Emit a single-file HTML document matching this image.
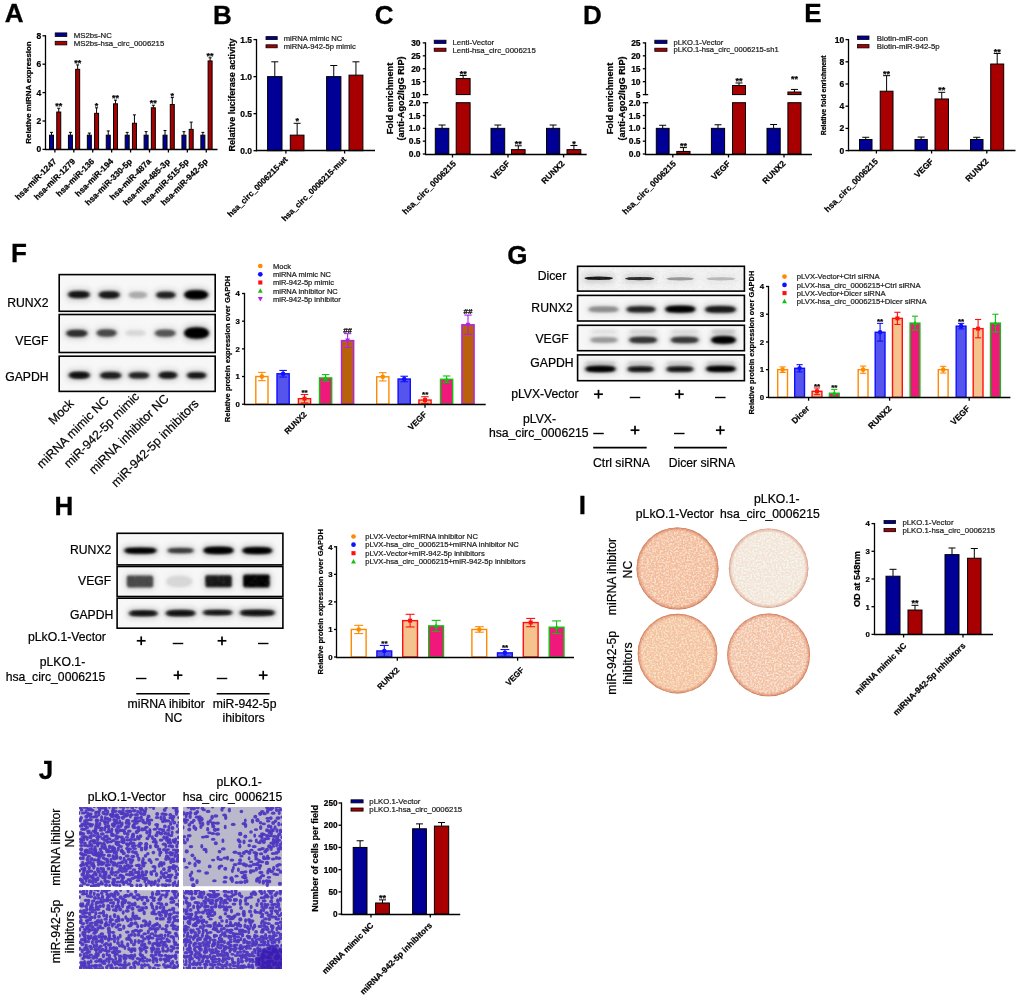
<!DOCTYPE html>
<html><head><meta charset="utf-8"><style>
html,body{margin:0;padding:0;background:#fff;}
svg{display:block;font-family:"Liberation Sans", sans-serif;will-change:transform;}
</style></head><body>
<svg width="1020" height="1000" viewBox="0 0 1020 1000">
<defs><filter id="bl1" x="-50%" y="-100%" width="200%" height="300%"><feGaussianBlur stdDeviation="1.4"/></filter><filter id="bl2" x="-50%" y="-100%" width="200%" height="300%"><feGaussianBlur stdDeviation="1.8"/></filter><filter id="bl3" x="-50%" y="-200%" width="200%" height="500%"><feGaussianBlur stdDeviation="3"/></filter><filter id="noisy" x="-20%" y="-50%" width="140%" height="200%"><feTurbulence type="fractalNoise" baseFrequency="0.6" numOctaves="2" seed="9" result="n"/><feColorMatrix in="n" type="matrix" values="0 0 0 0 0  0 0 0 0 0  0 0 0 0 0  0 0 0 -2.0 2.2" result="m"/><feComposite in="SourceGraphic" in2="m" operator="in" result="t"/><feGaussianBlur in="t" stdDeviation="0.8"/></filter><filter id="bgnoise" x="0" y="0" width="100%" height="100%"><feTurbulence type="fractalNoise" baseFrequency="0.9" numOctaves="2" seed="4" result="n"/><feColorMatrix in="n" type="matrix" values="0 0 0 0 0.45  0 0 0 0 0.45  0 0 0 0 0.45  0 0 0 -0.7 0.42"/></filter><filter id="bl05" x="-50%" y="-100%" width="200%" height="300%"><feGaussianBlur stdDeviation="0.7"/></filter><filter id="speck" x="0" y="0" width="100%" height="100%">
<feTurbulence type="fractalNoise" baseFrequency="0.55" numOctaves="3" seed="5" result="n"/>
<feColorMatrix in="n" type="matrix" values="0 0 0 0 0.90  0 0 0 0 0.50  0 0 0 0 0.33  3.6 0 0 0 -1.15" result="c"/>
<feComposite in="c" in2="SourceGraphic" operator="in"/>
</filter><radialGradient id="wg0"><stop offset="0.9" stop-color="#d07050" stop-opacity="0"/><stop offset="0.97" stop-color="#c86040" stop-opacity="0.405"/><stop offset="1" stop-color="#c05830" stop-opacity="0.81"/></radialGradient><radialGradient id="wg1"><stop offset="0.9" stop-color="#d07050" stop-opacity="0"/><stop offset="0.97" stop-color="#c86040" stop-opacity="0.315"/><stop offset="1" stop-color="#c05830" stop-opacity="0.63"/></radialGradient><radialGradient id="wg2"><stop offset="0.9" stop-color="#d07050" stop-opacity="0"/><stop offset="0.97" stop-color="#c86040" stop-opacity="0.405"/><stop offset="1" stop-color="#c05830" stop-opacity="0.81"/></radialGradient><radialGradient id="wg3"><stop offset="0.9" stop-color="#d07050" stop-opacity="0"/><stop offset="0.97" stop-color="#c86040" stop-opacity="0.405"/><stop offset="1" stop-color="#c05830" stop-opacity="0.81"/></radialGradient></defs>
<rect x="0" y="0" width="1020" height="1000" fill="#fff"/>
<text x="4.75" y="21.70" font-size="26.00" font-weight="bold" text-anchor="start" fill="#000" stroke="#000" stroke-width="0.3">A</text>
<text x="41.25" y="152.46" font-size="8.50" font-weight="bold" text-anchor="end" fill="#000" stroke="#000" stroke-width="0.22">0</text>
<text x="41.25" y="124.06" font-size="8.50" font-weight="bold" text-anchor="end" fill="#000" stroke="#000" stroke-width="0.22">2</text>
<text x="41.25" y="95.66" font-size="8.50" font-weight="bold" text-anchor="end" fill="#000" stroke="#000" stroke-width="0.22">4</text>
<text x="41.25" y="67.26" font-size="8.50" font-weight="bold" text-anchor="end" fill="#000" stroke="#000" stroke-width="0.22">6</text>
<text x="41.25" y="38.86" font-size="8.50" font-weight="bold" text-anchor="end" fill="#000" stroke="#000" stroke-width="0.22">8</text>
<line x1="51.50" y1="135.20" x2="51.50" y2="132.36" stroke="#000" stroke-width="1.0"/>
<line x1="50.00" y1="132.36" x2="53.00" y2="132.36" stroke="#000" stroke-width="1.0"/>
<rect x="49.50" y="135.20" width="4.00" height="14.20" fill="#000096" stroke="#000" stroke-width="1.0"/>
<line x1="58.75" y1="112.05" x2="58.75" y2="108.22" stroke="#000" stroke-width="1.0"/>
<line x1="57.25" y1="108.22" x2="60.25" y2="108.22" stroke="#000" stroke-width="1.0"/>
<rect x="56.75" y="112.05" width="4.00" height="37.35" fill="#a80000" stroke="#000" stroke-width="1.0"/>
<text x="58.75" y="109.32" font-size="9.00" font-weight="bold" text-anchor="middle" fill="#000" stroke="#000" stroke-width="0.22">**</text>
<text x="57.00" y="162.00" font-size="8.40" font-weight="bold" text-anchor="end" fill="#000" stroke="#000" stroke-width="0.22" transform="rotate(-45 57.00 162.00)">hsa-miR-1247</text>
<line x1="70.42" y1="135.20" x2="70.42" y2="132.36" stroke="#000" stroke-width="1.0"/>
<line x1="68.92" y1="132.36" x2="71.92" y2="132.36" stroke="#000" stroke-width="1.0"/>
<rect x="68.42" y="135.20" width="4.00" height="14.20" fill="#000096" stroke="#000" stroke-width="1.0"/>
<line x1="77.67" y1="69.31" x2="77.67" y2="64.91" stroke="#000" stroke-width="1.0"/>
<line x1="76.17" y1="64.91" x2="79.17" y2="64.91" stroke="#000" stroke-width="1.0"/>
<rect x="75.67" y="69.31" width="4.00" height="80.09" fill="#a80000" stroke="#000" stroke-width="1.0"/>
<text x="77.67" y="66.01" font-size="9.00" font-weight="bold" text-anchor="middle" fill="#000" stroke="#000" stroke-width="0.22">**</text>
<text x="75.92" y="162.00" font-size="8.40" font-weight="bold" text-anchor="end" fill="#000" stroke="#000" stroke-width="0.22" transform="rotate(-45 75.92 162.00)">hsa-miR-1279</text>
<line x1="89.34" y1="135.20" x2="89.34" y2="133.07" stroke="#000" stroke-width="1.0"/>
<line x1="87.84" y1="133.07" x2="90.84" y2="133.07" stroke="#000" stroke-width="1.0"/>
<rect x="87.34" y="135.20" width="4.00" height="14.20" fill="#000096" stroke="#000" stroke-width="1.0"/>
<line x1="96.59" y1="113.33" x2="96.59" y2="107.79" stroke="#000" stroke-width="1.0"/>
<line x1="95.09" y1="107.79" x2="98.09" y2="107.79" stroke="#000" stroke-width="1.0"/>
<rect x="94.59" y="113.33" width="4.00" height="36.07" fill="#a80000" stroke="#000" stroke-width="1.0"/>
<text x="96.59" y="108.89" font-size="9.00" font-weight="bold" text-anchor="middle" fill="#000" stroke="#000" stroke-width="0.22">*</text>
<text x="94.84" y="162.00" font-size="8.40" font-weight="bold" text-anchor="end" fill="#000" stroke="#000" stroke-width="0.22" transform="rotate(-45 94.84 162.00)">hsa-miR-136</text>
<line x1="108.26" y1="135.20" x2="108.26" y2="130.94" stroke="#000" stroke-width="1.0"/>
<line x1="106.76" y1="130.94" x2="109.76" y2="130.94" stroke="#000" stroke-width="1.0"/>
<rect x="106.26" y="135.20" width="4.00" height="14.20" fill="#000096" stroke="#000" stroke-width="1.0"/>
<line x1="115.51" y1="103.82" x2="115.51" y2="100.13" stroke="#000" stroke-width="1.0"/>
<line x1="114.01" y1="100.13" x2="117.01" y2="100.13" stroke="#000" stroke-width="1.0"/>
<rect x="113.51" y="103.82" width="4.00" height="45.58" fill="#a80000" stroke="#000" stroke-width="1.0"/>
<text x="115.51" y="101.23" font-size="9.00" font-weight="bold" text-anchor="middle" fill="#000" stroke="#000" stroke-width="0.22">**</text>
<text x="113.76" y="162.00" font-size="8.40" font-weight="bold" text-anchor="end" fill="#000" stroke="#000" stroke-width="0.22" transform="rotate(-45 113.76 162.00)">hsa-miR-194</text>
<line x1="127.18" y1="135.20" x2="127.18" y2="132.36" stroke="#000" stroke-width="1.0"/>
<line x1="125.68" y1="132.36" x2="128.68" y2="132.36" stroke="#000" stroke-width="1.0"/>
<rect x="125.18" y="135.20" width="4.00" height="14.20" fill="#000096" stroke="#000" stroke-width="1.0"/>
<line x1="134.43" y1="123.27" x2="134.43" y2="114.89" stroke="#000" stroke-width="1.0"/>
<line x1="132.93" y1="114.89" x2="135.93" y2="114.89" stroke="#000" stroke-width="1.0"/>
<rect x="132.43" y="123.27" width="4.00" height="26.13" fill="#a80000" stroke="#000" stroke-width="1.0"/>
<text x="132.68" y="162.00" font-size="8.40" font-weight="bold" text-anchor="end" fill="#000" stroke="#000" stroke-width="0.22" transform="rotate(-45 132.68 162.00)">hsa-miR-330-5p</text>
<line x1="146.10" y1="135.20" x2="146.10" y2="131.65" stroke="#000" stroke-width="1.0"/>
<line x1="144.60" y1="131.65" x2="147.60" y2="131.65" stroke="#000" stroke-width="1.0"/>
<rect x="144.10" y="135.20" width="4.00" height="14.20" fill="#000096" stroke="#000" stroke-width="1.0"/>
<line x1="153.35" y1="107.79" x2="153.35" y2="105.24" stroke="#000" stroke-width="1.0"/>
<line x1="151.85" y1="105.24" x2="154.85" y2="105.24" stroke="#000" stroke-width="1.0"/>
<rect x="151.35" y="107.79" width="4.00" height="41.61" fill="#a80000" stroke="#000" stroke-width="1.0"/>
<text x="153.35" y="106.34" font-size="9.00" font-weight="bold" text-anchor="middle" fill="#000" stroke="#000" stroke-width="0.22">**</text>
<text x="151.60" y="162.00" font-size="8.40" font-weight="bold" text-anchor="end" fill="#000" stroke="#000" stroke-width="0.22" transform="rotate(-45 151.60 162.00)">hsa-miR-487a</text>
<line x1="165.02" y1="135.20" x2="165.02" y2="130.51" stroke="#000" stroke-width="1.0"/>
<line x1="163.52" y1="130.51" x2="166.52" y2="130.51" stroke="#000" stroke-width="1.0"/>
<rect x="163.02" y="135.20" width="4.00" height="14.20" fill="#000096" stroke="#000" stroke-width="1.0"/>
<line x1="172.27" y1="104.53" x2="172.27" y2="97.57" stroke="#000" stroke-width="1.0"/>
<line x1="170.77" y1="97.57" x2="173.77" y2="97.57" stroke="#000" stroke-width="1.0"/>
<rect x="170.27" y="104.53" width="4.00" height="44.87" fill="#a80000" stroke="#000" stroke-width="1.0"/>
<text x="172.27" y="98.67" font-size="9.00" font-weight="bold" text-anchor="middle" fill="#000" stroke="#000" stroke-width="0.22">*</text>
<text x="170.52" y="162.00" font-size="8.40" font-weight="bold" text-anchor="end" fill="#000" stroke="#000" stroke-width="0.22" transform="rotate(-45 170.52 162.00)">hsa-miR-485-3p</text>
<line x1="183.94" y1="135.20" x2="183.94" y2="131.65" stroke="#000" stroke-width="1.0"/>
<line x1="182.44" y1="131.65" x2="185.44" y2="131.65" stroke="#000" stroke-width="1.0"/>
<rect x="181.94" y="135.20" width="4.00" height="14.20" fill="#000096" stroke="#000" stroke-width="1.0"/>
<line x1="191.19" y1="129.38" x2="191.19" y2="122.14" stroke="#000" stroke-width="1.0"/>
<line x1="189.69" y1="122.14" x2="192.69" y2="122.14" stroke="#000" stroke-width="1.0"/>
<rect x="189.19" y="129.38" width="4.00" height="20.02" fill="#a80000" stroke="#000" stroke-width="1.0"/>
<text x="189.44" y="162.00" font-size="8.40" font-weight="bold" text-anchor="end" fill="#000" stroke="#000" stroke-width="0.22" transform="rotate(-45 189.44 162.00)">hsa-miR-515-5p</text>
<line x1="202.86" y1="135.20" x2="202.86" y2="132.36" stroke="#000" stroke-width="1.0"/>
<line x1="201.36" y1="132.36" x2="204.36" y2="132.36" stroke="#000" stroke-width="1.0"/>
<rect x="200.86" y="135.20" width="4.00" height="14.20" fill="#000096" stroke="#000" stroke-width="1.0"/>
<line x1="210.11" y1="60.93" x2="210.11" y2="57.81" stroke="#000" stroke-width="1.0"/>
<line x1="208.61" y1="57.81" x2="211.61" y2="57.81" stroke="#000" stroke-width="1.0"/>
<rect x="208.11" y="60.93" width="4.00" height="88.47" fill="#a80000" stroke="#000" stroke-width="1.0"/>
<text x="210.11" y="58.91" font-size="9.00" font-weight="bold" text-anchor="middle" fill="#000" stroke="#000" stroke-width="0.22">**</text>
<text x="208.36" y="162.00" font-size="8.40" font-weight="bold" text-anchor="end" fill="#000" stroke="#000" stroke-width="0.22" transform="rotate(-45 208.36 162.00)">hsa-miR-942-5p</text>
<rect x="55.20" y="32.90" width="11.60" height="3.60" fill="#000096" stroke="#000" stroke-width="0.8"/>
<text x="73.70" y="37.51" font-size="7.80" font-weight="normal" text-anchor="start" fill="#222" stroke="#222" stroke-width="0.22">MS2bs-NC</text>
<rect x="55.20" y="41.30" width="11.60" height="3.60" fill="#a80000" stroke="#000" stroke-width="0.8"/>
<text x="73.70" y="45.91" font-size="7.80" font-weight="normal" text-anchor="start" fill="#222" stroke="#222" stroke-width="0.22">MS2bs-hsa_circ_0006215</text>
<text x="30.84" y="92.50" font-size="7.90" font-weight="bold" text-anchor="middle" fill="#000" stroke="#000" stroke-width="0.22" transform="rotate(-90 30.84 92.50)">Relative miRNA expression</text>
<text x="213.10" y="24.40" font-size="26.00" font-weight="bold" text-anchor="start" fill="#000" stroke="#000" stroke-width="0.3">B</text>
<text x="252.05" y="153.76" font-size="8.50" font-weight="bold" text-anchor="end" fill="#000" stroke="#000" stroke-width="0.22">0.0</text>
<text x="252.05" y="116.73" font-size="8.50" font-weight="bold" text-anchor="end" fill="#000" stroke="#000" stroke-width="0.22">0.5</text>
<text x="252.05" y="79.69" font-size="8.50" font-weight="bold" text-anchor="end" fill="#000" stroke="#000" stroke-width="0.22">1.0</text>
<text x="252.05" y="42.66" font-size="8.50" font-weight="bold" text-anchor="end" fill="#000" stroke="#000" stroke-width="0.22">1.5</text>
<line x1="274.80" y1="76.63" x2="274.80" y2="61.82" stroke="#000" stroke-width="1.0"/>
<line x1="271.30" y1="61.82" x2="278.30" y2="61.82" stroke="#000" stroke-width="1.0"/>
<rect x="267.60" y="76.63" width="14.40" height="74.07" fill="#000096" stroke="#000" stroke-width="1.0"/>
<line x1="297.15" y1="135.15" x2="297.15" y2="123.30" stroke="#000" stroke-width="1.0"/>
<line x1="293.65" y1="123.30" x2="300.65" y2="123.30" stroke="#000" stroke-width="1.0"/>
<rect x="290.30" y="135.15" width="13.70" height="15.55" fill="#a80000" stroke="#000" stroke-width="1.0"/>
<text x="297.15" y="124.40" font-size="9.00" font-weight="bold" text-anchor="middle" fill="#000" stroke="#000" stroke-width="0.22">*</text>
<line x1="333.75" y1="76.63" x2="333.75" y2="65.52" stroke="#000" stroke-width="1.0"/>
<line x1="330.25" y1="65.52" x2="337.25" y2="65.52" stroke="#000" stroke-width="1.0"/>
<rect x="326.60" y="76.63" width="14.30" height="74.07" fill="#000096" stroke="#000" stroke-width="1.0"/>
<line x1="355.95" y1="75.15" x2="355.95" y2="61.82" stroke="#000" stroke-width="1.0"/>
<line x1="352.45" y1="61.82" x2="359.45" y2="61.82" stroke="#000" stroke-width="1.0"/>
<rect x="349.00" y="75.15" width="13.90" height="75.55" fill="#a80000" stroke="#000" stroke-width="1.0"/>
<text x="288.30" y="160.00" font-size="8.20" font-weight="bold" text-anchor="end" fill="#000" stroke="#000" stroke-width="0.22" transform="rotate(-45 288.30 160.00)">hsa_circ_0006215-wt</text>
<text x="346.80" y="160.00" font-size="8.20" font-weight="bold" text-anchor="end" fill="#000" stroke="#000" stroke-width="0.22" transform="rotate(-45 346.80 160.00)">hsa_circ_0006215-mut</text>
<rect x="266.00" y="36.60" width="11.20" height="3.00" fill="#000096" stroke="#000" stroke-width="0.8"/>
<text x="283.70" y="40.84" font-size="7.60" font-weight="normal" text-anchor="start" fill="#222" stroke="#222" stroke-width="0.22">miRNA mimic NC</text>
<rect x="266.00" y="44.80" width="11.20" height="3.00" fill="#a80000" stroke="#000" stroke-width="0.8"/>
<text x="283.70" y="49.04" font-size="7.60" font-weight="normal" text-anchor="start" fill="#222" stroke="#222" stroke-width="0.22">miRNA-942-5p mimic</text>
<text x="235.25" y="95.00" font-size="9.04" font-weight="bold" text-anchor="middle" fill="#000" stroke="#000" stroke-width="0.22" transform="rotate(-90 235.25 95.00)">Relative luciferase activity</text>
<text x="374.80" y="24.30" font-size="26.00" font-weight="bold" text-anchor="start" fill="#000" stroke="#000" stroke-width="0.3">C</text>
<text x="420.60" y="45.96" font-size="8.50" font-weight="bold" text-anchor="end" fill="#000" stroke="#000" stroke-width="0.22">30</text>
<text x="420.60" y="58.89" font-size="8.50" font-weight="bold" text-anchor="end" fill="#000" stroke="#000" stroke-width="0.22">25</text>
<text x="420.60" y="71.81" font-size="8.50" font-weight="bold" text-anchor="end" fill="#000" stroke="#000" stroke-width="0.22">20</text>
<text x="420.60" y="84.73" font-size="8.50" font-weight="bold" text-anchor="end" fill="#000" stroke="#000" stroke-width="0.22">15</text>
<text x="420.60" y="97.66" font-size="8.50" font-weight="bold" text-anchor="end" fill="#000" stroke="#000" stroke-width="0.22">10</text>
<text x="420.60" y="157.06" font-size="8.50" font-weight="bold" text-anchor="end" fill="#000" stroke="#000" stroke-width="0.22">0.0</text>
<text x="420.60" y="144.24" font-size="8.50" font-weight="bold" text-anchor="end" fill="#000" stroke="#000" stroke-width="0.22">0.5</text>
<text x="420.60" y="131.41" font-size="8.50" font-weight="bold" text-anchor="end" fill="#000" stroke="#000" stroke-width="0.22">1.0</text>
<text x="420.60" y="118.59" font-size="8.50" font-weight="bold" text-anchor="end" fill="#000" stroke="#000" stroke-width="0.22">1.5</text>
<text x="420.60" y="105.76" font-size="8.50" font-weight="bold" text-anchor="end" fill="#000" stroke="#000" stroke-width="0.22">2.0</text>
<line x1="442.05" y1="128.35" x2="442.05" y2="125.02" stroke="#000" stroke-width="1.0"/>
<line x1="438.55" y1="125.02" x2="445.55" y2="125.02" stroke="#000" stroke-width="1.0"/>
<rect x="435.30" y="128.35" width="13.50" height="25.65" fill="#000096" stroke="#000" stroke-width="1.0"/>
<line x1="463.15" y1="78.57" x2="463.15" y2="75.47" stroke="#000" stroke-width="1.0"/>
<line x1="459.65" y1="75.47" x2="466.65" y2="75.47" stroke="#000" stroke-width="1.0"/>
<rect x="456.20" y="102.70" width="13.90" height="51.30" fill="#a80000" stroke="#000" stroke-width="1.0"/>
<rect x="456.20" y="78.57" width="13.90" height="16.03" fill="#a80000" stroke="#000" stroke-width="1.0"/>
<text x="463.15" y="76.57" font-size="9.00" font-weight="bold" text-anchor="middle" fill="#000" stroke="#000" stroke-width="0.22">**</text>
<line x1="497.85" y1="128.35" x2="497.85" y2="125.02" stroke="#000" stroke-width="1.0"/>
<line x1="494.35" y1="125.02" x2="501.35" y2="125.02" stroke="#000" stroke-width="1.0"/>
<rect x="491.00" y="128.35" width="13.70" height="25.65" fill="#000096" stroke="#000" stroke-width="1.0"/>
<line x1="518.30" y1="149.64" x2="518.30" y2="145.79" stroke="#000" stroke-width="1.0"/>
<line x1="514.80" y1="145.79" x2="521.80" y2="145.79" stroke="#000" stroke-width="1.0"/>
<rect x="511.50" y="149.64" width="13.60" height="4.36" fill="#a80000" stroke="#000" stroke-width="1.0"/>
<text x="518.30" y="146.89" font-size="9.00" font-weight="bold" text-anchor="middle" fill="#000" stroke="#000" stroke-width="0.22">**</text>
<line x1="553.10" y1="128.35" x2="553.10" y2="125.02" stroke="#000" stroke-width="1.0"/>
<line x1="549.60" y1="125.02" x2="556.60" y2="125.02" stroke="#000" stroke-width="1.0"/>
<rect x="546.50" y="128.35" width="13.20" height="25.65" fill="#000096" stroke="#000" stroke-width="1.0"/>
<line x1="573.90" y1="149.64" x2="573.90" y2="145.54" stroke="#000" stroke-width="1.0"/>
<line x1="570.40" y1="145.54" x2="577.40" y2="145.54" stroke="#000" stroke-width="1.0"/>
<rect x="567.00" y="149.64" width="13.80" height="4.36" fill="#a80000" stroke="#000" stroke-width="1.0"/>
<text x="573.90" y="146.64" font-size="9.00" font-weight="bold" text-anchor="middle" fill="#000" stroke="#000" stroke-width="0.22">*</text>
<text x="456.50" y="164.20" font-size="8.45" font-weight="bold" text-anchor="end" fill="#000" stroke="#000" stroke-width="0.22" transform="rotate(-45 456.50 164.20)">hsa_circ_0006215</text>
<text x="510.50" y="164.20" font-size="8.45" font-weight="bold" text-anchor="end" fill="#000" stroke="#000" stroke-width="0.22" transform="rotate(-45 510.50 164.20)">VEGF</text>
<text x="565.00" y="164.20" font-size="8.45" font-weight="bold" text-anchor="end" fill="#000" stroke="#000" stroke-width="0.22" transform="rotate(-45 565.00 164.20)">RUNX2</text>
<rect x="434.20" y="40.20" width="11.80" height="3.20" fill="#000096" stroke="#000" stroke-width="0.8"/>
<text x="452.50" y="44.61" font-size="7.80" font-weight="normal" text-anchor="start" fill="#222" stroke="#222" stroke-width="0.22">Lenti-Vector</text>
<rect x="434.20" y="48.20" width="11.80" height="3.10" fill="#a80000" stroke="#000" stroke-width="0.8"/>
<text x="452.50" y="52.56" font-size="7.80" font-weight="normal" text-anchor="start" fill="#222" stroke="#222" stroke-width="0.22">Lenti-hsa_circ_0006215</text>
<text x="392.81" y="98.50" font-size="9.20" font-weight="bold" text-anchor="middle" fill="#000" stroke="#000" stroke-width="0.22" transform="rotate(-90 392.81 98.50)">Fold enrichment</text>
<text x="403.81" y="98.50" font-size="9.20" font-weight="bold" text-anchor="middle" fill="#000" stroke="#000" stroke-width="0.22" transform="rotate(-90 403.81 98.50)">(anti-Ago2/IgG RIP)</text>
<text x="582.90" y="24.30" font-size="26.00" font-weight="bold" text-anchor="start" fill="#000" stroke="#000" stroke-width="0.3">D</text>
<text x="640.60" y="45.96" font-size="8.50" font-weight="bold" text-anchor="end" fill="#000" stroke="#000" stroke-width="0.22">25</text>
<text x="640.60" y="58.89" font-size="8.50" font-weight="bold" text-anchor="end" fill="#000" stroke="#000" stroke-width="0.22">20</text>
<text x="640.60" y="71.81" font-size="8.50" font-weight="bold" text-anchor="end" fill="#000" stroke="#000" stroke-width="0.22">15</text>
<text x="640.60" y="84.73" font-size="8.50" font-weight="bold" text-anchor="end" fill="#000" stroke="#000" stroke-width="0.22">10</text>
<text x="640.60" y="97.66" font-size="8.50" font-weight="bold" text-anchor="end" fill="#000" stroke="#000" stroke-width="0.22">5</text>
<text x="640.60" y="157.06" font-size="8.50" font-weight="bold" text-anchor="end" fill="#000" stroke="#000" stroke-width="0.22">0.0</text>
<text x="640.60" y="144.24" font-size="8.50" font-weight="bold" text-anchor="end" fill="#000" stroke="#000" stroke-width="0.22">0.5</text>
<text x="640.60" y="131.41" font-size="8.50" font-weight="bold" text-anchor="end" fill="#000" stroke="#000" stroke-width="0.22">1.0</text>
<text x="640.60" y="118.59" font-size="8.50" font-weight="bold" text-anchor="end" fill="#000" stroke="#000" stroke-width="0.22">1.5</text>
<text x="640.60" y="105.76" font-size="8.50" font-weight="bold" text-anchor="end" fill="#000" stroke="#000" stroke-width="0.22">2.0</text>
<line x1="662.70" y1="128.35" x2="662.70" y2="125.27" stroke="#000" stroke-width="1.0"/>
<line x1="659.20" y1="125.27" x2="666.20" y2="125.27" stroke="#000" stroke-width="1.0"/>
<rect x="656.30" y="128.35" width="12.80" height="25.65" fill="#000096" stroke="#000" stroke-width="1.0"/>
<line x1="683.40" y1="151.44" x2="683.40" y2="147.59" stroke="#000" stroke-width="1.0"/>
<line x1="679.90" y1="147.59" x2="686.90" y2="147.59" stroke="#000" stroke-width="1.0"/>
<rect x="676.80" y="151.44" width="13.20" height="2.56" fill="#a80000" stroke="#000" stroke-width="1.0"/>
<text x="683.40" y="148.69" font-size="9.00" font-weight="bold" text-anchor="middle" fill="#000" stroke="#000" stroke-width="0.22">**</text>
<line x1="718.00" y1="128.35" x2="718.00" y2="124.76" stroke="#000" stroke-width="1.0"/>
<line x1="714.50" y1="124.76" x2="721.50" y2="124.76" stroke="#000" stroke-width="1.0"/>
<rect x="711.40" y="128.35" width="13.20" height="25.65" fill="#000096" stroke="#000" stroke-width="1.0"/>
<line x1="739.00" y1="85.55" x2="739.00" y2="82.97" stroke="#000" stroke-width="1.0"/>
<line x1="735.50" y1="82.97" x2="742.50" y2="82.97" stroke="#000" stroke-width="1.0"/>
<rect x="732.50" y="102.70" width="13.00" height="51.30" fill="#a80000" stroke="#000" stroke-width="1.0"/>
<rect x="732.50" y="85.55" width="13.00" height="9.05" fill="#a80000" stroke="#000" stroke-width="1.0"/>
<text x="739.00" y="84.07" font-size="9.00" font-weight="bold" text-anchor="middle" fill="#000" stroke="#000" stroke-width="0.22">**</text>
<line x1="773.60" y1="128.35" x2="773.60" y2="124.50" stroke="#000" stroke-width="1.0"/>
<line x1="770.10" y1="124.50" x2="777.10" y2="124.50" stroke="#000" stroke-width="1.0"/>
<rect x="767.00" y="128.35" width="13.20" height="25.65" fill="#000096" stroke="#000" stroke-width="1.0"/>
<line x1="794.45" y1="92.02" x2="794.45" y2="89.43" stroke="#000" stroke-width="1.0"/>
<line x1="790.95" y1="89.43" x2="797.95" y2="89.43" stroke="#000" stroke-width="1.0"/>
<rect x="787.90" y="102.70" width="13.10" height="51.30" fill="#a80000" stroke="#000" stroke-width="1.0"/>
<rect x="787.90" y="92.02" width="13.10" height="2.58" fill="#a80000" stroke="#000" stroke-width="1.0"/>
<text x="794.45" y="81.60" font-size="9.00" font-weight="bold" text-anchor="middle" fill="#000" stroke="#000" stroke-width="0.22">**</text>
<text x="676.50" y="164.20" font-size="8.45" font-weight="bold" text-anchor="end" fill="#000" stroke="#000" stroke-width="0.22" transform="rotate(-45 676.50 164.20)">hsa_circ_0006215</text>
<text x="731.00" y="164.20" font-size="8.45" font-weight="bold" text-anchor="end" fill="#000" stroke="#000" stroke-width="0.22" transform="rotate(-45 731.00 164.20)">VEGF</text>
<text x="786.00" y="164.20" font-size="8.45" font-weight="bold" text-anchor="end" fill="#000" stroke="#000" stroke-width="0.22" transform="rotate(-45 786.00 164.20)">RUNX2</text>
<rect x="654.80" y="40.20" width="12.20" height="3.20" fill="#000096" stroke="#000" stroke-width="0.8"/>
<text x="673.50" y="44.54" font-size="7.60" font-weight="normal" text-anchor="start" fill="#222" stroke="#222" stroke-width="0.22">pLKO.1-Vector</text>
<rect x="654.80" y="48.20" width="12.20" height="3.10" fill="#a80000" stroke="#000" stroke-width="0.8"/>
<text x="673.50" y="52.49" font-size="7.60" font-weight="normal" text-anchor="start" fill="#222" stroke="#222" stroke-width="0.22">pLKO.1-hsa_circ_0006215-sh1</text>
<text x="612.81" y="98.50" font-size="9.20" font-weight="bold" text-anchor="middle" fill="#000" stroke="#000" stroke-width="0.22" transform="rotate(-90 612.81 98.50)">Fold enrichment</text>
<text x="624.81" y="98.50" font-size="9.20" font-weight="bold" text-anchor="middle" fill="#000" stroke="#000" stroke-width="0.22" transform="rotate(-90 624.81 98.50)">(anti-Ago2/IgG RIP)</text>
<text x="804.30" y="22.30" font-size="26.00" font-weight="bold" text-anchor="start" fill="#000" stroke="#000" stroke-width="0.3">E</text>
<text x="844.15" y="153.66" font-size="8.50" font-weight="bold" text-anchor="end" fill="#000" stroke="#000" stroke-width="0.22">0</text>
<text x="844.15" y="131.46" font-size="8.50" font-weight="bold" text-anchor="end" fill="#000" stroke="#000" stroke-width="0.22">2</text>
<text x="844.15" y="109.26" font-size="8.50" font-weight="bold" text-anchor="end" fill="#000" stroke="#000" stroke-width="0.22">4</text>
<text x="844.15" y="87.06" font-size="8.50" font-weight="bold" text-anchor="end" fill="#000" stroke="#000" stroke-width="0.22">6</text>
<text x="844.15" y="64.86" font-size="8.50" font-weight="bold" text-anchor="end" fill="#000" stroke="#000" stroke-width="0.22">8</text>
<text x="844.15" y="42.66" font-size="8.50" font-weight="bold" text-anchor="end" fill="#000" stroke="#000" stroke-width="0.22">10</text>
<line x1="865.75" y1="139.50" x2="865.75" y2="137.28" stroke="#000" stroke-width="1.0"/>
<line x1="862.25" y1="137.28" x2="869.25" y2="137.28" stroke="#000" stroke-width="1.0"/>
<rect x="859.50" y="139.50" width="12.50" height="11.10" fill="#000096" stroke="#000" stroke-width="1.0"/>
<line x1="886.60" y1="91.22" x2="886.60" y2="75.67" stroke="#000" stroke-width="1.0"/>
<line x1="883.10" y1="75.67" x2="890.10" y2="75.67" stroke="#000" stroke-width="1.0"/>
<rect x="880.20" y="91.22" width="12.80" height="59.38" fill="#a80000" stroke="#000" stroke-width="1.0"/>
<text x="886.60" y="76.77" font-size="9.00" font-weight="bold" text-anchor="middle" fill="#000" stroke="#000" stroke-width="0.22">**</text>
<line x1="921.15" y1="139.50" x2="921.15" y2="137.06" stroke="#000" stroke-width="1.0"/>
<line x1="917.65" y1="137.06" x2="924.65" y2="137.06" stroke="#000" stroke-width="1.0"/>
<rect x="915.00" y="139.50" width="12.30" height="11.10" fill="#000096" stroke="#000" stroke-width="1.0"/>
<line x1="941.75" y1="98.98" x2="941.75" y2="92.32" stroke="#000" stroke-width="1.0"/>
<line x1="938.25" y1="92.32" x2="945.25" y2="92.32" stroke="#000" stroke-width="1.0"/>
<rect x="935.00" y="98.98" width="13.50" height="51.62" fill="#a80000" stroke="#000" stroke-width="1.0"/>
<text x="941.75" y="93.42" font-size="9.00" font-weight="bold" text-anchor="middle" fill="#000" stroke="#000" stroke-width="0.22">**</text>
<line x1="976.75" y1="139.50" x2="976.75" y2="137.28" stroke="#000" stroke-width="1.0"/>
<line x1="973.25" y1="137.28" x2="980.25" y2="137.28" stroke="#000" stroke-width="1.0"/>
<rect x="970.50" y="139.50" width="12.50" height="11.10" fill="#000096" stroke="#000" stroke-width="1.0"/>
<line x1="997.20" y1="64.02" x2="997.20" y2="53.47" stroke="#000" stroke-width="1.0"/>
<line x1="993.70" y1="53.47" x2="1000.70" y2="53.47" stroke="#000" stroke-width="1.0"/>
<rect x="990.70" y="64.02" width="13.00" height="86.58" fill="#a80000" stroke="#000" stroke-width="1.0"/>
<text x="997.20" y="54.57" font-size="9.00" font-weight="bold" text-anchor="middle" fill="#000" stroke="#000" stroke-width="0.22">**</text>
<text x="878.50" y="162.00" font-size="8.45" font-weight="bold" text-anchor="end" fill="#000" stroke="#000" stroke-width="0.22" transform="rotate(-45 878.50 162.00)">hsa_circ_0006215</text>
<text x="934.00" y="162.00" font-size="8.45" font-weight="bold" text-anchor="end" fill="#000" stroke="#000" stroke-width="0.22" transform="rotate(-45 934.00 162.00)">VEGF</text>
<text x="989.00" y="162.00" font-size="8.45" font-weight="bold" text-anchor="end" fill="#000" stroke="#000" stroke-width="0.22" transform="rotate(-45 989.00 162.00)">RUNX2</text>
<rect x="857.60" y="36.00" width="11.40" height="3.50" fill="#000096" stroke="#000" stroke-width="0.8"/>
<text x="876.80" y="40.56" font-size="7.80" font-weight="normal" text-anchor="start" fill="#222" stroke="#222" stroke-width="0.22">Biotin-miR-con</text>
<rect x="857.60" y="44.60" width="11.40" height="3.30" fill="#a80000" stroke="#000" stroke-width="0.8"/>
<text x="876.80" y="49.06" font-size="7.80" font-weight="normal" text-anchor="start" fill="#222" stroke="#222" stroke-width="0.22">Biotin-miR-942-5p</text>
<text x="826.48" y="95.30" font-size="6.89" font-weight="bold" text-anchor="middle" fill="#000" stroke="#000" stroke-width="0.22" transform="rotate(-90 826.48 95.30)">Relative fold enrichment</text>
<text x="11.10" y="262.30" font-size="26.00" font-weight="bold" text-anchor="start" fill="#000" stroke="#000" stroke-width="0.3">F</text>
<rect x="59.20" y="274.60" width="156.00" height="36.70" fill="#f7f7f7" stroke="none" stroke-width="1"/>
<svg x="59.2" y="274.6" width="156.0" height="36.7" viewBox="59.2 274.6 156.0 36.7">
<rect x="67.0" y="289.4" width="23.8" height="10.5" rx="4.2" fill="rgb(20,20,20)" opacity="0.22" filter="url(#bl3)"/>
<ellipse cx="78.9" cy="294.6" rx="11.4" ry="3.4" fill="rgb(20,20,20)" filter="url(#bl1)"/>
<rect x="70.0" y="292.3" width="17.8" height="4.5" rx="2.3" fill="rgb(20,20,20)" filter="url(#bl1)"/>
<rect x="97.7" y="289.6" width="23.0" height="10.5" rx="4.2" fill="rgb(25,25,25)" opacity="0.22" filter="url(#bl3)"/>
<ellipse cx="109.2" cy="294.8" rx="11.0" ry="3.4" fill="rgb(25,25,25)" filter="url(#bl1)"/>
<rect x="100.7" y="292.5" width="17.0" height="4.5" rx="2.3" fill="rgb(25,25,25)" filter="url(#bl1)"/>
<rect x="127.6" y="290.3" width="20.6" height="9.3" rx="3.7" fill="rgb(170,170,170)" opacity="0.22" filter="url(#bl3)"/>
<ellipse cx="137.9" cy="295.0" rx="9.8" ry="2.9" fill="rgb(170,170,170)" filter="url(#bl1)"/>
<rect x="130.6" y="293.1" width="14.6" height="3.8" rx="1.9" fill="rgb(170,170,170)" filter="url(#bl1)"/>
<rect x="155.1" y="290.1" width="21.4" height="9.9" rx="3.9" fill="rgb(35,35,35)" opacity="0.22" filter="url(#bl3)"/>
<ellipse cx="165.8" cy="295.0" rx="10.2" ry="3.2" fill="rgb(35,35,35)" filter="url(#bl1)"/>
<rect x="158.1" y="292.9" width="15.4" height="4.2" rx="2.1" fill="rgb(35,35,35)" filter="url(#bl1)"/>
<rect x="183.4" y="288.4" width="25.5" height="12.8" rx="5.4" fill="rgb(5,5,5)" opacity="0.22" filter="url(#bl3)"/>
<ellipse cx="196.2" cy="294.8" rx="12.2" ry="4.5" fill="rgb(5,5,5)" filter="url(#bl1)"/>
<rect x="186.4" y="291.8" width="19.5" height="5.9" rx="3.0" fill="rgb(5,5,5)" filter="url(#bl1)"/>
</svg>
<rect x="59.20" y="274.60" width="156.00" height="36.70" fill="none" stroke="#000" stroke-width="1.6"/>
<rect x="59.20" y="314.50" width="156.00" height="38.00" fill="#f7f7f7" stroke="none" stroke-width="1"/>
<svg x="59.2" y="314.5" width="156.0" height="38.0" viewBox="59.2 314.5 156.0 38.0">
<rect x="65.3" y="328.1" width="23.1" height="10.5" rx="4.2" fill="rgb(45,45,45)" opacity="0.22" filter="url(#bl3)"/>
<ellipse cx="76.8" cy="333.3" rx="11.1" ry="3.4" fill="rgb(45,45,45)" filter="url(#bl1)"/>
<rect x="68.3" y="331.0" width="17.1" height="4.5" rx="2.3" fill="rgb(45,45,45)" filter="url(#bl1)"/>
<rect x="95.7" y="327.8" width="21.8" height="10.5" rx="4.2" fill="rgb(70,70,70)" opacity="0.22" filter="url(#bl3)"/>
<ellipse cx="106.6" cy="333.0" rx="10.4" ry="3.4" fill="rgb(70,70,70)" filter="url(#bl1)"/>
<rect x="98.7" y="330.7" width="15.8" height="4.5" rx="2.3" fill="rgb(70,70,70)" filter="url(#bl1)"/>
<rect x="124.4" y="328.6" width="22.2" height="8.8" rx="3.4" fill="rgb(215,215,215)" opacity="0.22" filter="url(#bl3)"/>
<ellipse cx="135.5" cy="333.0" rx="10.6" ry="2.6" fill="rgb(215,215,215)" filter="url(#bl1)"/>
<rect x="127.4" y="331.2" width="16.2" height="3.5" rx="1.8" fill="rgb(215,215,215)" filter="url(#bl1)"/>
<rect x="154.0" y="328.0" width="22.5" height="10.5" rx="4.2" fill="rgb(85,85,85)" opacity="0.22" filter="url(#bl3)"/>
<ellipse cx="165.2" cy="333.2" rx="10.8" ry="3.4" fill="rgb(85,85,85)" filter="url(#bl1)"/>
<rect x="157.0" y="330.9" width="16.5" height="4.5" rx="2.3" fill="rgb(85,85,85)" filter="url(#bl1)"/>
<rect x="183.4" y="325.2" width="26.3" height="15.6" rx="6.8" fill="rgb(5,5,5)" opacity="0.22" filter="url(#bl3)"/>
<ellipse cx="196.6" cy="333.0" rx="12.6" ry="5.8" fill="rgb(5,5,5)" filter="url(#bl2)"/>
<rect x="186.4" y="329.1" width="20.3" height="7.7" rx="3.8" fill="rgb(5,5,5)" filter="url(#bl2)"/>
</svg>
<rect x="59.20" y="314.50" width="156.00" height="38.00" fill="none" stroke="#000" stroke-width="1.6"/>
<rect x="59.20" y="356.20" width="156.00" height="35.20" fill="#f7f7f7" stroke="none" stroke-width="1"/>
<svg x="59.2" y="356.2" width="156.0" height="35.2" viewBox="59.2 356.2 156.0 35.2">
<rect x="67.8" y="370.2" width="23.0" height="9.9" rx="3.9" fill="rgb(15,15,15)" opacity="0.22" filter="url(#bl3)"/>
<ellipse cx="79.3" cy="375.2" rx="11.0" ry="3.2" fill="rgb(15,15,15)" filter="url(#bl1)"/>
<rect x="70.8" y="373.1" width="17.0" height="4.2" rx="2.1" fill="rgb(15,15,15)" filter="url(#bl1)"/>
<rect x="99.0" y="370.4" width="23.3" height="9.9" rx="3.9" fill="rgb(30,30,30)" opacity="0.22" filter="url(#bl3)"/>
<ellipse cx="110.7" cy="375.4" rx="11.1" ry="3.2" fill="rgb(30,30,30)" filter="url(#bl1)"/>
<rect x="102.0" y="373.3" width="17.3" height="4.2" rx="2.1" fill="rgb(30,30,30)" filter="url(#bl1)"/>
<rect x="127.6" y="370.7" width="22.6" height="9.3" rx="3.7" fill="rgb(35,35,35)" opacity="0.22" filter="url(#bl3)"/>
<ellipse cx="138.9" cy="375.4" rx="10.8" ry="2.9" fill="rgb(35,35,35)" filter="url(#bl1)"/>
<rect x="130.6" y="373.5" width="16.6" height="3.8" rx="1.9" fill="rgb(35,35,35)" filter="url(#bl1)"/>
<rect x="157.6" y="370.2" width="20.6" height="9.9" rx="3.9" fill="rgb(20,20,20)" opacity="0.22" filter="url(#bl3)"/>
<ellipse cx="167.9" cy="375.2" rx="9.8" ry="3.2" fill="rgb(20,20,20)" filter="url(#bl1)"/>
<rect x="160.6" y="373.1" width="14.6" height="4.2" rx="2.1" fill="rgb(20,20,20)" filter="url(#bl1)"/>
<rect x="185.9" y="370.7" width="21.4" height="9.3" rx="3.7" fill="rgb(25,25,25)" opacity="0.22" filter="url(#bl3)"/>
<ellipse cx="196.6" cy="375.4" rx="10.2" ry="2.9" fill="rgb(25,25,25)" filter="url(#bl1)"/>
<rect x="188.9" y="373.5" width="15.4" height="3.8" rx="1.9" fill="rgb(25,25,25)" filter="url(#bl1)"/>
</svg>
<rect x="59.20" y="356.20" width="156.00" height="35.20" fill="none" stroke="#000" stroke-width="1.6"/>
<text x="48.50" y="306.50" font-size="12.20" font-weight="normal" text-anchor="end" fill="#000" stroke="#000" stroke-width="0.22">RUNX2</text>
<text x="48.50" y="345.00" font-size="12.20" font-weight="normal" text-anchor="end" fill="#000" stroke="#000" stroke-width="0.22">VEGF</text>
<text x="48.50" y="381.00" font-size="12.20" font-weight="normal" text-anchor="end" fill="#000" stroke="#000" stroke-width="0.22">GAPDH</text>
<text x="74.50" y="404.40" font-size="12.40" font-weight="normal" text-anchor="end" fill="#000" stroke="#000" stroke-width="0.22" transform="rotate(-45 74.50 404.40)">Mock</text>
<text x="109.50" y="401.40" font-size="12.40" font-weight="normal" text-anchor="end" fill="#000" stroke="#000" stroke-width="0.22" transform="rotate(-45 109.50 401.40)">miRNA mimic NC</text>
<text x="140.00" y="397.40" font-size="12.40" font-weight="normal" text-anchor="end" fill="#000" stroke="#000" stroke-width="0.22" transform="rotate(-45 140.00 397.40)">miR-942-5p mimic</text>
<text x="169.50" y="399.40" font-size="12.40" font-weight="normal" text-anchor="end" fill="#000" stroke="#000" stroke-width="0.22" transform="rotate(-45 169.50 399.40)">miRNA inhibitor NC</text>
<text x="199.50" y="404.40" font-size="12.40" font-weight="normal" text-anchor="end" fill="#000" stroke="#000" stroke-width="0.22" transform="rotate(-45 199.50 404.40)">miR-942-5p inhibitors</text>
<text x="239.90" y="407.01" font-size="7.80" font-weight="bold" text-anchor="end" fill="#000" stroke="#000" stroke-width="0.22">0</text>
<text x="239.90" y="379.33" font-size="7.80" font-weight="bold" text-anchor="end" fill="#000" stroke="#000" stroke-width="0.22">1</text>
<text x="239.90" y="351.66" font-size="7.80" font-weight="bold" text-anchor="end" fill="#000" stroke="#000" stroke-width="0.22">2</text>
<text x="239.90" y="323.98" font-size="7.80" font-weight="bold" text-anchor="end" fill="#000" stroke="#000" stroke-width="0.22">3</text>
<text x="239.90" y="296.31" font-size="7.80" font-weight="bold" text-anchor="end" fill="#000" stroke="#000" stroke-width="0.22">4</text>
<rect x="255.80" y="376.52" width="12.20" height="27.68" fill="#ffffff" stroke="#ff8a00" stroke-width="1.4"/>
<line x1="261.90" y1="372.37" x2="261.90" y2="380.68" stroke="#ff8a00" stroke-width="1.1"/>
<line x1="258.16" y1="372.37" x2="265.64" y2="372.37" stroke="#ff8a00" stroke-width="1.1"/>
<line x1="258.16" y1="380.68" x2="265.64" y2="380.68" stroke="#ff8a00" stroke-width="1.1"/>
<circle cx="261.90" cy="376.52" r="2.30" fill="#ff8a00"/>
<rect x="277.00" y="373.76" width="12.20" height="30.44" fill="#5555ee" stroke="#1010ff" stroke-width="1.4"/>
<line x1="283.10" y1="370.44" x2="283.10" y2="377.08" stroke="#1010ff" stroke-width="1.1"/>
<line x1="279.36" y1="370.44" x2="286.84" y2="370.44" stroke="#1010ff" stroke-width="1.1"/>
<line x1="279.36" y1="377.08" x2="286.84" y2="377.08" stroke="#1010ff" stroke-width="1.1"/>
<circle cx="283.10" cy="373.76" r="2.30" fill="#1010ff"/>
<rect x="298.40" y="398.66" width="12.20" height="5.54" fill="#f5c38e" stroke="#ff1010" stroke-width="1.4"/>
<line x1="304.50" y1="394.51" x2="304.50" y2="402.82" stroke="#ff1010" stroke-width="1.1"/>
<line x1="300.76" y1="394.51" x2="308.24" y2="394.51" stroke="#ff1010" stroke-width="1.1"/>
<line x1="300.76" y1="402.82" x2="308.24" y2="402.82" stroke="#ff1010" stroke-width="1.1"/>
<rect x="302.50" y="396.66" width="4.00" height="4.00" fill="#ff1010"/>
<rect x="319.50" y="377.91" width="12.20" height="26.29" fill="#f0187a" stroke="#10c010" stroke-width="1.4"/>
<line x1="325.60" y1="374.59" x2="325.60" y2="381.23" stroke="#10c010" stroke-width="1.1"/>
<line x1="321.86" y1="374.59" x2="329.34" y2="374.59" stroke="#10c010" stroke-width="1.1"/>
<line x1="321.86" y1="381.23" x2="329.34" y2="381.23" stroke="#10c010" stroke-width="1.1"/>
<path d="M325.60,375.51 L328.00,379.91 L323.20,379.91Z" fill="#10c010"/>
<rect x="341.50" y="340.55" width="12.20" height="63.65" fill="#b8600a" stroke="#b020f0" stroke-width="1.4"/>
<line x1="347.60" y1="333.63" x2="347.60" y2="347.47" stroke="#b020f0" stroke-width="1.1"/>
<line x1="343.86" y1="333.63" x2="351.34" y2="333.63" stroke="#b020f0" stroke-width="1.1"/>
<line x1="343.86" y1="347.47" x2="351.34" y2="347.47" stroke="#b020f0" stroke-width="1.1"/>
<path d="M347.60,342.95 L350.00,338.55 L345.20,338.55Z" fill="#b020f0"/>
<rect x="376.70" y="376.80" width="12.20" height="27.40" fill="#ffffff" stroke="#ff8a00" stroke-width="1.4"/>
<line x1="382.80" y1="372.65" x2="382.80" y2="380.95" stroke="#ff8a00" stroke-width="1.1"/>
<line x1="379.06" y1="372.65" x2="386.54" y2="372.65" stroke="#ff8a00" stroke-width="1.1"/>
<line x1="379.06" y1="380.95" x2="386.54" y2="380.95" stroke="#ff8a00" stroke-width="1.1"/>
<circle cx="382.80" cy="376.80" r="2.30" fill="#ff8a00"/>
<rect x="398.10" y="379.02" width="12.20" height="25.18" fill="#5555ee" stroke="#1010ff" stroke-width="1.4"/>
<line x1="404.20" y1="376.25" x2="404.20" y2="381.78" stroke="#1010ff" stroke-width="1.1"/>
<line x1="400.46" y1="376.25" x2="407.94" y2="376.25" stroke="#1010ff" stroke-width="1.1"/>
<line x1="400.46" y1="381.78" x2="407.94" y2="381.78" stroke="#1010ff" stroke-width="1.1"/>
<circle cx="404.20" cy="379.02" r="2.30" fill="#1010ff"/>
<rect x="418.90" y="400.05" width="12.20" height="4.15" fill="#f5c38e" stroke="#ff1010" stroke-width="1.4"/>
<line x1="425.00" y1="396.73" x2="425.00" y2="403.37" stroke="#ff1010" stroke-width="1.1"/>
<line x1="421.26" y1="396.73" x2="428.74" y2="396.73" stroke="#ff1010" stroke-width="1.1"/>
<line x1="421.26" y1="403.37" x2="428.74" y2="403.37" stroke="#ff1010" stroke-width="1.1"/>
<rect x="423.00" y="398.05" width="4.00" height="4.00" fill="#ff1010"/>
<rect x="440.50" y="379.29" width="12.20" height="24.91" fill="#f0187a" stroke="#10c010" stroke-width="1.4"/>
<line x1="446.60" y1="375.97" x2="446.60" y2="382.61" stroke="#10c010" stroke-width="1.1"/>
<line x1="442.86" y1="375.97" x2="450.34" y2="375.97" stroke="#10c010" stroke-width="1.1"/>
<line x1="442.86" y1="382.61" x2="450.34" y2="382.61" stroke="#10c010" stroke-width="1.1"/>
<path d="M446.60,376.89 L449.00,381.29 L444.20,381.29Z" fill="#10c010"/>
<rect x="461.90" y="324.77" width="12.20" height="79.43" fill="#b8600a" stroke="#b020f0" stroke-width="1.4"/>
<line x1="468.00" y1="315.09" x2="468.00" y2="334.46" stroke="#b020f0" stroke-width="1.1"/>
<line x1="464.26" y1="315.09" x2="471.74" y2="315.09" stroke="#b020f0" stroke-width="1.1"/>
<line x1="464.26" y1="334.46" x2="471.74" y2="334.46" stroke="#b020f0" stroke-width="1.1"/>
<path d="M468.00,327.17 L470.40,322.77 L465.60,322.77Z" fill="#b020f0"/>
<text x="304.50" y="395.11" font-size="8.00" font-weight="bold" text-anchor="middle" fill="#000" stroke="#000" stroke-width="0.22">**</text>
<text x="425.20" y="397.33" font-size="8.00" font-weight="bold" text-anchor="middle" fill="#000" stroke="#000" stroke-width="0.22">**</text>
<text x="347.60" y="332.83" font-size="8.00" font-weight="bold" text-anchor="middle" fill="#000" stroke="#000" stroke-width="0.22">##</text>
<text x="468.00" y="314.29" font-size="8.00" font-weight="bold" text-anchor="middle" fill="#000" stroke="#000" stroke-width="0.22">##</text>
<circle cx="260.30" cy="266.00" r="2.35" fill="#ff8a00"/>
<text x="273.00" y="268.71" font-size="7.53" font-weight="normal" text-anchor="start" fill="#222" stroke="#222" stroke-width="0.22">Mock</text>
<circle cx="260.30" cy="274.30" r="2.35" fill="#1010ff"/>
<text x="273.00" y="277.01" font-size="7.53" font-weight="normal" text-anchor="start" fill="#222" stroke="#222" stroke-width="0.22">miRNA mimic NC</text>
<rect x="258.25" y="280.45" width="4.10" height="4.10" fill="#ff1010"/>
<text x="273.00" y="285.21" font-size="7.53" font-weight="normal" text-anchor="start" fill="#222" stroke="#222" stroke-width="0.22">miR-942-5p mimic</text>
<path d="M260.30,288.35 L262.75,292.85 L257.85,292.85Z" fill="#10c010"/>
<text x="273.00" y="293.51" font-size="7.53" font-weight="normal" text-anchor="start" fill="#222" stroke="#222" stroke-width="0.22">miRNA inhibitor NC</text>
<path d="M260.30,301.45 L262.75,296.95 L257.85,296.95Z" fill="#b020f0"/>
<text x="273.00" y="301.71" font-size="7.53" font-weight="normal" text-anchor="start" fill="#222" stroke="#222" stroke-width="0.22">miR-942-5p inhibitor</text>
<text x="230.43" y="349.00" font-size="7.59" font-weight="bold" text-anchor="middle" fill="#000" stroke="#000" stroke-width="0.22" transform="rotate(-90 230.43 349.00)">Relative protein expression over GAPDH</text>
<text x="307.30" y="415.00" font-size="8.20" font-weight="bold" text-anchor="end" fill="#000" stroke="#000" stroke-width="0.22" transform="rotate(-45 307.30 415.00)">RUNX2</text>
<text x="427.30" y="415.00" font-size="8.20" font-weight="bold" text-anchor="end" fill="#000" stroke="#000" stroke-width="0.22" transform="rotate(-45 427.30 415.00)">VEGF</text>
<text x="507.30" y="264.00" font-size="26.00" font-weight="bold" text-anchor="start" fill="#000" stroke="#000" stroke-width="0.3">G</text>
<rect x="577.60" y="266.30" width="166.80" height="24.80" fill="#f7f7f7" stroke="none" stroke-width="1"/>
<svg x="577.6" y="266.3" width="166.8" height="24.8" viewBox="577.6 266.3 166.8 24.8">
<rect x="584.0" y="275.0" width="29.4" height="6.7" rx="2.3" fill="rgb(15,15,15)" opacity="0.22" filter="url(#bl3)"/>
<ellipse cx="598.7" cy="278.3" rx="14.2" ry="1.7" fill="rgb(15,15,15)" filter="url(#bl05)"/>
<rect x="587.0" y="277.2" width="23.4" height="2.2" rx="1.1" fill="rgb(15,15,15)" filter="url(#bl05)"/>
<rect x="624.6" y="275.3" width="30.2" height="6.7" rx="2.3" fill="rgb(35,35,35)" opacity="0.22" filter="url(#bl3)"/>
<ellipse cx="639.7" cy="278.6" rx="14.6" ry="1.7" fill="rgb(35,35,35)" filter="url(#bl05)"/>
<rect x="627.6" y="277.5" width="24.2" height="2.2" rx="1.1" fill="rgb(35,35,35)" filter="url(#bl05)"/>
<rect x="666.0" y="275.6" width="28.5" height="6.4" rx="2.2" fill="rgb(150,150,150)" opacity="0.22" filter="url(#bl3)"/>
<ellipse cx="680.2" cy="278.8" rx="13.8" ry="1.6" fill="rgb(150,150,150)" filter="url(#bl05)"/>
<rect x="669.0" y="277.8" width="22.5" height="2.1" rx="1.0" fill="rgb(150,150,150)" filter="url(#bl05)"/>
<rect x="705.8" y="275.6" width="30.2" height="6.4" rx="2.2" fill="rgb(185,185,185)" opacity="0.22" filter="url(#bl3)"/>
<ellipse cx="720.9" cy="278.8" rx="14.6" ry="1.6" fill="rgb(185,185,185)" filter="url(#bl05)"/>
<rect x="708.8" y="277.8" width="24.2" height="2.1" rx="1.0" fill="rgb(185,185,185)" filter="url(#bl05)"/>
</svg>
<rect x="577.60" y="266.30" width="166.80" height="24.80" fill="none" stroke="#000" stroke-width="1.6"/>
<svg x="578.5" y="267.2" width="165" height="23"><rect width="165" height="23" fill="#000" filter="url(#bgnoise)"/></svg>
<rect x="577.60" y="295.40" width="166.80" height="25.60" fill="#f7f7f7" stroke="none" stroke-width="1"/>
<svg x="577.6" y="295.4" width="166.8" height="25.6" viewBox="577.6 295.4 166.8 25.6">
<rect x="587.5" y="305.0" width="32.0" height="8.8" rx="3.4" fill="rgb(140,140,140)" opacity="0.22" filter="url(#bl3)"/>
<ellipse cx="603.5" cy="309.4" rx="15.5" ry="2.6" fill="rgb(140,140,140)" filter="url(#bl1)"/>
<rect x="590.5" y="307.6" width="26.0" height="3.5" rx="1.8" fill="rgb(140,140,140)" filter="url(#bl1)"/>
<rect x="625.5" y="304.7" width="31.1" height="9.3" rx="3.7" fill="rgb(35,35,35)" opacity="0.22" filter="url(#bl3)"/>
<ellipse cx="641.0" cy="309.4" rx="15.1" ry="2.9" fill="rgb(35,35,35)" filter="url(#bl1)"/>
<rect x="628.5" y="307.5" width="25.1" height="3.8" rx="1.9" fill="rgb(35,35,35)" filter="url(#bl1)"/>
<rect x="664.3" y="304.0" width="32.0" height="10.5" rx="4.2" fill="rgb(5,5,5)" opacity="0.22" filter="url(#bl3)"/>
<ellipse cx="680.3" cy="309.2" rx="15.5" ry="3.4" fill="rgb(5,5,5)" filter="url(#bl1)"/>
<rect x="667.3" y="306.9" width="26.0" height="4.5" rx="2.3" fill="rgb(5,5,5)" filter="url(#bl1)"/>
<rect x="704.0" y="304.4" width="32.9" height="9.9" rx="3.9" fill="rgb(25,25,25)" opacity="0.22" filter="url(#bl3)"/>
<ellipse cx="720.5" cy="309.4" rx="15.9" ry="3.2" fill="rgb(25,25,25)" filter="url(#bl1)"/>
<rect x="707.0" y="307.3" width="26.9" height="4.2" rx="2.1" fill="rgb(25,25,25)" filter="url(#bl1)"/>
</svg>
<rect x="577.60" y="295.40" width="166.80" height="25.60" fill="none" stroke="#000" stroke-width="1.6"/>
<rect x="577.60" y="325.30" width="166.80" height="25.40" fill="#f7f7f7" stroke="none" stroke-width="1"/>
<svg x="577.6" y="325.3" width="166.8" height="25.4" viewBox="577.6 325.3 166.8 25.4">
<rect x="589.3" y="328.3" width="29.3" height="6.4" rx="2.2" fill="rgb(225,225,225)" opacity="0.22" filter="url(#bl3)"/>
<ellipse cx="604.0" cy="331.5" rx="14.2" ry="1.6" fill="rgb(225,225,225)" filter="url(#bl2)"/>
<rect x="592.3" y="330.4" width="23.3" height="2.1" rx="1.0" fill="rgb(225,225,225)" filter="url(#bl2)"/>
<rect x="628.0" y="328.3" width="30.3" height="6.4" rx="2.2" fill="rgb(215,215,215)" opacity="0.22" filter="url(#bl3)"/>
<ellipse cx="643.1" cy="331.5" rx="14.6" ry="1.6" fill="rgb(215,215,215)" filter="url(#bl2)"/>
<rect x="631.0" y="330.4" width="24.3" height="2.1" rx="1.0" fill="rgb(215,215,215)" filter="url(#bl2)"/>
<rect x="669.6" y="328.3" width="30.2" height="6.4" rx="2.2" fill="rgb(220,220,220)" opacity="0.22" filter="url(#bl3)"/>
<ellipse cx="684.7" cy="331.5" rx="14.6" ry="1.6" fill="rgb(220,220,220)" filter="url(#bl2)"/>
<rect x="672.6" y="330.4" width="24.2" height="2.1" rx="1.0" fill="rgb(220,220,220)" filter="url(#bl2)"/>
<rect x="710.2" y="328.3" width="26.7" height="6.4" rx="2.2" fill="rgb(200,200,200)" opacity="0.22" filter="url(#bl3)"/>
<ellipse cx="723.5" cy="331.5" rx="12.8" ry="1.6" fill="rgb(200,200,200)" filter="url(#bl2)"/>
<rect x="713.2" y="330.4" width="20.7" height="2.1" rx="1.0" fill="rgb(200,200,200)" filter="url(#bl2)"/>
<rect x="589.3" y="335.9" width="29.3" height="8.2" rx="3.1" fill="rgb(150,150,150)" opacity="0.22" filter="url(#bl3)"/>
<ellipse cx="604.0" cy="340.0" rx="14.2" ry="2.4" fill="rgb(150,150,150)" filter="url(#bl1)"/>
<rect x="592.3" y="338.4" width="23.3" height="3.1" rx="1.6" fill="rgb(150,150,150)" filter="url(#bl1)"/>
<rect x="628.0" y="335.3" width="30.3" height="9.3" rx="3.7" fill="rgb(50,50,50)" opacity="0.22" filter="url(#bl3)"/>
<ellipse cx="643.1" cy="340.0" rx="14.6" ry="2.9" fill="rgb(50,50,50)" filter="url(#bl1)"/>
<rect x="631.0" y="338.1" width="24.3" height="3.8" rx="1.9" fill="rgb(50,50,50)" filter="url(#bl1)"/>
<rect x="669.6" y="335.3" width="30.2" height="9.3" rx="3.7" fill="rgb(55,55,55)" opacity="0.22" filter="url(#bl3)"/>
<ellipse cx="684.7" cy="340.0" rx="14.6" ry="2.9" fill="rgb(55,55,55)" filter="url(#bl1)"/>
<rect x="672.6" y="338.1" width="24.2" height="3.8" rx="1.9" fill="rgb(55,55,55)" filter="url(#bl1)"/>
<rect x="710.2" y="334.5" width="26.7" height="11.0" rx="4.5" fill="rgb(5,5,5)" opacity="0.22" filter="url(#bl3)"/>
<ellipse cx="723.5" cy="340.0" rx="12.8" ry="3.7" fill="rgb(5,5,5)" filter="url(#bl1)"/>
<rect x="713.2" y="337.6" width="20.7" height="4.9" rx="2.4" fill="rgb(5,5,5)" filter="url(#bl1)"/>
</svg>
<rect x="577.60" y="325.30" width="166.80" height="25.40" fill="none" stroke="#000" stroke-width="1.6"/>
<rect x="577.60" y="354.90" width="166.80" height="25.80" fill="#f7f7f7" stroke="none" stroke-width="1"/>
<svg x="577.6" y="354.9" width="166.8" height="25.8" viewBox="577.6 354.9 166.8 25.8">
<rect x="584.0" y="360.0" width="32.9" height="6.4" rx="2.2" fill="rgb(210,210,210)" opacity="0.22" filter="url(#bl3)"/>
<ellipse cx="600.5" cy="363.2" rx="15.9" ry="1.6" fill="rgb(210,210,210)" filter="url(#bl2)"/>
<rect x="587.0" y="362.1" width="26.9" height="2.1" rx="1.0" fill="rgb(210,210,210)" filter="url(#bl2)"/>
<rect x="626.4" y="360.0" width="28.4" height="6.4" rx="2.2" fill="rgb(215,215,215)" opacity="0.22" filter="url(#bl3)"/>
<ellipse cx="640.6" cy="363.2" rx="13.7" ry="1.6" fill="rgb(215,215,215)" filter="url(#bl2)"/>
<rect x="629.4" y="362.1" width="22.4" height="2.1" rx="1.0" fill="rgb(215,215,215)" filter="url(#bl2)"/>
<rect x="665.2" y="360.0" width="29.3" height="6.4" rx="2.2" fill="rgb(215,215,215)" opacity="0.22" filter="url(#bl3)"/>
<ellipse cx="679.9" cy="363.2" rx="14.1" ry="1.6" fill="rgb(215,215,215)" filter="url(#bl2)"/>
<rect x="668.2" y="362.1" width="23.3" height="2.1" rx="1.0" fill="rgb(215,215,215)" filter="url(#bl2)"/>
<rect x="704.9" y="360.0" width="32.0" height="6.4" rx="2.2" fill="rgb(215,215,215)" opacity="0.22" filter="url(#bl3)"/>
<ellipse cx="720.9" cy="363.2" rx="15.5" ry="1.6" fill="rgb(215,215,215)" filter="url(#bl2)"/>
<rect x="707.9" y="362.1" width="26.0" height="2.1" rx="1.0" fill="rgb(215,215,215)" filter="url(#bl2)"/>
<rect x="584.0" y="364.3" width="32.9" height="9.3" rx="3.7" fill="rgb(5,5,5)" opacity="0.22" filter="url(#bl3)"/>
<ellipse cx="600.5" cy="369.0" rx="15.9" ry="2.9" fill="rgb(5,5,5)" filter="url(#bl1)"/>
<rect x="587.0" y="367.1" width="26.9" height="3.8" rx="1.9" fill="rgb(5,5,5)" filter="url(#bl1)"/>
<rect x="626.4" y="365.1" width="28.4" height="8.2" rx="3.1" fill="rgb(15,15,15)" opacity="0.22" filter="url(#bl3)"/>
<ellipse cx="640.6" cy="369.2" rx="13.7" ry="2.4" fill="rgb(15,15,15)" filter="url(#bl1)"/>
<rect x="629.4" y="367.6" width="22.4" height="3.1" rx="1.6" fill="rgb(15,15,15)" filter="url(#bl1)"/>
<rect x="665.2" y="365.1" width="29.3" height="8.2" rx="3.1" fill="rgb(15,15,15)" opacity="0.22" filter="url(#bl3)"/>
<ellipse cx="679.9" cy="369.2" rx="14.1" ry="2.4" fill="rgb(15,15,15)" filter="url(#bl1)"/>
<rect x="668.2" y="367.6" width="23.3" height="3.1" rx="1.6" fill="rgb(15,15,15)" filter="url(#bl1)"/>
<rect x="704.9" y="364.2" width="32.0" height="9.3" rx="3.7" fill="rgb(5,5,5)" opacity="0.22" filter="url(#bl3)"/>
<ellipse cx="720.9" cy="368.9" rx="15.5" ry="2.9" fill="rgb(5,5,5)" filter="url(#bl1)"/>
<rect x="707.9" y="367.0" width="26.0" height="3.8" rx="1.9" fill="rgb(5,5,5)" filter="url(#bl1)"/>
</svg>
<rect x="577.60" y="354.90" width="166.80" height="25.80" fill="none" stroke="#000" stroke-width="1.6"/>
<text x="552.00" y="280.30" font-size="12.20" font-weight="normal" text-anchor="middle" fill="#000" stroke="#000" stroke-width="0.22">Dicer</text>
<text x="552.00" y="311.80" font-size="12.20" font-weight="normal" text-anchor="middle" fill="#000" stroke="#000" stroke-width="0.22">RUNX2</text>
<text x="552.00" y="343.00" font-size="12.20" font-weight="normal" text-anchor="middle" fill="#000" stroke="#000" stroke-width="0.22">VEGF</text>
<text x="552.00" y="367.30" font-size="12.20" font-weight="normal" text-anchor="middle" fill="#000" stroke="#000" stroke-width="0.22">GAPDH</text>
<text x="578.70" y="398.00" font-size="12.20" font-weight="normal" text-anchor="end" fill="#000" stroke="#000" stroke-width="0.22">pLVX-Vector</text>
<text x="539.50" y="422.70" font-size="12.20" font-weight="normal" text-anchor="middle" fill="#000" stroke="#000" stroke-width="0.22">pLVX-</text>
<text x="588.50" y="436.50" font-size="12.20" font-weight="normal" text-anchor="end" fill="#000" stroke="#000" stroke-width="0.22">hsa_circ_0006215</text>
<line x1="594.10" y1="394.20" x2="602.90" y2="394.20" stroke="#000" stroke-width="1.7"/>
<line x1="598.50" y1="389.80" x2="598.50" y2="398.60" stroke="#000" stroke-width="1.7"/>
<line x1="629.75" y1="397.50" x2="640.25" y2="397.50" stroke="#000" stroke-width="1.4"/>
<line x1="674.90" y1="394.20" x2="683.70" y2="394.20" stroke="#000" stroke-width="1.7"/>
<line x1="679.30" y1="389.80" x2="679.30" y2="398.60" stroke="#000" stroke-width="1.7"/>
<line x1="715.05" y1="397.50" x2="725.55" y2="397.50" stroke="#000" stroke-width="1.4"/>
<line x1="593.25" y1="433.50" x2="603.75" y2="433.50" stroke="#000" stroke-width="1.4"/>
<line x1="630.60" y1="430.20" x2="639.40" y2="430.20" stroke="#000" stroke-width="1.7"/>
<line x1="635.00" y1="425.80" x2="635.00" y2="434.60" stroke="#000" stroke-width="1.7"/>
<line x1="674.05" y1="433.50" x2="684.55" y2="433.50" stroke="#000" stroke-width="1.4"/>
<line x1="715.90" y1="430.20" x2="724.70" y2="430.20" stroke="#000" stroke-width="1.7"/>
<line x1="720.30" y1="425.80" x2="720.30" y2="434.60" stroke="#000" stroke-width="1.7"/>
<line x1="593.20" y1="447.60" x2="646.70" y2="447.60" stroke="#000" stroke-width="1.6"/>
<line x1="674.00" y1="447.60" x2="726.90" y2="447.60" stroke="#000" stroke-width="1.6"/>
<text x="593.00" y="467.40" font-size="12.20" font-weight="normal" text-anchor="start" fill="#000" stroke="#000" stroke-width="0.22">Ctrl siRNA</text>
<text x="668.70" y="467.40" font-size="12.20" font-weight="normal" text-anchor="start" fill="#000" stroke="#000" stroke-width="0.22">Dicer siRNA</text>
<text x="764.00" y="400.21" font-size="7.80" font-weight="bold" text-anchor="end" fill="#000" stroke="#000" stroke-width="0.22">0</text>
<text x="764.00" y="372.48" font-size="7.80" font-weight="bold" text-anchor="end" fill="#000" stroke="#000" stroke-width="0.22">1</text>
<text x="764.00" y="344.76" font-size="7.80" font-weight="bold" text-anchor="end" fill="#000" stroke="#000" stroke-width="0.22">2</text>
<text x="764.00" y="317.03" font-size="7.80" font-weight="bold" text-anchor="end" fill="#000" stroke="#000" stroke-width="0.22">3</text>
<text x="764.00" y="289.31" font-size="7.80" font-weight="bold" text-anchor="end" fill="#000" stroke="#000" stroke-width="0.22">4</text>
<rect x="777.70" y="369.67" width="9.80" height="27.73" fill="#ffffff" stroke="#ff8a00" stroke-width="1.4"/>
<line x1="782.60" y1="366.90" x2="782.60" y2="372.45" stroke="#ff8a00" stroke-width="1.1"/>
<line x1="779.52" y1="366.90" x2="785.68" y2="366.90" stroke="#ff8a00" stroke-width="1.1"/>
<line x1="779.52" y1="372.45" x2="785.68" y2="372.45" stroke="#ff8a00" stroke-width="1.1"/>
<circle cx="782.60" cy="369.67" r="2.30" fill="#ff8a00"/>
<rect x="794.70" y="368.29" width="9.80" height="29.11" fill="#5555ee" stroke="#1010ff" stroke-width="1.4"/>
<line x1="799.60" y1="364.68" x2="799.60" y2="371.89" stroke="#1010ff" stroke-width="1.1"/>
<line x1="796.52" y1="364.68" x2="802.68" y2="364.68" stroke="#1010ff" stroke-width="1.1"/>
<line x1="796.52" y1="371.89" x2="802.68" y2="371.89" stroke="#1010ff" stroke-width="1.1"/>
<circle cx="799.60" cy="368.29" r="2.30" fill="#1010ff"/>
<rect x="812.10" y="391.30" width="9.80" height="6.10" fill="#f5c38e" stroke="#ff1010" stroke-width="1.4"/>
<line x1="817.00" y1="387.97" x2="817.00" y2="394.63" stroke="#ff1010" stroke-width="1.1"/>
<line x1="813.92" y1="387.97" x2="820.08" y2="387.97" stroke="#ff1010" stroke-width="1.1"/>
<line x1="813.92" y1="394.63" x2="820.08" y2="394.63" stroke="#ff1010" stroke-width="1.1"/>
<rect x="815.00" y="389.30" width="4.00" height="4.00" fill="#ff1010"/>
<rect x="829.40" y="393.24" width="9.80" height="4.16" fill="#f0187a" stroke="#10c010" stroke-width="1.4"/>
<line x1="834.30" y1="389.36" x2="834.30" y2="397.12" stroke="#10c010" stroke-width="1.1"/>
<line x1="831.22" y1="389.36" x2="837.38" y2="389.36" stroke="#10c010" stroke-width="1.1"/>
<line x1="831.22" y1="397.12" x2="837.38" y2="397.12" stroke="#10c010" stroke-width="1.1"/>
<path d="M834.30,390.84 L836.70,395.24 L831.90,395.24Z" fill="#10c010"/>
<rect x="858.20" y="369.67" width="9.80" height="27.73" fill="#ffffff" stroke="#ff8a00" stroke-width="1.4"/>
<line x1="863.10" y1="366.07" x2="863.10" y2="373.28" stroke="#ff8a00" stroke-width="1.1"/>
<line x1="860.02" y1="366.07" x2="866.18" y2="366.07" stroke="#ff8a00" stroke-width="1.1"/>
<line x1="860.02" y1="373.28" x2="866.18" y2="373.28" stroke="#ff8a00" stroke-width="1.1"/>
<circle cx="863.10" cy="369.67" r="2.30" fill="#ff8a00"/>
<rect x="875.20" y="332.25" width="9.80" height="65.15" fill="#5555ee" stroke="#1010ff" stroke-width="1.4"/>
<line x1="880.10" y1="323.37" x2="880.10" y2="341.12" stroke="#1010ff" stroke-width="1.1"/>
<line x1="877.02" y1="323.37" x2="883.18" y2="323.37" stroke="#1010ff" stroke-width="1.1"/>
<line x1="877.02" y1="341.12" x2="883.18" y2="341.12" stroke="#1010ff" stroke-width="1.1"/>
<circle cx="880.10" cy="332.25" r="2.30" fill="#1010ff"/>
<rect x="892.50" y="318.38" width="9.80" height="79.02" fill="#f5c38e" stroke="#ff1010" stroke-width="1.4"/>
<line x1="897.40" y1="312.28" x2="897.40" y2="324.48" stroke="#ff1010" stroke-width="1.1"/>
<line x1="894.32" y1="312.28" x2="900.48" y2="312.28" stroke="#ff1010" stroke-width="1.1"/>
<line x1="894.32" y1="324.48" x2="900.48" y2="324.48" stroke="#ff1010" stroke-width="1.1"/>
<rect x="895.40" y="316.38" width="4.00" height="4.00" fill="#ff1010"/>
<rect x="910.10" y="323.10" width="9.80" height="74.30" fill="#f0187a" stroke="#10c010" stroke-width="1.4"/>
<line x1="915.00" y1="316.17" x2="915.00" y2="330.03" stroke="#10c010" stroke-width="1.1"/>
<line x1="911.92" y1="316.17" x2="918.08" y2="316.17" stroke="#10c010" stroke-width="1.1"/>
<line x1="911.92" y1="330.03" x2="918.08" y2="330.03" stroke="#10c010" stroke-width="1.1"/>
<path d="M915.00,320.70 L917.40,325.10 L912.60,325.10Z" fill="#10c010"/>
<rect x="938.30" y="369.67" width="9.80" height="27.73" fill="#ffffff" stroke="#ff8a00" stroke-width="1.4"/>
<line x1="943.20" y1="366.35" x2="943.20" y2="373.00" stroke="#ff8a00" stroke-width="1.1"/>
<line x1="940.12" y1="366.35" x2="946.28" y2="366.35" stroke="#ff8a00" stroke-width="1.1"/>
<line x1="940.12" y1="373.00" x2="946.28" y2="373.00" stroke="#ff8a00" stroke-width="1.1"/>
<circle cx="943.20" cy="369.67" r="2.30" fill="#ff8a00"/>
<rect x="956.20" y="326.15" width="9.80" height="71.25" fill="#5555ee" stroke="#1010ff" stroke-width="1.4"/>
<line x1="961.10" y1="323.37" x2="961.10" y2="328.92" stroke="#1010ff" stroke-width="1.1"/>
<line x1="958.02" y1="323.37" x2="964.18" y2="323.37" stroke="#1010ff" stroke-width="1.1"/>
<line x1="958.02" y1="328.92" x2="964.18" y2="328.92" stroke="#1010ff" stroke-width="1.1"/>
<circle cx="961.10" cy="326.15" r="2.30" fill="#1010ff"/>
<rect x="973.20" y="328.64" width="9.80" height="68.76" fill="#f5c38e" stroke="#ff1010" stroke-width="1.4"/>
<line x1="978.10" y1="319.49" x2="978.10" y2="337.79" stroke="#ff1010" stroke-width="1.1"/>
<line x1="975.02" y1="319.49" x2="981.18" y2="319.49" stroke="#ff1010" stroke-width="1.1"/>
<line x1="975.02" y1="337.79" x2="981.18" y2="337.79" stroke="#ff1010" stroke-width="1.1"/>
<rect x="976.10" y="326.64" width="4.00" height="4.00" fill="#ff1010"/>
<rect x="990.50" y="323.10" width="9.80" height="74.30" fill="#f0187a" stroke="#10c010" stroke-width="1.4"/>
<line x1="995.40" y1="314.23" x2="995.40" y2="331.97" stroke="#10c010" stroke-width="1.1"/>
<line x1="992.32" y1="314.23" x2="998.48" y2="314.23" stroke="#10c010" stroke-width="1.1"/>
<line x1="992.32" y1="331.97" x2="998.48" y2="331.97" stroke="#10c010" stroke-width="1.1"/>
<path d="M995.40,320.70 L997.80,325.10 L993.00,325.10Z" fill="#10c010"/>
<text x="817.00" y="388.57" font-size="8.00" font-weight="bold" text-anchor="middle" fill="#000" stroke="#000" stroke-width="0.22">**</text>
<text x="834.30" y="389.96" font-size="8.00" font-weight="bold" text-anchor="middle" fill="#000" stroke="#000" stroke-width="0.22">**</text>
<text x="880.10" y="323.97" font-size="8.00" font-weight="bold" text-anchor="middle" fill="#000" stroke="#000" stroke-width="0.22">**</text>
<text x="961.10" y="323.97" font-size="8.00" font-weight="bold" text-anchor="middle" fill="#000" stroke="#000" stroke-width="0.22">**</text>
<circle cx="784.50" cy="276.60" r="2.35" fill="#ff8a00"/>
<text x="796.80" y="279.36" font-size="7.68" font-weight="normal" text-anchor="start" fill="#222" stroke="#222" stroke-width="0.22">pLVX-Vector+Ctrl siRNA</text>
<circle cx="784.50" cy="284.90" r="2.35" fill="#1010ff"/>
<text x="796.80" y="287.66" font-size="7.68" font-weight="normal" text-anchor="start" fill="#222" stroke="#222" stroke-width="0.22">pLVX-hsa_circ_0006215+Ctrl siRNA</text>
<rect x="782.45" y="291.05" width="4.10" height="4.10" fill="#ff1010"/>
<text x="796.80" y="295.86" font-size="7.68" font-weight="normal" text-anchor="start" fill="#222" stroke="#222" stroke-width="0.22">pLVX-Vector+Dicer siRNA</text>
<path d="M784.50,298.85 L786.95,303.35 L782.05,303.35Z" fill="#10c010"/>
<text x="796.80" y="304.06" font-size="7.68" font-weight="normal" text-anchor="start" fill="#222" stroke="#222" stroke-width="0.22">pLVX-hsa_circ_0006215+Dicer siRNA</text>
<text x="753.68" y="342.60" font-size="7.45" font-weight="bold" text-anchor="middle" fill="#000" stroke="#000" stroke-width="0.22" transform="rotate(-90 753.68 342.60)">Relative protein expression over GAPDH</text>
<text x="810.00" y="409.10" font-size="8.50" font-weight="bold" text-anchor="end" fill="#000" stroke="#000" stroke-width="0.22" transform="rotate(-45 810.00 409.10)">Dicer</text>
<text x="892.00" y="409.10" font-size="8.50" font-weight="bold" text-anchor="end" fill="#000" stroke="#000" stroke-width="0.22" transform="rotate(-45 892.00 409.10)">RUNX2</text>
<text x="970.50" y="409.10" font-size="8.50" font-weight="bold" text-anchor="end" fill="#000" stroke="#000" stroke-width="0.22" transform="rotate(-45 970.50 409.10)">VEGF</text>
<text x="54.40" y="515.00" font-size="26.00" font-weight="bold" text-anchor="start" fill="#000" stroke="#000" stroke-width="0.3">H</text>
<rect x="117.10" y="533.30" width="165.80" height="31.60" fill="#f7f7f7" stroke="none" stroke-width="1"/>
<svg x="117.1" y="533.3" width="165.8" height="31.6" viewBox="117.1 533.3 165.8 31.6">
<rect x="123.1" y="545.9" width="34.7" height="9.3" rx="3.7" fill="rgb(5,5,5)" opacity="0.22" filter="url(#bl3)"/>
<ellipse cx="140.4" cy="550.6" rx="16.9" ry="2.9" fill="rgb(5,5,5)" filter="url(#bl1)"/>
<rect x="126.1" y="548.7" width="28.7" height="3.8" rx="1.9" fill="rgb(5,5,5)" filter="url(#bl1)"/>
<rect x="166.3" y="546.5" width="28.5" height="8.2" rx="3.1" fill="rgb(55,55,55)" opacity="0.22" filter="url(#bl3)"/>
<ellipse cx="180.6" cy="550.6" rx="13.8" ry="2.4" fill="rgb(55,55,55)" filter="url(#bl1)"/>
<rect x="169.3" y="549.0" width="22.5" height="3.1" rx="1.6" fill="rgb(55,55,55)" filter="url(#bl1)"/>
<rect x="202.5" y="544.9" width="32.0" height="11.0" rx="4.5" fill="rgb(5,5,5)" opacity="0.22" filter="url(#bl3)"/>
<ellipse cx="218.5" cy="550.4" rx="15.5" ry="3.7" fill="rgb(5,5,5)" filter="url(#bl1)"/>
<rect x="205.5" y="547.9" width="26.0" height="4.9" rx="2.4" fill="rgb(5,5,5)" filter="url(#bl1)"/>
<rect x="241.3" y="545.4" width="32.0" height="10.5" rx="4.2" fill="rgb(5,5,5)" opacity="0.22" filter="url(#bl3)"/>
<ellipse cx="257.3" cy="550.6" rx="15.5" ry="3.4" fill="rgb(5,5,5)" filter="url(#bl1)"/>
<rect x="244.3" y="548.3" width="26.0" height="4.5" rx="2.3" fill="rgb(5,5,5)" filter="url(#bl1)"/>
</svg>
<rect x="117.10" y="533.30" width="165.80" height="31.60" fill="none" stroke="#000" stroke-width="1.6"/>
<rect x="117.10" y="566.50" width="165.80" height="30.00" fill="#f7f7f7" stroke="none" stroke-width="1"/>
<svg x="117.1" y="566.5" width="165.8" height="30.0" viewBox="117.1 566.5 165.8 30.0">
<rect x="125.8" y="574.5" width="28.4" height="14.0" fill="rgb(70,70,70)" opacity="0.25" filter="url(#bl3)"/>
<rect x="126.8" y="575.5" width="26.4" height="12.0" rx="2" fill="rgb(70,70,70)" filter="url(#noisy)"/>
<rect x="165.5" y="573.7" width="27.5" height="15.6" rx="6.8" fill="rgb(215,215,215)" opacity="0.22" filter="url(#bl3)"/>
<ellipse cx="179.2" cy="581.5" rx="13.2" ry="5.8" fill="rgb(215,215,215)" filter="url(#bl2)"/>
<rect x="168.5" y="577.6" width="21.5" height="7.7" rx="3.8" fill="rgb(215,215,215)" filter="url(#bl2)"/>
<rect x="204.3" y="574.2" width="28.5" height="14.0" fill="rgb(25,25,25)" opacity="0.25" filter="url(#bl3)"/>
<rect x="205.3" y="575.2" width="26.5" height="12.0" rx="2" fill="rgb(25,25,25)" filter="url(#noisy)"/>
<rect x="242.2" y="573.5" width="28.5" height="15.0" fill="rgb(5,5,5)" opacity="0.25" filter="url(#bl3)"/>
<rect x="243.2" y="574.5" width="26.5" height="13.0" rx="2" fill="rgb(5,5,5)" filter="url(#noisy)"/>
</svg>
<rect x="117.10" y="566.50" width="165.80" height="30.00" fill="none" stroke="#000" stroke-width="1.6"/>
<rect x="117.10" y="598.20" width="165.80" height="30.00" fill="#f7f7f7" stroke="none" stroke-width="1"/>
<svg x="117.1" y="598.2" width="165.8" height="30.0" viewBox="117.1 598.2 165.8 30.0">
<rect x="128.0" y="609.0" width="30.6" height="8.8" rx="3.4" fill="rgb(10,10,10)" opacity="0.22" filter="url(#bl3)"/>
<ellipse cx="143.3" cy="613.4" rx="14.8" ry="2.6" fill="rgb(10,10,10)" filter="url(#bl1)"/>
<rect x="131.0" y="611.6" width="24.6" height="3.5" rx="1.8" fill="rgb(10,10,10)" filter="url(#bl1)"/>
<rect x="164.6" y="608.5" width="32.0" height="9.3" rx="3.7" fill="rgb(10,10,10)" opacity="0.22" filter="url(#bl3)"/>
<ellipse cx="180.6" cy="613.2" rx="15.5" ry="2.9" fill="rgb(10,10,10)" filter="url(#bl1)"/>
<rect x="167.6" y="611.3" width="26.0" height="3.8" rx="1.9" fill="rgb(10,10,10)" filter="url(#bl1)"/>
<rect x="201.6" y="608.5" width="32.0" height="8.2" rx="3.1" fill="rgb(15,15,15)" opacity="0.22" filter="url(#bl3)"/>
<ellipse cx="217.6" cy="612.6" rx="15.5" ry="2.4" fill="rgb(15,15,15)" filter="url(#bl1)"/>
<rect x="204.6" y="611.0" width="26.0" height="3.1" rx="1.6" fill="rgb(15,15,15)" filter="url(#bl1)"/>
<rect x="238.7" y="608.1" width="37.3" height="9.3" rx="3.7" fill="rgb(10,10,10)" opacity="0.22" filter="url(#bl3)"/>
<ellipse cx="257.4" cy="612.8" rx="18.2" ry="2.9" fill="rgb(10,10,10)" filter="url(#bl1)"/>
<rect x="241.7" y="610.9" width="31.3" height="3.8" rx="1.9" fill="rgb(10,10,10)" filter="url(#bl1)"/>
</svg>
<rect x="117.10" y="598.20" width="165.80" height="30.00" fill="none" stroke="#000" stroke-width="1.6"/>
<text x="111.30" y="553.70" font-size="12.20" font-weight="normal" text-anchor="end" fill="#000" stroke="#000" stroke-width="0.22">RUNX2</text>
<text x="111.30" y="585.20" font-size="12.20" font-weight="normal" text-anchor="end" fill="#000" stroke="#000" stroke-width="0.22">VEGF</text>
<text x="113.30" y="619.00" font-size="12.20" font-weight="normal" text-anchor="end" fill="#000" stroke="#000" stroke-width="0.22">GAPDH</text>
<text x="105.90" y="641.20" font-size="12.20" font-weight="normal" text-anchor="end" fill="#000" stroke="#000" stroke-width="0.22">pLkO.1-Vector</text>
<text x="62.50" y="665.90" font-size="12.20" font-weight="normal" text-anchor="middle" fill="#000" stroke="#000" stroke-width="0.22">pLKO.1-</text>
<text x="105.30" y="680.90" font-size="12.20" font-weight="normal" text-anchor="end" fill="#000" stroke="#000" stroke-width="0.22">hsa_circ_0006215</text>
<line x1="136.80" y1="640.80" x2="145.60" y2="640.80" stroke="#000" stroke-width="1.7"/>
<line x1="141.20" y1="636.40" x2="141.20" y2="645.20" stroke="#000" stroke-width="1.7"/>
<line x1="172.75" y1="643.50" x2="183.25" y2="643.50" stroke="#000" stroke-width="1.4"/>
<line x1="217.60" y1="640.80" x2="226.40" y2="640.80" stroke="#000" stroke-width="1.7"/>
<line x1="222.00" y1="636.40" x2="222.00" y2="645.20" stroke="#000" stroke-width="1.7"/>
<line x1="257.95" y1="643.50" x2="268.45" y2="643.50" stroke="#000" stroke-width="1.4"/>
<line x1="135.95" y1="678.50" x2="146.45" y2="678.50" stroke="#000" stroke-width="1.4"/>
<line x1="173.60" y1="675.20" x2="182.40" y2="675.20" stroke="#000" stroke-width="1.7"/>
<line x1="178.00" y1="670.80" x2="178.00" y2="679.60" stroke="#000" stroke-width="1.7"/>
<line x1="216.75" y1="678.50" x2="227.25" y2="678.50" stroke="#000" stroke-width="1.4"/>
<line x1="258.80" y1="675.20" x2="267.60" y2="675.20" stroke="#000" stroke-width="1.7"/>
<line x1="263.20" y1="670.80" x2="263.20" y2="679.60" stroke="#000" stroke-width="1.7"/>
<line x1="136.30" y1="693.70" x2="189.80" y2="693.70" stroke="#000" stroke-width="1.6"/>
<line x1="216.70" y1="693.70" x2="269.60" y2="693.70" stroke="#000" stroke-width="1.6"/>
<text x="166.20" y="707.50" font-size="12.22" font-weight="normal" text-anchor="middle" fill="#000" stroke="#000" stroke-width="0.22">miRNA ihibitor</text>
<text x="173.50" y="722.20" font-size="12.20" font-weight="normal" text-anchor="middle" fill="#000" stroke="#000" stroke-width="0.22">NC</text>
<text x="244.60" y="707.50" font-size="12.20" font-weight="normal" text-anchor="middle" fill="#000" stroke="#000" stroke-width="0.22">miR-942-5p</text>
<text x="243.60" y="722.20" font-size="12.20" font-weight="normal" text-anchor="middle" fill="#000" stroke="#000" stroke-width="0.22">ihibitors</text>
<text x="332.70" y="659.81" font-size="7.80" font-weight="bold" text-anchor="end" fill="#000" stroke="#000" stroke-width="0.22">0</text>
<text x="332.70" y="632.26" font-size="7.80" font-weight="bold" text-anchor="end" fill="#000" stroke="#000" stroke-width="0.22">1</text>
<text x="332.70" y="604.71" font-size="7.80" font-weight="bold" text-anchor="end" fill="#000" stroke="#000" stroke-width="0.22">2</text>
<text x="332.70" y="577.16" font-size="7.80" font-weight="bold" text-anchor="end" fill="#000" stroke="#000" stroke-width="0.22">3</text>
<text x="332.70" y="549.61" font-size="7.80" font-weight="bold" text-anchor="end" fill="#000" stroke="#000" stroke-width="0.22">4</text>
<rect x="351.30" y="629.45" width="14.80" height="27.55" fill="#ffffff" stroke="#ff8a00" stroke-width="1.4"/>
<line x1="358.70" y1="625.32" x2="358.70" y2="633.58" stroke="#ff8a00" stroke-width="1.1"/>
<line x1="354.25" y1="625.32" x2="363.16" y2="625.32" stroke="#ff8a00" stroke-width="1.1"/>
<line x1="354.25" y1="633.58" x2="363.16" y2="633.58" stroke="#ff8a00" stroke-width="1.1"/>
<circle cx="358.70" cy="629.45" r="2.30" fill="#ff8a00"/>
<rect x="376.90" y="650.94" width="14.80" height="6.06" fill="#5555ee" stroke="#1010ff" stroke-width="1.4"/>
<line x1="384.30" y1="645.43" x2="384.30" y2="656.45" stroke="#1010ff" stroke-width="1.1"/>
<line x1="379.84" y1="645.43" x2="388.75" y2="645.43" stroke="#1010ff" stroke-width="1.1"/>
<line x1="379.84" y1="656.45" x2="388.75" y2="656.45" stroke="#1010ff" stroke-width="1.1"/>
<circle cx="384.30" cy="650.94" r="2.30" fill="#1010ff"/>
<rect x="402.70" y="620.63" width="14.80" height="36.37" fill="#f5c38e" stroke="#ff1010" stroke-width="1.4"/>
<line x1="410.10" y1="614.30" x2="410.10" y2="626.97" stroke="#ff1010" stroke-width="1.1"/>
<line x1="405.65" y1="614.30" x2="414.56" y2="614.30" stroke="#ff1010" stroke-width="1.1"/>
<line x1="405.65" y1="626.97" x2="414.56" y2="626.97" stroke="#ff1010" stroke-width="1.1"/>
<rect x="408.10" y="618.63" width="4.00" height="4.00" fill="#ff1010"/>
<rect x="428.70" y="625.87" width="14.80" height="31.13" fill="#f0187a" stroke="#10c010" stroke-width="1.4"/>
<line x1="436.10" y1="620.36" x2="436.10" y2="631.38" stroke="#10c010" stroke-width="1.1"/>
<line x1="431.65" y1="620.36" x2="440.56" y2="620.36" stroke="#10c010" stroke-width="1.1"/>
<line x1="431.65" y1="631.38" x2="440.56" y2="631.38" stroke="#10c010" stroke-width="1.1"/>
<path d="M436.10,623.47 L438.50,627.87 L433.70,627.87Z" fill="#10c010"/>
<rect x="471.90" y="629.45" width="14.80" height="27.55" fill="#ffffff" stroke="#ff8a00" stroke-width="1.4"/>
<line x1="479.30" y1="626.69" x2="479.30" y2="632.21" stroke="#ff8a00" stroke-width="1.1"/>
<line x1="474.84" y1="626.69" x2="483.75" y2="626.69" stroke="#ff8a00" stroke-width="1.1"/>
<line x1="474.84" y1="632.21" x2="483.75" y2="632.21" stroke="#ff8a00" stroke-width="1.1"/>
<circle cx="479.30" cy="629.45" r="2.30" fill="#ff8a00"/>
<rect x="497.50" y="652.87" width="14.80" height="4.13" fill="#5555ee" stroke="#1010ff" stroke-width="1.4"/>
<line x1="504.90" y1="649.56" x2="504.90" y2="656.17" stroke="#1010ff" stroke-width="1.1"/>
<line x1="500.44" y1="649.56" x2="509.35" y2="649.56" stroke="#1010ff" stroke-width="1.1"/>
<line x1="500.44" y1="656.17" x2="509.35" y2="656.17" stroke="#1010ff" stroke-width="1.1"/>
<circle cx="504.90" cy="652.87" r="2.30" fill="#1010ff"/>
<rect x="523.30" y="622.56" width="14.80" height="34.44" fill="#f5c38e" stroke="#ff1010" stroke-width="1.4"/>
<line x1="530.70" y1="618.43" x2="530.70" y2="626.69" stroke="#ff1010" stroke-width="1.1"/>
<line x1="526.25" y1="618.43" x2="535.16" y2="618.43" stroke="#ff1010" stroke-width="1.1"/>
<line x1="526.25" y1="626.69" x2="535.16" y2="626.69" stroke="#ff1010" stroke-width="1.1"/>
<rect x="528.70" y="620.56" width="4.00" height="4.00" fill="#ff1010"/>
<rect x="549.20" y="627.25" width="14.80" height="29.75" fill="#f0187a" stroke="#10c010" stroke-width="1.4"/>
<line x1="556.60" y1="620.91" x2="556.60" y2="633.58" stroke="#10c010" stroke-width="1.1"/>
<line x1="552.14" y1="620.91" x2="561.06" y2="620.91" stroke="#10c010" stroke-width="1.1"/>
<line x1="552.14" y1="633.58" x2="561.06" y2="633.58" stroke="#10c010" stroke-width="1.1"/>
<path d="M556.60,624.85 L559.00,629.25 L554.20,629.25Z" fill="#10c010"/>
<text x="384.40" y="646.03" font-size="8.00" font-weight="bold" text-anchor="middle" fill="#000" stroke="#000" stroke-width="0.22">**</text>
<text x="505.00" y="650.16" font-size="8.00" font-weight="bold" text-anchor="middle" fill="#000" stroke="#000" stroke-width="0.22">**</text>
<circle cx="353.50" cy="536.50" r="2.35" fill="#ff8a00"/>
<text x="365.30" y="539.25" font-size="7.65" font-weight="normal" text-anchor="start" fill="#222" stroke="#222" stroke-width="0.22">pLVX-Vector+miRNA inhibitor NC</text>
<circle cx="353.50" cy="544.70" r="2.35" fill="#1010ff"/>
<text x="365.30" y="547.45" font-size="7.65" font-weight="normal" text-anchor="start" fill="#222" stroke="#222" stroke-width="0.22">pLVX-hsa_circ_0006215+miRNA inhibitor NC</text>
<rect x="351.45" y="551.15" width="4.10" height="4.10" fill="#ff1010"/>
<text x="365.30" y="555.95" font-size="7.65" font-weight="normal" text-anchor="start" fill="#222" stroke="#222" stroke-width="0.22">pLVX-Vector+miR-942-5p inhibitors</text>
<path d="M353.50,559.05 L355.95,563.55 L351.05,563.55Z" fill="#10c010"/>
<text x="365.30" y="564.25" font-size="7.65" font-weight="normal" text-anchor="start" fill="#222" stroke="#222" stroke-width="0.22">pLVX-hsa_circ_0006215+miR-942-5p inhibitors</text>
<text x="322.51" y="601.80" font-size="7.53" font-weight="bold" text-anchor="middle" fill="#000" stroke="#000" stroke-width="0.22" transform="rotate(-90 322.51 601.80)">Relative protein expression over GAPDH</text>
<text x="400.00" y="670.60" font-size="8.10" font-weight="bold" text-anchor="end" fill="#000" stroke="#000" stroke-width="0.22" transform="rotate(-45 400.00 670.60)">RUNX2</text>
<text x="524.50" y="670.60" font-size="8.10" font-weight="bold" text-anchor="end" fill="#000" stroke="#000" stroke-width="0.22" transform="rotate(-45 524.50 670.60)">VEGF</text>
<text x="578.70" y="514.00" font-size="26.00" font-weight="bold" text-anchor="start" fill="#000" stroke="#000" stroke-width="0.3">I</text>
<text x="674.80" y="517.80" font-size="12.20" font-weight="normal" text-anchor="middle" fill="#000" stroke="#000" stroke-width="0.22">pLkO.1-Vector</text>
<text x="776.80" y="503.00" font-size="12.20" font-weight="normal" text-anchor="middle" fill="#000" stroke="#000" stroke-width="0.22">pLKO.1-</text>
<text x="769.90" y="517.80" font-size="12.20" font-weight="normal" text-anchor="middle" fill="#000" stroke="#000" stroke-width="0.22">hsa_circ_0006215</text>
<text x="615.59" y="576.60" font-size="12.20" font-weight="normal" text-anchor="middle" fill="#000" stroke="#000" stroke-width="0.22" transform="rotate(-90 615.59 576.60)">miRNA ihibitor</text>
<text x="631.79" y="569.60" font-size="12.20" font-weight="normal" text-anchor="middle" fill="#000" stroke="#000" stroke-width="0.22" transform="rotate(-90 631.79 569.60)">NC</text>
<text x="615.59" y="662.80" font-size="12.20" font-weight="normal" text-anchor="middle" fill="#000" stroke="#000" stroke-width="0.22" transform="rotate(-90 615.59 662.80)">miR-942-5p</text>
<text x="631.79" y="663.50" font-size="12.20" font-weight="normal" text-anchor="middle" fill="#000" stroke="#000" stroke-width="0.22" transform="rotate(-90 631.79 663.50)">ihibitors</text>
<circle cx="677.5" cy="568.5" r="41" fill="#f7e0cc"/>
<circle cx="677.5" cy="568.5" r="41" fill="#000" filter="url(#speck)" opacity="1.0"/>
<circle cx="677.5" cy="568.5" r="41" fill="url(#wg0)"/>
<circle cx="768.6" cy="568.2" r="39.8" fill="#f4f6f0"/>
<circle cx="768.6" cy="568.2" r="39.8" fill="#000" filter="url(#speck)" opacity="0.32"/>
<circle cx="768.6" cy="568.2" r="39.8" fill="url(#wg1)"/>
<circle cx="677.5" cy="653.6" r="39.8" fill="#f8e2c4"/>
<circle cx="677.5" cy="653.6" r="39.8" fill="#000" filter="url(#speck)" opacity="0.85"/>
<circle cx="677.5" cy="653.6" r="39.8" fill="url(#wg2)"/>
<circle cx="768.6" cy="654.9" r="41.4" fill="#f8e4d6"/>
<circle cx="768.6" cy="654.9" r="41.4" fill="#000" filter="url(#speck)" opacity="0.85"/>
<circle cx="768.6" cy="654.9" r="41.4" fill="url(#wg3)"/>
<text x="869.80" y="637.21" font-size="7.80" font-weight="bold" text-anchor="end" fill="#000" stroke="#000" stroke-width="0.22">0</text>
<text x="869.80" y="609.51" font-size="7.80" font-weight="bold" text-anchor="end" fill="#000" stroke="#000" stroke-width="0.22">1</text>
<text x="869.80" y="581.81" font-size="7.80" font-weight="bold" text-anchor="end" fill="#000" stroke="#000" stroke-width="0.22">2</text>
<text x="869.80" y="554.11" font-size="7.80" font-weight="bold" text-anchor="end" fill="#000" stroke="#000" stroke-width="0.22">3</text>
<text x="869.80" y="526.41" font-size="7.80" font-weight="bold" text-anchor="end" fill="#000" stroke="#000" stroke-width="0.22">4</text>
<line x1="893.00" y1="576.23" x2="893.00" y2="569.31" stroke="#000" stroke-width="1.0"/>
<line x1="889.50" y1="569.31" x2="896.50" y2="569.31" stroke="#000" stroke-width="1.0"/>
<rect x="886.00" y="576.23" width="14.00" height="58.17" fill="#000096" stroke="#000" stroke-width="1.0"/>
<line x1="915.00" y1="610.02" x2="915.00" y2="605.31" stroke="#000" stroke-width="1.0"/>
<line x1="911.50" y1="605.31" x2="918.50" y2="605.31" stroke="#000" stroke-width="1.0"/>
<rect x="908.00" y="610.02" width="14.00" height="24.38" fill="#a80000" stroke="#000" stroke-width="1.0"/>
<text x="915.00" y="606.41" font-size="9.00" font-weight="bold" text-anchor="middle" fill="#000" stroke="#000" stroke-width="0.22">**</text>
<line x1="952.00" y1="554.62" x2="952.00" y2="547.98" stroke="#000" stroke-width="1.0"/>
<line x1="948.50" y1="547.98" x2="955.50" y2="547.98" stroke="#000" stroke-width="1.0"/>
<rect x="945.00" y="554.62" width="14.00" height="79.78" fill="#000096" stroke="#000" stroke-width="1.0"/>
<line x1="974.30" y1="558.23" x2="974.30" y2="548.53" stroke="#000" stroke-width="1.0"/>
<line x1="970.80" y1="548.53" x2="977.80" y2="548.53" stroke="#000" stroke-width="1.0"/>
<rect x="967.60" y="558.23" width="13.40" height="76.17" fill="#a80000" stroke="#000" stroke-width="1.0"/>
<rect x="884.00" y="520.50" width="11.60" height="3.10" fill="#000096" stroke="#000" stroke-width="0.8"/>
<rect x="884.00" y="528.60" width="11.60" height="3.10" fill="#a80000" stroke="#000" stroke-width="0.8"/>
<text x="902.40" y="524.80" font-size="7.80" font-weight="normal" text-anchor="start" fill="#222" stroke="#222" stroke-width="0.22">pLKO.1-Vector</text>
<text x="902.40" y="533.20" font-size="7.80" font-weight="normal" text-anchor="start" fill="#222" stroke="#222" stroke-width="0.22">pLKO.1-hsa_circ_0006215</text>
<text x="860.30" y="579.00" font-size="9.16" font-weight="bold" text-anchor="middle" fill="#000" stroke="#000" stroke-width="0.22" transform="rotate(-90 860.30 579.00)">OD at 548nm</text>
<text x="907.00" y="646.30" font-size="8.45" font-weight="bold" text-anchor="end" fill="#000" stroke="#000" stroke-width="0.22" transform="rotate(-45 907.00 646.30)">miRNA mimic NC</text>
<text x="966.00" y="646.30" font-size="8.45" font-weight="bold" text-anchor="end" fill="#000" stroke="#000" stroke-width="0.22" transform="rotate(-45 966.00 646.30)">miRNA-942-5p inhibitors</text>
<text x="38.80" y="778.50" font-size="26.00" font-weight="bold" text-anchor="start" fill="#000" stroke="#000" stroke-width="0.3">J</text>
<text x="126.60" y="800.80" font-size="12.20" font-weight="normal" text-anchor="middle" fill="#000" stroke="#000" stroke-width="0.22">pLkO.1-Vector</text>
<text x="239.20" y="785.60" font-size="12.20" font-weight="normal" text-anchor="middle" fill="#000" stroke="#000" stroke-width="0.22">pLKO.1-</text>
<text x="232.50" y="800.80" font-size="12.20" font-weight="normal" text-anchor="middle" fill="#000" stroke="#000" stroke-width="0.22">hsa_circ_0006215</text>
<text x="60.19" y="847.20" font-size="12.20" font-weight="normal" text-anchor="middle" fill="#000" stroke="#000" stroke-width="0.22" transform="rotate(-90 60.19 847.20)">miRNA ihibitor</text>
<text x="74.29" y="838.80" font-size="12.20" font-weight="normal" text-anchor="middle" fill="#000" stroke="#000" stroke-width="0.22" transform="rotate(-90 74.29 838.80)">NC</text>
<text x="60.19" y="931.50" font-size="12.20" font-weight="normal" text-anchor="middle" fill="#000" stroke="#000" stroke-width="0.22" transform="rotate(-90 60.19 931.50)">miR-942-5p</text>
<text x="74.29" y="932.20" font-size="12.20" font-weight="normal" text-anchor="middle" fill="#000" stroke="#000" stroke-width="0.22" transform="rotate(-90 74.29 932.20)">ihibitors</text>
<rect x="79.80" y="807.00" width="99.00" height="79.20" fill="#b9b9cb" stroke="none" stroke-width="1"/>
<svg x="79.8" y="807" width="99.0" height="79.2" viewBox="79.8 807 99.0 79.2"><g fill="#4e36c2" fill-opacity="0.95"><ellipse cx="80.2" cy="807.7" rx="2.4" ry="1.6"/><ellipse cx="84.2" cy="806.7" rx="1.6" ry="2.4"/><ellipse cx="86.6" cy="807.0" rx="1.7" ry="2.5"/><ellipse cx="90.2" cy="808.8" rx="2.5" ry="1.6"/><circle cx="94.2" cy="806.2" r="1.8"/><ellipse cx="98.1" cy="806.3" rx="1.6" ry="2.3"/><ellipse cx="102.5" cy="807.9" rx="2.5" ry="1.6"/><ellipse cx="105.6" cy="808.8" rx="1.7" ry="2.6"/><ellipse cx="109.4" cy="806.8" rx="1.4" ry="2.1"/><ellipse cx="113.3" cy="808.4" rx="1.7" ry="2.6"/><ellipse cx="116.0" cy="806.7" rx="1.6" ry="2.4"/><circle cx="120.7" cy="806.4" r="2.1"/><circle cx="123.6" cy="807.1" r="2.1"/><circle cx="127.7" cy="806.5" r="2.1"/><circle cx="132.3" cy="807.4" r="2.1"/><circle cx="136.2" cy="806.5" r="1.8"/><circle cx="140.7" cy="808.3" r="2.1"/><ellipse cx="145.9" cy="808.8" rx="1.5" ry="2.2"/><ellipse cx="150.2" cy="807.0" rx="2.1" ry="1.4"/><ellipse cx="153.6" cy="807.8" rx="1.6" ry="2.3"/><ellipse cx="166.2" cy="806.8" rx="1.7" ry="2.5"/><ellipse cx="173.1" cy="807.3" rx="1.4" ry="2.1"/><ellipse cx="175.8" cy="808.0" rx="2.5" ry="1.7"/><circle cx="81.6" cy="809.9" r="1.8"/><ellipse cx="86.0" cy="811.6" rx="1.5" ry="2.3"/><circle cx="88.8" cy="809.5" r="2.0"/><ellipse cx="92.4" cy="810.4" rx="2.2" ry="1.4"/><ellipse cx="98.0" cy="812.0" rx="2.5" ry="1.6"/><ellipse cx="99.7" cy="809.5" rx="1.7" ry="2.6"/><ellipse cx="105.6" cy="809.5" rx="1.6" ry="2.4"/><ellipse cx="107.6" cy="812.0" rx="1.6" ry="2.4"/><ellipse cx="112.8" cy="811.3" rx="1.7" ry="2.5"/><ellipse cx="115.1" cy="811.2" rx="2.6" ry="1.7"/><ellipse cx="119.9" cy="811.7" rx="2.4" ry="1.6"/><ellipse cx="123.1" cy="811.0" rx="1.6" ry="2.4"/><ellipse cx="127.5" cy="811.3" rx="2.5" ry="1.7"/><circle cx="130.1" cy="811.6" r="2.1"/><ellipse cx="134.2" cy="810.7" rx="2.5" ry="1.7"/><circle cx="137.9" cy="811.8" r="1.8"/><ellipse cx="141.8" cy="809.9" rx="2.6" ry="1.7"/><circle cx="144.9" cy="811.7" r="2.0"/><circle cx="164.7" cy="810.1" r="2.0"/><ellipse cx="175.9" cy="810.6" rx="1.4" ry="2.1"/><ellipse cx="177.2" cy="811.3" rx="1.5" ry="2.3"/><ellipse cx="79.0" cy="813.0" rx="1.4" ry="2.1"/><ellipse cx="83.3" cy="813.0" rx="2.4" ry="1.6"/><ellipse cx="88.0" cy="814.3" rx="1.7" ry="2.6"/><ellipse cx="90.6" cy="813.9" rx="2.1" ry="1.4"/><ellipse cx="95.7" cy="813.1" rx="1.5" ry="2.3"/><ellipse cx="98.9" cy="814.2" rx="1.5" ry="2.3"/><circle cx="103.6" cy="812.9" r="2.1"/><ellipse cx="106.1" cy="814.3" rx="2.3" ry="1.5"/><ellipse cx="110.9" cy="814.7" rx="2.4" ry="1.6"/><ellipse cx="112.8" cy="814.5" rx="1.6" ry="2.4"/><ellipse cx="116.6" cy="815.0" rx="2.6" ry="1.8"/><ellipse cx="121.8" cy="813.5" rx="2.6" ry="1.7"/><ellipse cx="123.6" cy="813.8" rx="2.5" ry="1.7"/><circle cx="127.2" cy="814.7" r="2.1"/><ellipse cx="131.7" cy="814.7" rx="2.2" ry="1.5"/><ellipse cx="136.4" cy="814.8" rx="2.6" ry="1.7"/><circle cx="140.7" cy="812.9" r="2.0"/><ellipse cx="143.8" cy="814.3" rx="2.6" ry="1.7"/><circle cx="157.2" cy="814.0" r="2.0"/><ellipse cx="162.9" cy="814.0" rx="2.5" ry="1.7"/><ellipse cx="165.4" cy="814.4" rx="2.4" ry="1.6"/><circle cx="170.3" cy="815.0" r="2.0"/><ellipse cx="176.4" cy="813.5" rx="1.6" ry="2.4"/><circle cx="81.2" cy="817.9" r="1.8"/><circle cx="86.3" cy="816.7" r="2.0"/><circle cx="90.2" cy="816.2" r="1.9"/><ellipse cx="93.3" cy="817.0" rx="2.3" ry="1.5"/><ellipse cx="96.1" cy="816.4" rx="2.4" ry="1.6"/><ellipse cx="101.6" cy="817.4" rx="1.5" ry="2.2"/><ellipse cx="105.2" cy="818.2" rx="1.5" ry="2.3"/><circle cx="107.3" cy="818.5" r="1.8"/><ellipse cx="112.3" cy="816.5" rx="2.5" ry="1.7"/><circle cx="116.2" cy="816.2" r="2.1"/><circle cx="118.4" cy="817.6" r="2.2"/><circle cx="122.9" cy="817.8" r="2.1"/><ellipse cx="125.4" cy="816.1" rx="2.4" ry="1.6"/><ellipse cx="130.4" cy="816.2" rx="1.5" ry="2.2"/><ellipse cx="135.2" cy="818.3" rx="1.4" ry="2.1"/><ellipse cx="137.6" cy="817.8" rx="2.4" ry="1.6"/><ellipse cx="141.2" cy="817.4" rx="1.7" ry="2.5"/><circle cx="148.5" cy="816.4" r="2.0"/><ellipse cx="157.1" cy="817.5" rx="2.4" ry="1.6"/><ellipse cx="161.1" cy="817.9" rx="1.7" ry="2.6"/><ellipse cx="164.3" cy="818.0" rx="1.7" ry="2.6"/><ellipse cx="170.7" cy="817.7" rx="2.3" ry="1.5"/><circle cx="173.4" cy="816.8" r="2.0"/><ellipse cx="179.5" cy="817.6" rx="2.5" ry="1.6"/><ellipse cx="80.4" cy="820.1" rx="1.6" ry="2.4"/><ellipse cx="84.7" cy="821.6" rx="1.6" ry="2.4"/><ellipse cx="87.1" cy="820.1" rx="2.2" ry="1.5"/><ellipse cx="90.4" cy="819.7" rx="2.4" ry="1.6"/><ellipse cx="96.3" cy="820.6" rx="1.6" ry="2.4"/><ellipse cx="97.7" cy="820.6" rx="1.4" ry="2.1"/><ellipse cx="101.6" cy="820.3" rx="2.4" ry="1.6"/><ellipse cx="105.1" cy="821.5" rx="2.4" ry="1.6"/><circle cx="109.6" cy="819.8" r="2.0"/><circle cx="114.2" cy="819.8" r="1.9"/><ellipse cx="116.4" cy="821.0" rx="1.7" ry="2.6"/><ellipse cx="119.8" cy="821.6" rx="1.4" ry="2.1"/><ellipse cx="127.7" cy="820.4" rx="2.5" ry="1.7"/><ellipse cx="133.3" cy="821.2" rx="2.2" ry="1.4"/><circle cx="135.7" cy="819.6" r="2.0"/><ellipse cx="139.4" cy="820.8" rx="2.2" ry="1.5"/><ellipse cx="143.0" cy="821.1" rx="1.8" ry="2.6"/><ellipse cx="147.5" cy="819.7" rx="1.7" ry="2.6"/><ellipse cx="150.9" cy="820.0" rx="2.5" ry="1.6"/><circle cx="162.8" cy="821.4" r="1.8"/><circle cx="165.2" cy="820.7" r="2.0"/><ellipse cx="168.0" cy="820.8" rx="2.4" ry="1.6"/><ellipse cx="172.7" cy="819.6" rx="1.7" ry="2.5"/><circle cx="82.5" cy="824.3" r="1.9"/><circle cx="86.7" cy="823.3" r="2.2"/><ellipse cx="89.7" cy="824.2" rx="2.3" ry="1.6"/><ellipse cx="92.2" cy="824.6" rx="2.1" ry="1.4"/><circle cx="96.9" cy="824.1" r="2.1"/><ellipse cx="99.9" cy="824.0" rx="1.5" ry="2.3"/><ellipse cx="104.9" cy="823.0" rx="1.5" ry="2.3"/><ellipse cx="107.7" cy="822.6" rx="1.6" ry="2.4"/><circle cx="112.9" cy="824.7" r="2.1"/><circle cx="115.0" cy="823.3" r="2.2"/><ellipse cx="118.8" cy="823.2" rx="2.3" ry="1.5"/><ellipse cx="122.1" cy="823.8" rx="1.6" ry="2.4"/><circle cx="126.7" cy="822.8" r="2.1"/><ellipse cx="129.0" cy="823.6" rx="1.6" ry="2.4"/><ellipse cx="134.3" cy="824.4" rx="1.6" ry="2.4"/><circle cx="136.6" cy="822.5" r="2.2"/><ellipse cx="145.4" cy="822.9" rx="2.5" ry="1.7"/><ellipse cx="149.4" cy="823.3" rx="1.7" ry="2.6"/><ellipse cx="156.7" cy="824.7" rx="2.5" ry="1.7"/><ellipse cx="170.7" cy="823.4" rx="1.7" ry="2.5"/><circle cx="174.3" cy="822.7" r="1.9"/><ellipse cx="179.6" cy="822.4" rx="2.2" ry="1.4"/><ellipse cx="81.0" cy="826.0" rx="2.3" ry="1.6"/><circle cx="85.1" cy="825.6" r="1.8"/><circle cx="87.0" cy="827.4" r="1.9"/><ellipse cx="90.8" cy="826.0" rx="2.3" ry="1.5"/><ellipse cx="95.9" cy="826.8" rx="1.7" ry="2.6"/><circle cx="98.4" cy="826.9" r="2.0"/><ellipse cx="101.3" cy="828.0" rx="2.3" ry="1.5"/><circle cx="106.2" cy="826.2" r="2.0"/><ellipse cx="108.6" cy="826.7" rx="1.7" ry="2.5"/><circle cx="113.9" cy="825.9" r="1.9"/><circle cx="118.3" cy="826.9" r="2.2"/><ellipse cx="121.1" cy="825.9" rx="1.4" ry="2.1"/><ellipse cx="125.6" cy="827.7" rx="1.5" ry="2.2"/><ellipse cx="127.4" cy="826.8" rx="2.6" ry="1.7"/><ellipse cx="133.0" cy="826.3" rx="1.6" ry="2.3"/><ellipse cx="134.7" cy="827.7" rx="2.4" ry="1.6"/><circle cx="138.6" cy="827.7" r="1.9"/><ellipse cx="146.5" cy="827.3" rx="2.3" ry="1.5"/><ellipse cx="157.3" cy="827.0" rx="1.4" ry="2.1"/><circle cx="164.9" cy="826.5" r="1.9"/><ellipse cx="168.8" cy="827.2" rx="1.5" ry="2.2"/><circle cx="172.4" cy="828.0" r="2.1"/><ellipse cx="177.3" cy="825.8" rx="1.4" ry="2.2"/><ellipse cx="82.7" cy="829.2" rx="2.6" ry="1.7"/><ellipse cx="84.8" cy="829.3" rx="2.2" ry="1.4"/><ellipse cx="88.4" cy="831.1" rx="2.4" ry="1.6"/><ellipse cx="93.9" cy="830.9" rx="2.3" ry="1.5"/><ellipse cx="95.7" cy="829.8" rx="1.8" ry="2.6"/><ellipse cx="101.1" cy="830.3" rx="2.3" ry="1.5"/><ellipse cx="104.7" cy="829.0" rx="1.6" ry="2.4"/><ellipse cx="108.9" cy="830.3" rx="1.7" ry="2.5"/><ellipse cx="111.9" cy="829.6" rx="1.5" ry="2.2"/><circle cx="116.7" cy="830.1" r="2.1"/><circle cx="120.3" cy="830.4" r="1.8"/><ellipse cx="123.0" cy="830.5" rx="2.6" ry="1.7"/><ellipse cx="129.3" cy="831.1" rx="2.4" ry="1.6"/><circle cx="138.5" cy="830.3" r="2.1"/><circle cx="142.4" cy="829.4" r="2.1"/><ellipse cx="145.2" cy="828.9" rx="1.5" ry="2.2"/><ellipse cx="149.9" cy="830.4" rx="1.6" ry="2.5"/><ellipse cx="154.9" cy="829.3" rx="2.2" ry="1.5"/><ellipse cx="160.0" cy="829.2" rx="2.2" ry="1.5"/><circle cx="163.1" cy="830.4" r="2.1"/><ellipse cx="168.4" cy="830.3" rx="2.3" ry="1.5"/><ellipse cx="179.3" cy="829.8" rx="1.6" ry="2.4"/><circle cx="80.4" cy="833.3" r="2.2"/><ellipse cx="82.8" cy="833.8" rx="2.5" ry="1.7"/><circle cx="88.4" cy="832.7" r="1.8"/><ellipse cx="91.3" cy="833.3" rx="1.4" ry="2.1"/><circle cx="95.2" cy="832.6" r="1.9"/><ellipse cx="97.7" cy="834.3" rx="1.6" ry="2.5"/><ellipse cx="102.3" cy="834.0" rx="2.5" ry="1.7"/><ellipse cx="107.2" cy="832.2" rx="2.2" ry="1.4"/><circle cx="111.1" cy="832.0" r="1.9"/><ellipse cx="112.5" cy="834.3" rx="2.3" ry="1.5"/><circle cx="117.5" cy="832.1" r="2.2"/><ellipse cx="124.6" cy="832.5" rx="1.7" ry="2.6"/><circle cx="127.6" cy="834.1" r="2.0"/><circle cx="133.1" cy="834.5" r="2.0"/><circle cx="136.8" cy="832.1" r="2.1"/><ellipse cx="146.8" cy="832.2" rx="1.5" ry="2.3"/><ellipse cx="149.8" cy="832.4" rx="1.6" ry="2.5"/><ellipse cx="158.2" cy="832.5" rx="2.6" ry="1.7"/><ellipse cx="161.1" cy="833.6" rx="2.6" ry="1.8"/><circle cx="165.5" cy="833.3" r="2.0"/><ellipse cx="168.5" cy="834.0" rx="1.5" ry="2.3"/><ellipse cx="172.1" cy="832.7" rx="1.5" ry="2.2"/><ellipse cx="177.8" cy="832.0" rx="2.5" ry="1.7"/><ellipse cx="83.3" cy="836.5" rx="2.4" ry="1.6"/><ellipse cx="85.5" cy="836.9" rx="2.4" ry="1.6"/><circle cx="90.4" cy="837.0" r="2.2"/><ellipse cx="94.0" cy="835.6" rx="2.2" ry="1.5"/><ellipse cx="97.7" cy="837.2" rx="2.2" ry="1.5"/><ellipse cx="99.9" cy="836.7" rx="2.1" ry="1.4"/><circle cx="104.9" cy="836.7" r="1.8"/><circle cx="106.8" cy="836.5" r="1.9"/><ellipse cx="112.5" cy="835.4" rx="2.4" ry="1.6"/><circle cx="116.2" cy="835.8" r="1.9"/><ellipse cx="118.7" cy="836.8" rx="2.2" ry="1.5"/><circle cx="121.8" cy="837.3" r="1.9"/><ellipse cx="127.0" cy="837.3" rx="2.1" ry="1.4"/><circle cx="132.8" cy="836.4" r="2.2"/><ellipse cx="137.5" cy="837.1" rx="1.5" ry="2.2"/><circle cx="140.4" cy="836.2" r="1.9"/><circle cx="149.4" cy="835.8" r="2.0"/><ellipse cx="152.4" cy="837.6" rx="1.5" ry="2.3"/><circle cx="156.4" cy="835.3" r="2.0"/><ellipse cx="163.8" cy="837.5" rx="1.5" ry="2.3"/><circle cx="166.9" cy="837.2" r="1.9"/><ellipse cx="171.1" cy="835.6" rx="2.2" ry="1.5"/><circle cx="178.8" cy="837.4" r="1.9"/><circle cx="80.8" cy="839.3" r="1.8"/><circle cx="83.4" cy="839.4" r="2.1"/><ellipse cx="87.3" cy="838.8" rx="1.5" ry="2.3"/><ellipse cx="92.0" cy="840.7" rx="2.3" ry="1.5"/><ellipse cx="94.0" cy="840.7" rx="2.5" ry="1.7"/><circle cx="97.6" cy="839.4" r="1.8"/><ellipse cx="102.7" cy="838.5" rx="2.3" ry="1.6"/><ellipse cx="105.3" cy="840.2" rx="2.5" ry="1.7"/><ellipse cx="109.0" cy="838.9" rx="2.5" ry="1.7"/><ellipse cx="113.3" cy="840.6" rx="2.3" ry="1.5"/><ellipse cx="116.6" cy="838.5" rx="2.4" ry="1.6"/><ellipse cx="121.8" cy="840.9" rx="1.6" ry="2.5"/><ellipse cx="124.0" cy="840.2" rx="1.7" ry="2.6"/><ellipse cx="127.7" cy="840.0" rx="2.3" ry="1.6"/><circle cx="131.0" cy="839.4" r="2.0"/><ellipse cx="134.9" cy="839.4" rx="2.2" ry="1.5"/><circle cx="138.8" cy="838.6" r="1.9"/><circle cx="147.4" cy="838.4" r="1.9"/><circle cx="154.5" cy="839.6" r="1.9"/><ellipse cx="161.1" cy="840.1" rx="2.4" ry="1.6"/><ellipse cx="166.6" cy="839.3" rx="1.7" ry="2.6"/><circle cx="169.4" cy="840.0" r="1.9"/><circle cx="173.7" cy="840.7" r="2.2"/><ellipse cx="175.6" cy="839.7" rx="1.5" ry="2.3"/><circle cx="81.2" cy="842.1" r="2.1"/><ellipse cx="84.6" cy="843.0" rx="2.2" ry="1.5"/><ellipse cx="89.9" cy="843.0" rx="1.6" ry="2.4"/><circle cx="94.5" cy="842.5" r="2.1"/><ellipse cx="97.5" cy="843.4" rx="1.7" ry="2.6"/><ellipse cx="99.8" cy="843.2" rx="2.4" ry="1.6"/><circle cx="103.8" cy="843.6" r="1.9"/><circle cx="107.6" cy="842.1" r="1.8"/><ellipse cx="110.6" cy="841.9" rx="2.2" ry="1.4"/><ellipse cx="116.2" cy="842.9" rx="1.7" ry="2.6"/><ellipse cx="118.0" cy="842.3" rx="2.5" ry="1.7"/><circle cx="123.4" cy="842.3" r="1.9"/><ellipse cx="127.2" cy="843.8" rx="2.4" ry="1.6"/><circle cx="130.8" cy="843.2" r="2.1"/><circle cx="133.6" cy="843.3" r="1.8"/><ellipse cx="140.4" cy="843.4" rx="2.4" ry="1.6"/><circle cx="146.2" cy="844.2" r="2.1"/><ellipse cx="153.7" cy="841.9" rx="2.1" ry="1.4"/><ellipse cx="156.1" cy="842.6" rx="1.7" ry="2.5"/><ellipse cx="164.2" cy="844.2" rx="2.5" ry="1.6"/><ellipse cx="168.0" cy="842.0" rx="1.4" ry="2.2"/><circle cx="170.3" cy="842.9" r="1.9"/><circle cx="174.8" cy="842.0" r="1.9"/><circle cx="178.3" cy="842.6" r="1.8"/><ellipse cx="81.3" cy="845.6" rx="2.2" ry="1.5"/><ellipse cx="85.3" cy="845.4" rx="2.4" ry="1.6"/><ellipse cx="88.5" cy="845.9" rx="2.4" ry="1.6"/><ellipse cx="91.7" cy="845.5" rx="1.7" ry="2.6"/><circle cx="95.0" cy="847.0" r="1.8"/><ellipse cx="97.9" cy="845.1" rx="1.5" ry="2.3"/><ellipse cx="102.0" cy="846.2" rx="1.5" ry="2.2"/><ellipse cx="104.9" cy="846.2" rx="1.7" ry="2.5"/><ellipse cx="109.6" cy="846.9" rx="1.7" ry="2.5"/><circle cx="112.6" cy="847.3" r="2.1"/><ellipse cx="118.4" cy="844.9" rx="2.2" ry="1.5"/><ellipse cx="120.7" cy="846.5" rx="2.3" ry="1.5"/><circle cx="127.9" cy="845.1" r="2.1"/><circle cx="132.7" cy="846.2" r="1.8"/><ellipse cx="134.9" cy="845.7" rx="2.1" ry="1.4"/><circle cx="139.2" cy="845.7" r="2.2"/><circle cx="145.9" cy="847.4" r="2.2"/><ellipse cx="150.4" cy="846.7" rx="1.5" ry="2.2"/><ellipse cx="155.5" cy="845.7" rx="1.5" ry="2.3"/><circle cx="157.1" cy="846.5" r="2.0"/><ellipse cx="165.7" cy="846.1" rx="1.4" ry="2.2"/><ellipse cx="169.6" cy="846.0" rx="2.3" ry="1.6"/><circle cx="172.1" cy="846.4" r="2.0"/><ellipse cx="176.8" cy="846.0" rx="1.6" ry="2.4"/><circle cx="81.2" cy="849.3" r="2.1"/><circle cx="86.5" cy="850.6" r="2.1"/><ellipse cx="90.8" cy="849.3" rx="2.6" ry="1.7"/><ellipse cx="94.4" cy="850.2" rx="1.6" ry="2.4"/><ellipse cx="95.8" cy="850.3" rx="1.5" ry="2.2"/><circle cx="100.5" cy="849.4" r="1.8"/><ellipse cx="104.7" cy="848.2" rx="2.5" ry="1.7"/><ellipse cx="107.4" cy="850.1" rx="2.5" ry="1.7"/><circle cx="112.8" cy="850.1" r="1.9"/><circle cx="114.2" cy="848.9" r="2.1"/><ellipse cx="118.3" cy="849.1" rx="1.6" ry="2.4"/><ellipse cx="121.7" cy="850.6" rx="1.6" ry="2.4"/><circle cx="127.1" cy="848.6" r="1.9"/><ellipse cx="129.8" cy="848.9" rx="2.3" ry="1.5"/><ellipse cx="134.5" cy="848.5" rx="2.5" ry="1.6"/><ellipse cx="141.6" cy="849.0" rx="1.8" ry="2.6"/><circle cx="145.7" cy="849.0" r="1.9"/><circle cx="159.2" cy="849.6" r="2.1"/><ellipse cx="164.5" cy="849.8" rx="2.6" ry="1.7"/><ellipse cx="167.9" cy="849.6" rx="2.1" ry="1.4"/><ellipse cx="174.1" cy="849.9" rx="2.2" ry="1.5"/><ellipse cx="177.4" cy="850.4" rx="2.3" ry="1.6"/><circle cx="81.1" cy="853.5" r="2.0"/><ellipse cx="85.0" cy="851.5" rx="1.5" ry="2.3"/><circle cx="88.1" cy="852.2" r="2.2"/><circle cx="91.7" cy="852.5" r="2.0"/><ellipse cx="95.5" cy="852.8" rx="1.8" ry="2.6"/><ellipse cx="98.5" cy="853.4" rx="1.7" ry="2.5"/><circle cx="101.4" cy="852.5" r="2.0"/><ellipse cx="107.5" cy="851.8" rx="2.2" ry="1.5"/><ellipse cx="110.5" cy="851.5" rx="2.5" ry="1.6"/><ellipse cx="114.2" cy="851.9" rx="1.7" ry="2.5"/><ellipse cx="116.3" cy="852.5" rx="1.7" ry="2.6"/><ellipse cx="122.0" cy="851.3" rx="2.4" ry="1.6"/><circle cx="123.7" cy="853.3" r="2.0"/><circle cx="128.6" cy="851.6" r="2.0"/><circle cx="132.8" cy="851.9" r="1.8"/><circle cx="135.7" cy="852.7" r="2.1"/><circle cx="147.8" cy="853.8" r="1.8"/><circle cx="153.4" cy="852.6" r="1.8"/><circle cx="160.5" cy="852.3" r="1.9"/><ellipse cx="166.5" cy="852.1" rx="1.6" ry="2.5"/><ellipse cx="170.3" cy="852.7" rx="2.6" ry="1.7"/><ellipse cx="172.3" cy="853.2" rx="2.3" ry="1.5"/><circle cx="176.4" cy="852.2" r="2.0"/><ellipse cx="83.0" cy="854.6" rx="2.4" ry="1.6"/><ellipse cx="85.1" cy="854.7" rx="2.3" ry="1.5"/><ellipse cx="88.8" cy="856.4" rx="2.1" ry="1.4"/><ellipse cx="94.5" cy="854.5" rx="2.6" ry="1.7"/><ellipse cx="97.2" cy="855.4" rx="2.4" ry="1.6"/><circle cx="100.2" cy="855.8" r="2.1"/><ellipse cx="103.3" cy="855.1" rx="2.5" ry="1.7"/><circle cx="109.0" cy="855.5" r="2.1"/><ellipse cx="113.0" cy="856.6" rx="1.5" ry="2.3"/><circle cx="116.2" cy="856.2" r="2.1"/><ellipse cx="127.2" cy="856.0" rx="2.5" ry="1.7"/><ellipse cx="132.8" cy="856.5" rx="2.5" ry="1.7"/><ellipse cx="137.5" cy="855.6" rx="1.5" ry="2.3"/><circle cx="145.5" cy="855.9" r="1.8"/><ellipse cx="159.8" cy="854.6" rx="1.5" ry="2.3"/><circle cx="167.0" cy="856.5" r="2.1"/><ellipse cx="171.2" cy="855.0" rx="2.2" ry="1.5"/><ellipse cx="174.9" cy="855.8" rx="1.6" ry="2.4"/><circle cx="178.0" cy="856.0" r="2.2"/><ellipse cx="80.8" cy="858.3" rx="2.5" ry="1.7"/><ellipse cx="83.4" cy="857.9" rx="1.5" ry="2.3"/><ellipse cx="87.5" cy="859.3" rx="1.8" ry="2.6"/><circle cx="91.3" cy="859.0" r="2.1"/><ellipse cx="94.6" cy="859.9" rx="2.5" ry="1.7"/><ellipse cx="98.9" cy="858.6" rx="1.7" ry="2.6"/><circle cx="103.3" cy="858.0" r="1.8"/><ellipse cx="106.3" cy="859.3" rx="2.5" ry="1.7"/><ellipse cx="110.9" cy="860.1" rx="1.5" ry="2.3"/><circle cx="114.2" cy="858.5" r="2.1"/><circle cx="116.6" cy="857.8" r="1.9"/><circle cx="120.4" cy="858.0" r="1.9"/><ellipse cx="124.1" cy="859.0" rx="1.5" ry="2.2"/><ellipse cx="129.3" cy="859.3" rx="2.5" ry="1.7"/><circle cx="132.5" cy="860.1" r="1.9"/><ellipse cx="138.8" cy="858.9" rx="1.7" ry="2.5"/><ellipse cx="143.2" cy="859.2" rx="1.5" ry="2.2"/><circle cx="149.5" cy="860.0" r="2.0"/><ellipse cx="156.9" cy="859.4" rx="2.1" ry="1.4"/><circle cx="166.1" cy="859.1" r="2.0"/><ellipse cx="169.2" cy="858.6" rx="1.5" ry="2.2"/><ellipse cx="172.6" cy="859.0" rx="2.4" ry="1.6"/><circle cx="177.7" cy="859.2" r="1.9"/><ellipse cx="82.7" cy="863.4" rx="1.7" ry="2.6"/><ellipse cx="86.8" cy="863.4" rx="2.4" ry="1.6"/><circle cx="90.0" cy="862.5" r="2.2"/><ellipse cx="93.3" cy="863.4" rx="1.4" ry="2.2"/><ellipse cx="98.1" cy="861.0" rx="1.7" ry="2.5"/><circle cx="100.7" cy="862.4" r="2.1"/><ellipse cx="103.2" cy="863.0" rx="2.6" ry="1.7"/><circle cx="107.6" cy="861.8" r="2.1"/><ellipse cx="112.0" cy="862.3" rx="2.5" ry="1.6"/><circle cx="114.8" cy="863.2" r="1.8"/><ellipse cx="119.1" cy="863.0" rx="2.2" ry="1.5"/><circle cx="122.2" cy="862.3" r="2.1"/><ellipse cx="125.9" cy="861.7" rx="1.7" ry="2.5"/><circle cx="131.0" cy="862.3" r="2.1"/><ellipse cx="142.6" cy="861.9" rx="1.7" ry="2.5"/><ellipse cx="144.6" cy="863.0" rx="2.3" ry="1.5"/><ellipse cx="151.2" cy="862.2" rx="1.4" ry="2.1"/><circle cx="161.0" cy="863.3" r="2.2"/><ellipse cx="164.1" cy="863.4" rx="1.4" ry="2.2"/><ellipse cx="170.8" cy="861.9" rx="1.5" ry="2.2"/><circle cx="173.5" cy="861.4" r="1.8"/><ellipse cx="177.5" cy="861.2" rx="2.4" ry="1.6"/><circle cx="81.0" cy="865.5" r="1.8"/><ellipse cx="82.9" cy="864.9" rx="2.6" ry="1.7"/><ellipse cx="86.8" cy="865.0" rx="1.5" ry="2.3"/><ellipse cx="92.6" cy="865.3" rx="2.6" ry="1.7"/><ellipse cx="94.3" cy="866.6" rx="1.4" ry="2.1"/><ellipse cx="98.5" cy="864.3" rx="1.5" ry="2.2"/><ellipse cx="101.8" cy="864.2" rx="2.5" ry="1.7"/><circle cx="106.6" cy="865.4" r="1.8"/><ellipse cx="108.7" cy="864.8" rx="2.3" ry="1.5"/><ellipse cx="113.9" cy="865.0" rx="2.6" ry="1.7"/><ellipse cx="117.1" cy="865.5" rx="1.5" ry="2.3"/><circle cx="120.3" cy="866.6" r="2.1"/><ellipse cx="124.7" cy="866.7" rx="1.5" ry="2.2"/><circle cx="127.7" cy="865.7" r="2.2"/><ellipse cx="131.1" cy="865.9" rx="2.4" ry="1.6"/><ellipse cx="136.9" cy="865.5" rx="2.1" ry="1.4"/><circle cx="138.9" cy="865.6" r="2.0"/><circle cx="143.2" cy="865.4" r="2.2"/><ellipse cx="153.7" cy="866.5" rx="2.3" ry="1.6"/><ellipse cx="159.2" cy="865.4" rx="1.5" ry="2.3"/><ellipse cx="161.7" cy="865.0" rx="1.5" ry="2.2"/><circle cx="173.6" cy="866.2" r="2.1"/><ellipse cx="175.8" cy="866.5" rx="2.4" ry="1.6"/><ellipse cx="82.9" cy="868.9" rx="2.6" ry="1.7"/><ellipse cx="84.7" cy="869.1" rx="1.8" ry="2.6"/><ellipse cx="89.1" cy="867.8" rx="1.7" ry="2.5"/><ellipse cx="93.6" cy="867.7" rx="1.4" ry="2.1"/><ellipse cx="97.6" cy="869.4" rx="1.6" ry="2.4"/><circle cx="101.0" cy="868.6" r="1.9"/><ellipse cx="103.5" cy="869.4" rx="1.6" ry="2.5"/><circle cx="108.6" cy="868.7" r="1.9"/><ellipse cx="112.1" cy="869.1" rx="1.5" ry="2.3"/><circle cx="119.5" cy="869.9" r="1.9"/><ellipse cx="122.9" cy="868.6" rx="2.6" ry="1.7"/><ellipse cx="126.5" cy="869.3" rx="2.2" ry="1.5"/><ellipse cx="129.6" cy="868.2" rx="2.1" ry="1.4"/><ellipse cx="134.0" cy="869.8" rx="2.3" ry="1.5"/><ellipse cx="140.4" cy="868.5" rx="2.5" ry="1.7"/><ellipse cx="155.0" cy="867.8" rx="1.5" ry="2.2"/><circle cx="163.9" cy="869.2" r="1.9"/><ellipse cx="169.8" cy="867.5" rx="2.5" ry="1.7"/><ellipse cx="173.7" cy="868.5" rx="2.5" ry="1.7"/><ellipse cx="178.7" cy="869.1" rx="1.4" ry="2.1"/><circle cx="79.3" cy="870.7" r="1.8"/><ellipse cx="83.7" cy="871.8" rx="1.7" ry="2.6"/><circle cx="87.7" cy="872.1" r="2.2"/><ellipse cx="90.9" cy="871.2" rx="2.4" ry="1.6"/><ellipse cx="94.8" cy="872.9" rx="1.7" ry="2.5"/><circle cx="98.7" cy="871.5" r="2.0"/><ellipse cx="102.8" cy="871.6" rx="2.5" ry="1.7"/><ellipse cx="106.1" cy="872.9" rx="1.5" ry="2.3"/><ellipse cx="111.1" cy="872.6" rx="1.6" ry="2.5"/><ellipse cx="113.1" cy="872.5" rx="2.5" ry="1.6"/><ellipse cx="117.1" cy="872.3" rx="2.5" ry="1.7"/><ellipse cx="122.2" cy="871.5" rx="2.1" ry="1.4"/><ellipse cx="125.4" cy="871.3" rx="2.2" ry="1.5"/><ellipse cx="131.0" cy="872.1" rx="2.6" ry="1.7"/><ellipse cx="136.0" cy="872.4" rx="2.5" ry="1.7"/><ellipse cx="138.9" cy="872.4" rx="1.6" ry="2.4"/><ellipse cx="142.3" cy="872.6" rx="1.7" ry="2.5"/><circle cx="146.3" cy="872.1" r="2.0"/><ellipse cx="150.9" cy="872.9" rx="1.5" ry="2.3"/><ellipse cx="154.1" cy="871.0" rx="2.3" ry="1.6"/><ellipse cx="161.3" cy="872.6" rx="1.5" ry="2.3"/><ellipse cx="165.9" cy="872.7" rx="2.2" ry="1.5"/><circle cx="169.2" cy="870.6" r="2.0"/><ellipse cx="175.8" cy="871.0" rx="1.4" ry="2.1"/><circle cx="82.8" cy="874.5" r="2.1"/><ellipse cx="86.7" cy="876.0" rx="1.7" ry="2.5"/><circle cx="89.1" cy="876.1" r="2.0"/><ellipse cx="93.1" cy="875.9" rx="1.6" ry="2.4"/><ellipse cx="96.2" cy="874.4" rx="1.5" ry="2.2"/><ellipse cx="100.2" cy="874.9" rx="1.7" ry="2.5"/><circle cx="104.8" cy="874.2" r="2.1"/><circle cx="109.0" cy="876.1" r="1.9"/><ellipse cx="112.3" cy="873.9" rx="1.4" ry="2.1"/><ellipse cx="115.6" cy="875.3" rx="2.1" ry="1.4"/><circle cx="120.4" cy="875.4" r="1.8"/><ellipse cx="121.6" cy="875.6" rx="2.2" ry="1.5"/><ellipse cx="127.1" cy="874.6" rx="2.3" ry="1.5"/><circle cx="129.9" cy="874.7" r="1.9"/><circle cx="132.7" cy="874.6" r="1.9"/><ellipse cx="138.5" cy="875.0" rx="1.5" ry="2.3"/><ellipse cx="142.0" cy="875.4" rx="2.5" ry="1.6"/><ellipse cx="144.8" cy="874.8" rx="2.4" ry="1.6"/><ellipse cx="151.7" cy="873.9" rx="1.4" ry="2.1"/><ellipse cx="156.5" cy="874.5" rx="1.7" ry="2.6"/><ellipse cx="163.4" cy="874.8" rx="1.7" ry="2.6"/><ellipse cx="168.3" cy="876.0" rx="1.5" ry="2.2"/><ellipse cx="171.1" cy="875.1" rx="2.6" ry="1.7"/><circle cx="177.1" cy="874.2" r="2.0"/><ellipse cx="80.5" cy="879.5" rx="2.5" ry="1.7"/><ellipse cx="84.2" cy="877.5" rx="1.7" ry="2.6"/><ellipse cx="87.0" cy="878.2" rx="2.3" ry="1.5"/><circle cx="91.7" cy="877.1" r="2.0"/><ellipse cx="94.0" cy="879.0" rx="2.6" ry="1.7"/><ellipse cx="97.8" cy="878.7" rx="1.7" ry="2.5"/><circle cx="103.2" cy="877.2" r="2.1"/><ellipse cx="105.4" cy="877.1" rx="1.6" ry="2.4"/><ellipse cx="109.4" cy="877.7" rx="2.2" ry="1.5"/><ellipse cx="113.9" cy="879.4" rx="2.4" ry="1.6"/><ellipse cx="118.1" cy="877.7" rx="2.2" ry="1.5"/><ellipse cx="122.2" cy="877.6" rx="1.7" ry="2.6"/><ellipse cx="123.6" cy="877.5" rx="1.5" ry="2.3"/><ellipse cx="128.9" cy="879.6" rx="2.4" ry="1.6"/><ellipse cx="132.7" cy="878.3" rx="2.4" ry="1.6"/><ellipse cx="135.9" cy="877.1" rx="2.6" ry="1.8"/><circle cx="139.1" cy="877.4" r="2.2"/><circle cx="143.2" cy="878.3" r="2.0"/><circle cx="146.1" cy="878.9" r="2.1"/><ellipse cx="160.8" cy="877.4" rx="1.4" ry="2.1"/><ellipse cx="165.1" cy="877.2" rx="2.6" ry="1.7"/><circle cx="170.2" cy="877.1" r="1.9"/><circle cx="175.6" cy="877.5" r="1.9"/><circle cx="82.3" cy="881.6" r="2.0"/><ellipse cx="86.1" cy="880.7" rx="1.4" ry="2.1"/><circle cx="89.8" cy="881.3" r="2.2"/><ellipse cx="92.9" cy="882.1" rx="1.7" ry="2.5"/><ellipse cx="95.8" cy="881.0" rx="1.7" ry="2.5"/><ellipse cx="101.2" cy="882.6" rx="1.5" ry="2.3"/><ellipse cx="105.0" cy="880.5" rx="1.7" ry="2.5"/><ellipse cx="107.7" cy="881.8" rx="2.6" ry="1.7"/><ellipse cx="112.8" cy="882.8" rx="1.6" ry="2.5"/><ellipse cx="114.5" cy="881.3" rx="1.4" ry="2.2"/><ellipse cx="118.0" cy="881.9" rx="2.3" ry="1.5"/><circle cx="122.0" cy="881.4" r="2.2"/><circle cx="126.2" cy="882.0" r="2.1"/><circle cx="130.4" cy="881.1" r="1.8"/><ellipse cx="138.0" cy="880.4" rx="2.2" ry="1.5"/><ellipse cx="144.8" cy="881.1" rx="1.5" ry="2.3"/><ellipse cx="148.7" cy="882.0" rx="1.7" ry="2.5"/><ellipse cx="151.7" cy="881.8" rx="2.1" ry="1.4"/><ellipse cx="155.3" cy="882.1" rx="1.6" ry="2.5"/><ellipse cx="158.7" cy="880.5" rx="1.6" ry="2.3"/><circle cx="166.9" cy="880.5" r="1.8"/><circle cx="169.7" cy="880.7" r="2.0"/><ellipse cx="174.9" cy="882.4" rx="1.4" ry="2.2"/><ellipse cx="178.9" cy="882.5" rx="1.6" ry="2.4"/><ellipse cx="80.8" cy="886.0" rx="2.5" ry="1.7"/><ellipse cx="83.9" cy="883.5" rx="2.2" ry="1.5"/><ellipse cx="87.7" cy="884.8" rx="2.2" ry="1.4"/><ellipse cx="91.9" cy="886.0" rx="2.3" ry="1.5"/><ellipse cx="95.1" cy="885.5" rx="2.6" ry="1.7"/><circle cx="98.5" cy="884.7" r="2.2"/><circle cx="102.2" cy="883.7" r="1.8"/><circle cx="106.0" cy="885.0" r="2.0"/><ellipse cx="109.6" cy="885.8" rx="1.4" ry="2.1"/><ellipse cx="113.6" cy="883.8" rx="1.7" ry="2.6"/><ellipse cx="116.2" cy="885.2" rx="2.3" ry="1.6"/><ellipse cx="119.8" cy="885.9" rx="1.5" ry="2.2"/><ellipse cx="123.7" cy="883.6" rx="1.6" ry="2.4"/><ellipse cx="129.2" cy="884.0" rx="2.4" ry="1.6"/><circle cx="131.6" cy="885.8" r="2.0"/><ellipse cx="136.9" cy="885.9" rx="1.5" ry="2.3"/><circle cx="140.5" cy="885.5" r="2.0"/><ellipse cx="146.2" cy="884.9" rx="1.5" ry="2.2"/><ellipse cx="151.3" cy="884.3" rx="1.7" ry="2.5"/><ellipse cx="154.2" cy="883.8" rx="1.5" ry="2.2"/><circle cx="158.0" cy="885.1" r="1.9"/><ellipse cx="162.9" cy="885.0" rx="2.5" ry="1.7"/><ellipse cx="165.7" cy="885.5" rx="1.7" ry="2.6"/><ellipse cx="168.9" cy="885.1" rx="2.3" ry="1.5"/><ellipse cx="173.2" cy="884.4" rx="1.7" ry="2.6"/><circle cx="177.0" cy="885.6" r="2.0"/></g></svg>
<rect x="183.00" y="807.00" width="99.00" height="79.20" fill="#b9b9cb" stroke="none" stroke-width="1"/>
<svg x="183" y="807" width="99.0" height="79.2" viewBox="183 807 99.0 79.2"><g fill="#4e36c2" fill-opacity="0.95"><circle cx="188.3" cy="807.0" r="1.8"/><ellipse cx="191.3" cy="808.5" rx="1.5" ry="2.2"/><circle cx="193.9" cy="808.5" r="2.0"/><circle cx="197.8" cy="807.3" r="2.1"/><circle cx="202.4" cy="808.3" r="1.8"/><ellipse cx="212.6" cy="806.3" rx="1.5" ry="2.3"/><ellipse cx="223.1" cy="807.6" rx="2.1" ry="1.4"/><circle cx="267.3" cy="807.6" r="2.1"/><ellipse cx="271.7" cy="808.2" rx="2.5" ry="1.6"/><ellipse cx="276.1" cy="806.7" rx="1.5" ry="2.2"/><ellipse cx="278.7" cy="806.6" rx="2.4" ry="1.6"/><circle cx="197.3" cy="811.9" r="1.8"/><ellipse cx="203.8" cy="809.8" rx="2.2" ry="1.5"/><ellipse cx="208.1" cy="811.4" rx="2.3" ry="1.6"/><ellipse cx="222.0" cy="809.5" rx="1.6" ry="2.3"/><ellipse cx="229.4" cy="810.2" rx="1.6" ry="2.4"/><circle cx="241.4" cy="811.5" r="1.8"/><ellipse cx="262.3" cy="811.5" rx="2.3" ry="1.5"/><ellipse cx="267.6" cy="811.2" rx="1.7" ry="2.6"/><ellipse cx="270.5" cy="809.6" rx="2.3" ry="1.5"/><circle cx="276.7" cy="810.1" r="1.9"/><ellipse cx="280.4" cy="809.6" rx="2.4" ry="1.6"/><circle cx="183.7" cy="813.4" r="2.1"/><circle cx="187.2" cy="813.6" r="1.8"/><circle cx="190.4" cy="812.9" r="2.0"/><circle cx="195.6" cy="813.6" r="2.0"/><ellipse cx="224.5" cy="815.0" rx="2.4" ry="1.6"/><circle cx="260.2" cy="813.8" r="2.1"/><ellipse cx="264.5" cy="813.7" rx="2.3" ry="1.6"/><ellipse cx="273.2" cy="813.2" rx="2.3" ry="1.6"/><ellipse cx="279.2" cy="812.7" rx="1.5" ry="2.2"/><ellipse cx="186.2" cy="816.0" rx="1.5" ry="2.2"/><ellipse cx="190.1" cy="816.5" rx="1.7" ry="2.6"/><ellipse cx="197.1" cy="817.2" rx="2.4" ry="1.6"/><circle cx="199.7" cy="817.5" r="2.2"/><ellipse cx="212.1" cy="817.3" rx="1.7" ry="2.5"/><ellipse cx="215.8" cy="816.0" rx="2.5" ry="1.7"/><ellipse cx="225.7" cy="817.5" rx="1.7" ry="2.6"/><circle cx="255.3" cy="816.7" r="2.0"/><ellipse cx="267.6" cy="818.4" rx="2.1" ry="1.4"/><circle cx="270.8" cy="818.1" r="1.9"/><ellipse cx="278.1" cy="818.1" rx="2.6" ry="1.8"/><ellipse cx="282.6" cy="816.9" rx="2.3" ry="1.5"/><circle cx="184.8" cy="820.1" r="2.1"/><ellipse cx="186.7" cy="820.1" rx="2.4" ry="1.6"/><circle cx="193.8" cy="820.5" r="1.8"/><circle cx="199.3" cy="819.8" r="2.0"/><ellipse cx="202.1" cy="819.2" rx="1.5" ry="2.3"/><ellipse cx="210.4" cy="821.0" rx="1.4" ry="2.2"/><ellipse cx="245.3" cy="820.6" rx="1.4" ry="2.2"/><ellipse cx="252.5" cy="821.1" rx="1.7" ry="2.6"/><circle cx="257.5" cy="820.2" r="2.1"/><ellipse cx="268.2" cy="821.1" rx="2.3" ry="1.5"/><circle cx="275.6" cy="821.1" r="1.8"/><ellipse cx="185.6" cy="822.5" rx="2.1" ry="1.4"/><circle cx="189.4" cy="824.8" r="1.9"/><ellipse cx="191.8" cy="822.4" rx="2.3" ry="1.6"/><ellipse cx="200.2" cy="822.6" rx="1.6" ry="2.4"/><ellipse cx="202.7" cy="824.1" rx="1.6" ry="2.5"/><ellipse cx="208.1" cy="822.9" rx="1.7" ry="2.6"/><ellipse cx="212.4" cy="823.7" rx="1.5" ry="2.3"/><ellipse cx="213.8" cy="823.1" rx="2.6" ry="1.7"/><ellipse cx="217.6" cy="823.2" rx="2.3" ry="1.6"/><ellipse cx="233.2" cy="824.4" rx="2.4" ry="1.6"/><ellipse cx="244.0" cy="823.7" rx="2.5" ry="1.6"/><circle cx="260.5" cy="822.8" r="1.8"/><ellipse cx="263.8" cy="823.9" rx="2.2" ry="1.4"/><circle cx="273.2" cy="823.1" r="2.0"/><ellipse cx="278.8" cy="824.1" rx="1.6" ry="2.4"/><ellipse cx="282.4" cy="824.5" rx="2.2" ry="1.5"/><circle cx="182.3" cy="827.5" r="2.2"/><ellipse cx="194.0" cy="827.1" rx="1.6" ry="2.5"/><ellipse cx="200.9" cy="826.7" rx="1.6" ry="2.3"/><circle cx="213.3" cy="826.6" r="2.0"/><ellipse cx="225.2" cy="827.0" rx="1.5" ry="2.2"/><ellipse cx="245.6" cy="825.6" rx="1.7" ry="2.5"/><ellipse cx="260.7" cy="827.5" rx="1.7" ry="2.6"/><circle cx="268.8" cy="826.2" r="1.9"/><ellipse cx="271.1" cy="827.1" rx="1.4" ry="2.2"/><ellipse cx="275.1" cy="827.5" rx="1.5" ry="2.3"/><circle cx="189.3" cy="829.6" r="2.0"/><ellipse cx="195.7" cy="828.8" rx="1.6" ry="2.3"/><ellipse cx="207.7" cy="829.3" rx="1.6" ry="2.3"/><circle cx="215.0" cy="829.9" r="2.1"/><circle cx="217.9" cy="829.5" r="1.8"/><ellipse cx="256.0" cy="829.7" rx="2.1" ry="1.4"/><circle cx="267.1" cy="830.2" r="2.0"/><ellipse cx="270.9" cy="830.6" rx="2.6" ry="1.7"/><ellipse cx="273.3" cy="830.1" rx="1.5" ry="2.2"/><ellipse cx="277.0" cy="830.6" rx="1.6" ry="2.4"/><ellipse cx="280.5" cy="831.0" rx="1.8" ry="2.6"/><ellipse cx="209.4" cy="832.7" rx="2.2" ry="1.5"/><ellipse cx="212.9" cy="833.5" rx="2.4" ry="1.6"/><ellipse cx="217.6" cy="834.0" rx="2.6" ry="1.8"/><circle cx="240.2" cy="833.9" r="2.2"/><circle cx="251.0" cy="832.0" r="1.8"/><ellipse cx="262.3" cy="833.7" rx="2.3" ry="1.5"/><ellipse cx="263.9" cy="834.4" rx="2.2" ry="1.5"/><circle cx="269.4" cy="832.7" r="1.8"/><ellipse cx="271.5" cy="833.3" rx="1.5" ry="2.2"/><circle cx="279.3" cy="834.5" r="2.0"/><circle cx="184.3" cy="836.8" r="1.8"/><ellipse cx="189.2" cy="835.7" rx="2.5" ry="1.7"/><ellipse cx="203.2" cy="837.2" rx="2.2" ry="1.4"/><ellipse cx="206.7" cy="836.6" rx="2.6" ry="1.7"/><circle cx="245.3" cy="836.6" r="2.0"/><ellipse cx="254.7" cy="835.7" rx="1.4" ry="2.1"/><ellipse cx="260.6" cy="836.1" rx="2.5" ry="1.7"/><ellipse cx="261.9" cy="837.2" rx="1.5" ry="2.2"/><ellipse cx="267.4" cy="835.8" rx="2.5" ry="1.7"/><ellipse cx="270.5" cy="835.7" rx="2.2" ry="1.5"/><ellipse cx="274.4" cy="836.4" rx="2.4" ry="1.6"/><ellipse cx="277.6" cy="837.4" rx="1.7" ry="2.6"/><circle cx="282.4" cy="837.2" r="2.0"/><ellipse cx="182.5" cy="840.1" rx="2.4" ry="1.6"/><ellipse cx="187.5" cy="839.5" rx="1.5" ry="2.3"/><ellipse cx="213.2" cy="839.3" rx="2.3" ry="1.5"/><ellipse cx="222.9" cy="840.7" rx="1.5" ry="2.3"/><circle cx="238.5" cy="840.1" r="1.9"/><ellipse cx="250.3" cy="840.7" rx="2.3" ry="1.5"/><ellipse cx="256.3" cy="840.8" rx="1.5" ry="2.2"/><ellipse cx="261.5" cy="840.6" rx="2.2" ry="1.5"/><circle cx="264.8" cy="839.3" r="1.8"/><ellipse cx="267.6" cy="838.5" rx="2.5" ry="1.7"/><ellipse cx="273.3" cy="840.0" rx="1.5" ry="2.3"/><ellipse cx="275.6" cy="840.6" rx="1.7" ry="2.6"/><ellipse cx="278.9" cy="840.3" rx="2.3" ry="1.5"/><circle cx="184.9" cy="842.5" r="1.9"/><circle cx="215.8" cy="843.3" r="2.0"/><circle cx="239.8" cy="841.7" r="1.9"/><ellipse cx="244.0" cy="841.9" rx="1.6" ry="2.4"/><ellipse cx="259.4" cy="842.6" rx="2.5" ry="1.7"/><circle cx="263.9" cy="841.9" r="2.0"/><ellipse cx="271.7" cy="843.0" rx="2.4" ry="1.6"/><circle cx="273.3" cy="843.3" r="2.1"/><circle cx="277.3" cy="841.9" r="2.0"/><circle cx="282.3" cy="843.0" r="1.9"/><ellipse cx="191.0" cy="846.6" rx="2.3" ry="1.6"/><ellipse cx="201.8" cy="846.2" rx="1.5" ry="2.2"/><ellipse cx="239.8" cy="846.2" rx="1.6" ry="2.4"/><circle cx="249.2" cy="845.5" r="1.8"/><ellipse cx="254.2" cy="846.6" rx="2.6" ry="1.7"/><circle cx="269.2" cy="846.4" r="2.1"/><ellipse cx="273.1" cy="846.4" rx="2.1" ry="1.4"/><ellipse cx="276.6" cy="845.1" rx="1.5" ry="2.3"/><ellipse cx="280.0" cy="845.4" rx="1.7" ry="2.6"/><ellipse cx="204.9" cy="849.5" rx="2.5" ry="1.7"/><ellipse cx="223.3" cy="848.9" rx="2.4" ry="1.6"/><ellipse cx="251.4" cy="850.2" rx="2.1" ry="1.4"/><ellipse cx="259.6" cy="849.5" rx="2.4" ry="1.6"/><ellipse cx="262.5" cy="848.6" rx="2.4" ry="1.6"/><circle cx="267.0" cy="849.8" r="2.0"/><ellipse cx="271.1" cy="848.6" rx="1.7" ry="2.5"/><circle cx="278.6" cy="849.0" r="2.0"/><ellipse cx="280.7" cy="848.3" rx="1.5" ry="2.3"/><circle cx="186.7" cy="851.4" r="2.1"/><ellipse cx="206.2" cy="851.5" rx="1.4" ry="2.1"/><circle cx="219.6" cy="851.6" r="1.9"/><ellipse cx="235.0" cy="852.2" rx="2.5" ry="1.7"/><ellipse cx="239.3" cy="853.4" rx="2.3" ry="1.6"/><circle cx="243.8" cy="852.9" r="2.0"/><ellipse cx="246.4" cy="851.4" rx="2.4" ry="1.6"/><circle cx="249.4" cy="852.8" r="2.1"/><ellipse cx="254.7" cy="852.4" rx="2.3" ry="1.5"/><circle cx="256.4" cy="853.6" r="1.9"/><ellipse cx="261.1" cy="853.8" rx="2.2" ry="1.5"/><circle cx="265.3" cy="851.6" r="2.0"/><ellipse cx="273.1" cy="853.5" rx="2.3" ry="1.5"/><circle cx="276.3" cy="852.9" r="1.9"/><ellipse cx="278.6" cy="851.4" rx="1.4" ry="2.1"/><circle cx="192.4" cy="855.3" r="1.9"/><ellipse cx="241.4" cy="856.1" rx="2.2" ry="1.5"/><ellipse cx="255.9" cy="855.8" rx="1.8" ry="2.6"/><circle cx="263.8" cy="857.1" r="1.8"/><ellipse cx="267.6" cy="856.9" rx="1.6" ry="2.4"/><ellipse cx="184.3" cy="860.2" rx="1.6" ry="2.4"/><ellipse cx="194.8" cy="858.5" rx="1.4" ry="2.1"/><ellipse cx="213.1" cy="860.1" rx="2.1" ry="1.4"/><ellipse cx="218.0" cy="858.1" rx="1.6" ry="2.3"/><ellipse cx="220.7" cy="859.4" rx="2.2" ry="1.5"/><ellipse cx="224.8" cy="857.9" rx="2.3" ry="1.5"/><ellipse cx="227.5" cy="858.1" rx="1.6" ry="2.4"/><ellipse cx="231.9" cy="860.1" rx="2.4" ry="1.6"/><circle cx="240.1" cy="860.2" r="1.9"/><ellipse cx="249.1" cy="858.4" rx="1.4" ry="2.1"/><ellipse cx="256.5" cy="859.1" rx="2.3" ry="1.5"/><ellipse cx="264.5" cy="858.6" rx="2.5" ry="1.7"/><ellipse cx="267.9" cy="858.2" rx="2.6" ry="1.7"/><ellipse cx="273.1" cy="858.9" rx="2.2" ry="1.5"/><circle cx="276.6" cy="857.9" r="1.9"/><circle cx="279.3" cy="858.2" r="1.8"/><circle cx="189.5" cy="863.2" r="1.8"/><ellipse cx="197.4" cy="861.0" rx="2.3" ry="1.5"/><circle cx="198.9" cy="861.8" r="2.1"/><ellipse cx="239.6" cy="863.4" rx="2.5" ry="1.7"/><ellipse cx="251.1" cy="861.8" rx="2.1" ry="1.4"/><circle cx="259.3" cy="861.1" r="2.1"/><ellipse cx="262.0" cy="862.0" rx="2.2" ry="1.4"/><circle cx="266.9" cy="862.9" r="2.2"/><ellipse cx="195.1" cy="864.7" rx="1.7" ry="2.6"/><circle cx="209.7" cy="866.4" r="1.9"/><ellipse cx="221.1" cy="866.1" rx="2.3" ry="1.5"/><ellipse cx="235.1" cy="864.6" rx="2.5" ry="1.6"/><circle cx="243.8" cy="864.3" r="2.1"/><circle cx="246.0" cy="865.3" r="2.1"/><ellipse cx="250.2" cy="866.0" rx="2.5" ry="1.7"/><ellipse cx="254.1" cy="864.4" rx="2.4" ry="1.6"/><circle cx="257.4" cy="864.2" r="2.1"/><circle cx="260.4" cy="865.8" r="1.8"/><circle cx="277.2" cy="865.8" r="1.9"/><ellipse cx="279.3" cy="864.7" rx="2.5" ry="1.6"/><ellipse cx="186.4" cy="867.4" rx="2.2" ry="1.4"/><ellipse cx="219.2" cy="867.6" rx="1.6" ry="2.4"/><circle cx="225.3" cy="868.7" r="2.0"/><ellipse cx="233.4" cy="867.9" rx="1.4" ry="2.2"/><ellipse cx="238.4" cy="869.7" rx="1.5" ry="2.2"/><ellipse cx="256.4" cy="869.2" rx="1.6" ry="2.4"/><ellipse cx="259.5" cy="867.4" rx="1.7" ry="2.6"/><circle cx="269.2" cy="869.8" r="2.1"/><ellipse cx="273.7" cy="868.2" rx="1.6" ry="2.5"/><ellipse cx="278.2" cy="869.7" rx="2.3" ry="1.5"/><ellipse cx="191.8" cy="872.7" rx="1.4" ry="2.1"/><ellipse cx="199.0" cy="871.0" rx="2.5" ry="1.6"/><ellipse cx="206.6" cy="873.0" rx="2.5" ry="1.7"/><ellipse cx="232.4" cy="870.7" rx="1.5" ry="2.2"/><ellipse cx="242.0" cy="872.5" rx="2.5" ry="1.7"/><ellipse cx="245.3" cy="871.8" rx="2.3" ry="1.6"/><ellipse cx="250.6" cy="871.6" rx="1.7" ry="2.5"/><ellipse cx="253.0" cy="870.9" rx="2.6" ry="1.7"/><ellipse cx="260.9" cy="872.5" rx="2.6" ry="1.7"/><ellipse cx="267.8" cy="872.1" rx="1.6" ry="2.5"/><ellipse cx="271.5" cy="871.5" rx="2.6" ry="1.7"/><circle cx="280.6" cy="871.9" r="1.9"/><ellipse cx="190.3" cy="875.2" rx="1.5" ry="2.2"/><ellipse cx="236.5" cy="876.2" rx="2.1" ry="1.4"/><ellipse cx="244.8" cy="875.1" rx="2.2" ry="1.5"/><ellipse cx="262.7" cy="875.7" rx="2.5" ry="1.6"/><ellipse cx="274.6" cy="874.0" rx="2.3" ry="1.5"/><ellipse cx="277.0" cy="874.6" rx="2.3" ry="1.5"/><circle cx="192.0" cy="879.3" r="2.2"/><ellipse cx="225.4" cy="877.4" rx="2.4" ry="1.6"/><circle cx="231.4" cy="878.5" r="2.2"/><ellipse cx="243.6" cy="877.1" rx="2.6" ry="1.8"/><ellipse cx="245.2" cy="877.7" rx="2.4" ry="1.6"/><ellipse cx="257.7" cy="878.9" rx="1.5" ry="2.2"/><circle cx="260.2" cy="877.8" r="1.9"/><ellipse cx="268.9" cy="877.4" rx="2.2" ry="1.4"/><ellipse cx="197.0" cy="881.6" rx="1.7" ry="2.6"/><ellipse cx="214.4" cy="880.8" rx="2.3" ry="1.5"/><ellipse cx="224.8" cy="881.9" rx="2.4" ry="1.6"/><ellipse cx="232.2" cy="880.5" rx="1.7" ry="2.5"/><ellipse cx="236.8" cy="882.5" rx="2.2" ry="1.5"/><ellipse cx="240.9" cy="882.3" rx="2.6" ry="1.7"/><ellipse cx="245.0" cy="881.7" rx="1.6" ry="2.4"/><ellipse cx="247.0" cy="881.1" rx="1.5" ry="2.2"/><ellipse cx="256.6" cy="880.4" rx="1.6" ry="2.4"/><ellipse cx="259.5" cy="881.6" rx="1.6" ry="2.4"/><ellipse cx="263.3" cy="882.2" rx="1.7" ry="2.6"/><ellipse cx="266.8" cy="881.0" rx="2.6" ry="1.8"/><circle cx="269.3" cy="881.6" r="2.0"/><circle cx="193.4" cy="885.2" r="2.2"/><ellipse cx="267.3" cy="884.5" rx="1.7" ry="2.6"/><circle cx="279.9" cy="883.8" r="2.1"/></g></svg>
<rect x="79.80" y="890.20" width="99.00" height="78.80" fill="#b9b9cb" stroke="none" stroke-width="1"/>
<svg x="79.8" y="890.2" width="99.0" height="78.8" viewBox="79.8 890.2 99.0 78.8"><g fill="#4e36c2" fill-opacity="0.95"><ellipse cx="80.0" cy="891.8" rx="2.2" ry="1.5"/><ellipse cx="83.6" cy="891.5" rx="1.7" ry="2.5"/><ellipse cx="86.9" cy="890.8" rx="1.4" ry="2.2"/><ellipse cx="91.0" cy="891.0" rx="1.7" ry="2.6"/><ellipse cx="95.6" cy="889.7" rx="2.4" ry="1.6"/><ellipse cx="98.1" cy="889.8" rx="1.6" ry="2.4"/><ellipse cx="103.1" cy="890.4" rx="2.3" ry="1.5"/><circle cx="106.0" cy="891.4" r="1.9"/><ellipse cx="108.7" cy="890.0" rx="2.3" ry="1.6"/><ellipse cx="116.2" cy="891.6" rx="2.2" ry="1.5"/><ellipse cx="120.6" cy="889.4" rx="1.6" ry="2.5"/><ellipse cx="128.0" cy="890.7" rx="1.5" ry="2.3"/><ellipse cx="135.7" cy="891.5" rx="1.5" ry="2.3"/><ellipse cx="158.0" cy="891.4" rx="2.2" ry="1.4"/><circle cx="162.4" cy="889.8" r="2.1"/><ellipse cx="166.3" cy="890.3" rx="2.5" ry="1.7"/><ellipse cx="168.5" cy="889.8" rx="1.7" ry="2.6"/><circle cx="173.4" cy="891.2" r="2.2"/><ellipse cx="175.6" cy="891.6" rx="2.4" ry="1.6"/><ellipse cx="83.2" cy="894.2" rx="2.1" ry="1.4"/><ellipse cx="86.0" cy="893.8" rx="2.1" ry="1.4"/><ellipse cx="90.4" cy="893.4" rx="1.5" ry="2.2"/><ellipse cx="94.2" cy="893.7" rx="1.5" ry="2.3"/><circle cx="98.0" cy="895.1" r="2.1"/><circle cx="101.8" cy="893.1" r="1.9"/><circle cx="107.2" cy="894.4" r="1.8"/><circle cx="111.3" cy="894.6" r="2.2"/><ellipse cx="114.7" cy="893.6" rx="1.5" ry="2.2"/><circle cx="117.9" cy="894.0" r="1.9"/><ellipse cx="126.4" cy="895.2" rx="2.2" ry="1.5"/><circle cx="131.0" cy="894.5" r="2.1"/><ellipse cx="137.8" cy="895.0" rx="2.6" ry="1.7"/><ellipse cx="152.5" cy="893.7" rx="1.7" ry="2.6"/><circle cx="156.7" cy="894.1" r="1.9"/><circle cx="158.8" cy="893.6" r="1.9"/><ellipse cx="162.6" cy="895.1" rx="2.2" ry="1.5"/><ellipse cx="166.9" cy="893.9" rx="1.7" ry="2.5"/><circle cx="174.7" cy="894.0" r="1.9"/><ellipse cx="178.2" cy="894.7" rx="1.4" ry="2.1"/><circle cx="79.1" cy="897.2" r="1.9"/><circle cx="87.7" cy="896.0" r="1.8"/><ellipse cx="90.6" cy="896.6" rx="2.6" ry="1.7"/><circle cx="95.0" cy="897.9" r="2.0"/><ellipse cx="98.8" cy="898.3" rx="2.3" ry="1.5"/><ellipse cx="102.5" cy="897.1" rx="1.7" ry="2.5"/><ellipse cx="107.4" cy="898.3" rx="1.6" ry="2.5"/><circle cx="109.1" cy="896.4" r="1.9"/><circle cx="114.2" cy="896.2" r="2.2"/><circle cx="120.7" cy="897.3" r="2.1"/><circle cx="125.1" cy="896.3" r="2.1"/><ellipse cx="128.2" cy="896.1" rx="2.2" ry="1.5"/><circle cx="133.3" cy="897.0" r="1.8"/><circle cx="134.8" cy="897.4" r="1.8"/><circle cx="140.1" cy="897.5" r="1.9"/><ellipse cx="143.3" cy="897.3" rx="2.2" ry="1.5"/><circle cx="146.3" cy="897.6" r="1.8"/><ellipse cx="151.5" cy="897.2" rx="2.3" ry="1.5"/><ellipse cx="153.6" cy="898.0" rx="2.4" ry="1.6"/><ellipse cx="160.7" cy="897.8" rx="1.6" ry="2.5"/><ellipse cx="165.8" cy="895.9" rx="1.7" ry="2.5"/><circle cx="171.8" cy="898.1" r="1.9"/><circle cx="175.7" cy="897.1" r="2.2"/><ellipse cx="86.0" cy="900.3" rx="2.4" ry="1.6"/><ellipse cx="88.7" cy="901.1" rx="1.6" ry="2.4"/><ellipse cx="93.2" cy="901.0" rx="2.3" ry="1.5"/><ellipse cx="101.0" cy="900.9" rx="1.7" ry="2.5"/><circle cx="104.2" cy="900.5" r="1.9"/><circle cx="107.2" cy="900.4" r="2.1"/><ellipse cx="110.9" cy="900.1" rx="2.2" ry="1.5"/><ellipse cx="115.9" cy="899.3" rx="2.4" ry="1.6"/><ellipse cx="118.3" cy="900.8" rx="1.7" ry="2.6"/><circle cx="123.2" cy="899.3" r="1.9"/><circle cx="125.4" cy="900.9" r="1.9"/><circle cx="137.7" cy="899.3" r="1.8"/><ellipse cx="142.1" cy="899.3" rx="1.5" ry="2.3"/><circle cx="147.6" cy="900.5" r="1.9"/><circle cx="153.7" cy="900.2" r="1.9"/><circle cx="159.5" cy="899.7" r="2.1"/><ellipse cx="171.6" cy="899.1" rx="2.6" ry="1.7"/><ellipse cx="173.8" cy="901.6" rx="1.5" ry="2.2"/><circle cx="179.6" cy="900.9" r="1.8"/><ellipse cx="80.7" cy="904.8" rx="1.6" ry="2.5"/><ellipse cx="82.8" cy="904.6" rx="1.5" ry="2.3"/><circle cx="87.8" cy="903.9" r="2.0"/><ellipse cx="92.2" cy="904.3" rx="1.6" ry="2.4"/><ellipse cx="96.0" cy="904.1" rx="1.4" ry="2.1"/><ellipse cx="97.7" cy="902.4" rx="2.6" ry="1.8"/><ellipse cx="101.7" cy="902.3" rx="2.3" ry="1.5"/><ellipse cx="111.1" cy="902.8" rx="2.2" ry="1.5"/><ellipse cx="113.6" cy="903.1" rx="1.5" ry="2.2"/><ellipse cx="118.0" cy="903.9" rx="1.4" ry="2.2"/><ellipse cx="122.2" cy="902.9" rx="1.7" ry="2.5"/><ellipse cx="123.8" cy="902.8" rx="2.5" ry="1.6"/><ellipse cx="128.9" cy="902.7" rx="2.2" ry="1.5"/><circle cx="132.3" cy="904.7" r="2.1"/><ellipse cx="135.0" cy="904.1" rx="1.7" ry="2.6"/><circle cx="144.4" cy="903.6" r="2.1"/><ellipse cx="151.5" cy="904.2" rx="1.6" ry="2.5"/><ellipse cx="158.6" cy="903.3" rx="2.2" ry="1.5"/><circle cx="161.3" cy="904.3" r="2.1"/><circle cx="166.4" cy="904.4" r="1.8"/><ellipse cx="171.6" cy="902.3" rx="2.3" ry="1.6"/><ellipse cx="177.4" cy="904.5" rx="2.6" ry="1.7"/><circle cx="82.1" cy="905.9" r="1.8"/><circle cx="86.0" cy="906.2" r="1.8"/><ellipse cx="90.6" cy="906.6" rx="1.4" ry="2.2"/><ellipse cx="92.0" cy="907.5" rx="2.3" ry="1.5"/><circle cx="96.8" cy="907.3" r="2.1"/><circle cx="100.1" cy="906.2" r="1.9"/><ellipse cx="103.4" cy="905.7" rx="1.6" ry="2.4"/><circle cx="108.3" cy="906.0" r="2.0"/><circle cx="112.5" cy="906.2" r="1.8"/><circle cx="116.5" cy="906.7" r="2.0"/><circle cx="118.8" cy="906.8" r="2.0"/><ellipse cx="122.6" cy="905.8" rx="1.6" ry="2.4"/><ellipse cx="127.5" cy="907.8" rx="1.5" ry="2.3"/><ellipse cx="129.3" cy="906.5" rx="1.7" ry="2.5"/><ellipse cx="138.2" cy="906.9" rx="2.5" ry="1.7"/><ellipse cx="142.5" cy="907.9" rx="2.4" ry="1.6"/><circle cx="146.1" cy="907.7" r="1.9"/><ellipse cx="152.5" cy="907.2" rx="1.6" ry="2.4"/><ellipse cx="156.7" cy="907.6" rx="1.7" ry="2.6"/><circle cx="160.2" cy="907.6" r="1.8"/><ellipse cx="163.6" cy="907.8" rx="1.7" ry="2.6"/><ellipse cx="179.5" cy="906.5" rx="1.4" ry="2.1"/><circle cx="80.6" cy="911.3" r="1.9"/><circle cx="84.0" cy="911.0" r="2.0"/><ellipse cx="86.8" cy="909.3" rx="1.6" ry="2.4"/><circle cx="90.8" cy="909.3" r="2.2"/><ellipse cx="94.6" cy="909.8" rx="2.2" ry="1.4"/><ellipse cx="98.1" cy="909.3" rx="2.4" ry="1.6"/><circle cx="107.4" cy="909.0" r="1.8"/><ellipse cx="109.3" cy="909.1" rx="1.5" ry="2.2"/><ellipse cx="114.3" cy="910.0" rx="2.5" ry="1.7"/><ellipse cx="116.2" cy="909.9" rx="1.6" ry="2.4"/><circle cx="120.2" cy="909.6" r="2.0"/><ellipse cx="127.2" cy="911.0" rx="2.6" ry="1.7"/><circle cx="132.5" cy="908.8" r="2.0"/><ellipse cx="139.9" cy="910.2" rx="2.6" ry="1.8"/><ellipse cx="142.0" cy="909.8" rx="2.2" ry="1.5"/><ellipse cx="154.0" cy="910.8" rx="1.7" ry="2.6"/><circle cx="162.9" cy="910.8" r="1.9"/><ellipse cx="165.8" cy="911.0" rx="2.5" ry="1.6"/><ellipse cx="169.7" cy="910.1" rx="2.2" ry="1.5"/><circle cx="173.1" cy="908.9" r="2.2"/><ellipse cx="83.4" cy="913.6" rx="2.4" ry="1.6"/><ellipse cx="86.1" cy="912.8" rx="2.4" ry="1.6"/><ellipse cx="89.6" cy="913.8" rx="1.7" ry="2.5"/><ellipse cx="92.6" cy="911.9" rx="2.1" ry="1.4"/><ellipse cx="95.9" cy="913.2" rx="1.6" ry="2.3"/><ellipse cx="100.3" cy="913.2" rx="2.2" ry="1.4"/><ellipse cx="103.4" cy="912.3" rx="1.7" ry="2.5"/><ellipse cx="123.2" cy="912.5" rx="1.5" ry="2.3"/><ellipse cx="133.0" cy="913.5" rx="1.4" ry="2.2"/><ellipse cx="144.2" cy="912.7" rx="1.7" ry="2.5"/><circle cx="152.5" cy="913.1" r="2.2"/><ellipse cx="155.3" cy="914.1" rx="2.2" ry="1.5"/><circle cx="159.2" cy="912.9" r="2.1"/><ellipse cx="163.0" cy="912.2" rx="2.2" ry="1.5"/><circle cx="166.0" cy="913.4" r="2.2"/><ellipse cx="170.4" cy="914.2" rx="2.4" ry="1.6"/><circle cx="174.1" cy="912.4" r="1.8"/><ellipse cx="177.8" cy="912.9" rx="2.5" ry="1.7"/><ellipse cx="80.6" cy="916.7" rx="2.6" ry="1.7"/><ellipse cx="84.5" cy="916.6" rx="2.6" ry="1.7"/><ellipse cx="86.5" cy="917.1" rx="2.6" ry="1.7"/><ellipse cx="91.3" cy="917.5" rx="2.5" ry="1.7"/><ellipse cx="94.9" cy="917.1" rx="1.6" ry="2.3"/><circle cx="99.0" cy="916.6" r="1.9"/><ellipse cx="103.8" cy="915.2" rx="1.5" ry="2.2"/><ellipse cx="106.6" cy="916.0" rx="1.6" ry="2.5"/><ellipse cx="110.3" cy="917.0" rx="1.4" ry="2.1"/><ellipse cx="114.6" cy="915.6" rx="1.8" ry="2.6"/><ellipse cx="118.1" cy="917.3" rx="1.7" ry="2.6"/><ellipse cx="125.8" cy="917.5" rx="1.5" ry="2.2"/><ellipse cx="133.0" cy="916.2" rx="1.7" ry="2.5"/><ellipse cx="136.1" cy="916.1" rx="2.2" ry="1.5"/><ellipse cx="160.6" cy="915.3" rx="2.5" ry="1.6"/><circle cx="165.7" cy="916.0" r="1.8"/><ellipse cx="169.7" cy="915.7" rx="1.6" ry="2.5"/><circle cx="173.9" cy="917.4" r="1.8"/><ellipse cx="176.7" cy="916.5" rx="2.1" ry="1.4"/><ellipse cx="81.0" cy="920.3" rx="1.6" ry="2.4"/><ellipse cx="87.1" cy="920.4" rx="2.3" ry="1.5"/><ellipse cx="89.7" cy="919.7" rx="2.3" ry="1.6"/><ellipse cx="98.1" cy="920.5" rx="2.4" ry="1.6"/><ellipse cx="101.4" cy="920.7" rx="1.4" ry="2.1"/><ellipse cx="105.6" cy="919.3" rx="2.3" ry="1.5"/><ellipse cx="111.4" cy="919.7" rx="2.6" ry="1.8"/><circle cx="116.5" cy="920.9" r="2.1"/><ellipse cx="119.1" cy="920.0" rx="1.6" ry="2.4"/><circle cx="122.5" cy="919.8" r="1.8"/><ellipse cx="127.7" cy="920.0" rx="1.7" ry="2.5"/><circle cx="130.9" cy="919.4" r="1.9"/><circle cx="135.1" cy="918.6" r="2.1"/><ellipse cx="138.7" cy="918.4" rx="2.3" ry="1.6"/><ellipse cx="144.2" cy="920.9" rx="2.4" ry="1.6"/><circle cx="156.8" cy="918.5" r="1.8"/><circle cx="160.4" cy="918.9" r="1.8"/><circle cx="163.0" cy="918.7" r="1.9"/><ellipse cx="168.4" cy="919.0" rx="1.4" ry="2.1"/><ellipse cx="170.1" cy="918.6" rx="1.7" ry="2.6"/><ellipse cx="174.6" cy="919.9" rx="1.7" ry="2.6"/><circle cx="177.7" cy="920.6" r="2.0"/><circle cx="80.5" cy="922.2" r="1.9"/><ellipse cx="83.0" cy="923.6" rx="2.4" ry="1.6"/><ellipse cx="87.1" cy="922.1" rx="1.7" ry="2.5"/><ellipse cx="91.3" cy="923.2" rx="2.6" ry="1.7"/><ellipse cx="95.9" cy="922.5" rx="2.5" ry="1.7"/><ellipse cx="99.5" cy="922.3" rx="2.3" ry="1.5"/><circle cx="101.6" cy="922.6" r="1.8"/><ellipse cx="106.3" cy="923.3" rx="1.6" ry="2.5"/><circle cx="110.2" cy="922.0" r="1.9"/><ellipse cx="113.6" cy="924.1" rx="2.5" ry="1.7"/><circle cx="131.6" cy="923.8" r="2.2"/><circle cx="135.6" cy="923.2" r="2.0"/><ellipse cx="146.1" cy="923.1" rx="1.7" ry="2.5"/><ellipse cx="149.8" cy="922.7" rx="1.6" ry="2.5"/><circle cx="157.2" cy="923.9" r="1.8"/><ellipse cx="168.7" cy="921.9" rx="2.3" ry="1.5"/><ellipse cx="172.8" cy="923.1" rx="1.4" ry="2.1"/><ellipse cx="82.4" cy="926.7" rx="2.2" ry="1.5"/><circle cx="87.1" cy="927.3" r="2.0"/><ellipse cx="89.2" cy="925.5" rx="2.3" ry="1.5"/><circle cx="92.2" cy="927.0" r="2.1"/><ellipse cx="96.3" cy="924.9" rx="2.6" ry="1.7"/><ellipse cx="100.2" cy="926.7" rx="1.7" ry="2.5"/><ellipse cx="105.3" cy="924.9" rx="1.7" ry="2.5"/><ellipse cx="108.3" cy="925.1" rx="2.4" ry="1.6"/><ellipse cx="112.4" cy="925.3" rx="1.6" ry="2.4"/><ellipse cx="116.7" cy="927.1" rx="2.3" ry="1.6"/><ellipse cx="119.0" cy="925.0" rx="2.6" ry="1.7"/><ellipse cx="123.8" cy="927.1" rx="1.7" ry="2.6"/><ellipse cx="129.8" cy="925.8" rx="2.6" ry="1.7"/><ellipse cx="137.7" cy="926.2" rx="1.5" ry="2.3"/><circle cx="141.7" cy="926.1" r="2.0"/><circle cx="145.0" cy="925.4" r="1.8"/><circle cx="148.6" cy="925.1" r="2.1"/><ellipse cx="153.4" cy="925.9" rx="2.5" ry="1.7"/><ellipse cx="155.8" cy="924.8" rx="2.6" ry="1.7"/><ellipse cx="159.7" cy="926.3" rx="1.5" ry="2.2"/><circle cx="166.7" cy="926.0" r="2.1"/><ellipse cx="172.2" cy="925.4" rx="2.4" ry="1.6"/><ellipse cx="174.8" cy="926.0" rx="2.2" ry="1.5"/><ellipse cx="178.8" cy="927.1" rx="2.3" ry="1.5"/><ellipse cx="79.7" cy="929.4" rx="1.5" ry="2.2"/><ellipse cx="85.0" cy="929.3" rx="2.2" ry="1.4"/><circle cx="88.6" cy="929.0" r="2.1"/><ellipse cx="91.6" cy="930.0" rx="2.3" ry="1.5"/><ellipse cx="94.7" cy="929.8" rx="1.7" ry="2.5"/><ellipse cx="97.8" cy="928.7" rx="1.6" ry="2.4"/><ellipse cx="102.3" cy="928.2" rx="2.1" ry="1.4"/><circle cx="108.8" cy="928.9" r="2.1"/><ellipse cx="119.9" cy="929.5" rx="2.6" ry="1.7"/><ellipse cx="135.8" cy="930.4" rx="2.5" ry="1.7"/><ellipse cx="140.8" cy="930.4" rx="2.3" ry="1.5"/><circle cx="150.4" cy="928.7" r="2.0"/><ellipse cx="153.5" cy="928.8" rx="2.5" ry="1.7"/><ellipse cx="157.1" cy="928.9" rx="2.6" ry="1.8"/><ellipse cx="162.6" cy="928.7" rx="2.2" ry="1.5"/><circle cx="165.9" cy="929.5" r="1.8"/><circle cx="173.7" cy="928.5" r="2.1"/><circle cx="176.9" cy="929.3" r="2.0"/><ellipse cx="82.8" cy="933.4" rx="1.5" ry="2.3"/><ellipse cx="85.1" cy="931.6" rx="1.8" ry="2.6"/><circle cx="88.8" cy="931.6" r="1.8"/><ellipse cx="94.4" cy="933.2" rx="2.3" ry="1.5"/><circle cx="96.1" cy="931.4" r="1.9"/><ellipse cx="101.9" cy="933.8" rx="2.3" ry="1.6"/><circle cx="109.2" cy="932.0" r="2.2"/><ellipse cx="113.0" cy="932.5" rx="2.2" ry="1.4"/><ellipse cx="127.3" cy="932.1" rx="2.4" ry="1.6"/><circle cx="133.0" cy="931.8" r="2.0"/><circle cx="138.8" cy="931.8" r="2.1"/><ellipse cx="144.7" cy="933.7" rx="2.3" ry="1.5"/><ellipse cx="148.3" cy="932.0" rx="1.6" ry="2.4"/><ellipse cx="152.1" cy="933.8" rx="2.3" ry="1.5"/><ellipse cx="155.6" cy="931.5" rx="1.6" ry="2.4"/><ellipse cx="166.7" cy="931.7" rx="2.3" ry="1.5"/><circle cx="169.7" cy="932.8" r="1.8"/><circle cx="175.8" cy="933.6" r="1.9"/><circle cx="79.0" cy="935.4" r="2.0"/><circle cx="84.6" cy="935.6" r="2.2"/><ellipse cx="88.2" cy="936.9" rx="1.7" ry="2.5"/><ellipse cx="91.0" cy="936.8" rx="1.6" ry="2.4"/><ellipse cx="95.2" cy="936.7" rx="2.4" ry="1.6"/><circle cx="99.3" cy="936.4" r="2.1"/><ellipse cx="102.9" cy="936.5" rx="2.2" ry="1.5"/><ellipse cx="104.9" cy="937.0" rx="2.2" ry="1.5"/><ellipse cx="109.4" cy="935.9" rx="1.7" ry="2.6"/><circle cx="114.0" cy="935.9" r="1.8"/><ellipse cx="120.2" cy="936.1" rx="1.5" ry="2.3"/><ellipse cx="128.9" cy="936.3" rx="1.5" ry="2.3"/><circle cx="131.3" cy="934.9" r="1.8"/><circle cx="134.9" cy="935.0" r="1.9"/><circle cx="138.6" cy="934.9" r="1.8"/><circle cx="142.0" cy="936.4" r="2.0"/><circle cx="147.4" cy="937.0" r="1.8"/><ellipse cx="149.7" cy="936.8" rx="1.7" ry="2.5"/><ellipse cx="155.2" cy="935.6" rx="2.3" ry="1.5"/><ellipse cx="158.0" cy="936.3" rx="2.6" ry="1.7"/><circle cx="161.1" cy="935.6" r="2.2"/><ellipse cx="165.1" cy="935.6" rx="1.4" ry="2.2"/><ellipse cx="168.1" cy="935.2" rx="1.4" ry="2.1"/><ellipse cx="171.7" cy="936.8" rx="2.6" ry="1.7"/><circle cx="176.6" cy="935.6" r="1.9"/><ellipse cx="82.4" cy="939.7" rx="2.6" ry="1.7"/><ellipse cx="85.1" cy="939.1" rx="1.7" ry="2.6"/><circle cx="89.2" cy="938.5" r="1.9"/><circle cx="93.7" cy="938.8" r="2.1"/><ellipse cx="96.1" cy="939.1" rx="2.3" ry="1.5"/><ellipse cx="101.8" cy="939.2" rx="1.7" ry="2.5"/><ellipse cx="105.4" cy="937.8" rx="1.7" ry="2.5"/><ellipse cx="108.6" cy="939.4" rx="1.7" ry="2.6"/><ellipse cx="111.1" cy="939.1" rx="2.2" ry="1.5"/><ellipse cx="114.5" cy="937.7" rx="1.6" ry="2.4"/><ellipse cx="117.9" cy="938.5" rx="1.7" ry="2.6"/><circle cx="126.9" cy="938.9" r="1.8"/><circle cx="129.4" cy="939.0" r="2.1"/><ellipse cx="144.5" cy="938.8" rx="2.4" ry="1.6"/><ellipse cx="148.6" cy="938.6" rx="1.6" ry="2.4"/><ellipse cx="152.1" cy="938.0" rx="2.4" ry="1.6"/><ellipse cx="157.0" cy="940.1" rx="1.6" ry="2.4"/><ellipse cx="160.0" cy="939.0" rx="2.3" ry="1.5"/><ellipse cx="162.9" cy="938.4" rx="2.2" ry="1.4"/><ellipse cx="167.1" cy="939.8" rx="1.7" ry="2.6"/><ellipse cx="173.6" cy="938.0" rx="1.5" ry="2.2"/><ellipse cx="179.3" cy="938.1" rx="1.4" ry="2.2"/><ellipse cx="79.8" cy="942.4" rx="2.3" ry="1.6"/><ellipse cx="85.1" cy="941.1" rx="1.7" ry="2.5"/><ellipse cx="88.0" cy="941.6" rx="2.2" ry="1.5"/><ellipse cx="92.4" cy="942.4" rx="1.5" ry="2.3"/><circle cx="96.3" cy="942.1" r="2.0"/><ellipse cx="99.9" cy="941.1" rx="2.6" ry="1.7"/><ellipse cx="102.2" cy="941.4" rx="1.7" ry="2.5"/><ellipse cx="106.5" cy="943.4" rx="2.3" ry="1.5"/><ellipse cx="114.5" cy="941.0" rx="1.5" ry="2.2"/><circle cx="118.0" cy="943.0" r="1.9"/><ellipse cx="121.9" cy="942.7" rx="1.6" ry="2.4"/><ellipse cx="131.3" cy="941.5" rx="1.6" ry="2.5"/><ellipse cx="135.2" cy="941.4" rx="1.5" ry="2.3"/><ellipse cx="138.8" cy="941.6" rx="1.7" ry="2.6"/><ellipse cx="142.2" cy="941.3" rx="2.5" ry="1.6"/><circle cx="149.4" cy="942.8" r="2.0"/><ellipse cx="154.9" cy="943.3" rx="2.4" ry="1.6"/><circle cx="159.1" cy="943.4" r="2.0"/><circle cx="161.7" cy="942.0" r="2.0"/><circle cx="164.6" cy="942.9" r="2.1"/><circle cx="169.0" cy="941.2" r="1.9"/><ellipse cx="174.0" cy="941.2" rx="1.4" ry="2.2"/><circle cx="175.5" cy="943.1" r="1.9"/><circle cx="82.5" cy="944.3" r="2.0"/><ellipse cx="86.2" cy="946.0" rx="1.7" ry="2.6"/><ellipse cx="90.3" cy="946.5" rx="2.2" ry="1.4"/><ellipse cx="94.3" cy="945.9" rx="1.7" ry="2.5"/><ellipse cx="96.8" cy="945.8" rx="1.6" ry="2.3"/><circle cx="100.8" cy="946.2" r="1.8"/><ellipse cx="104.6" cy="945.0" rx="2.1" ry="1.4"/><ellipse cx="109.3" cy="945.2" rx="2.3" ry="1.5"/><ellipse cx="110.5" cy="944.6" rx="1.5" ry="2.3"/><circle cx="119.8" cy="945.8" r="1.8"/><circle cx="122.7" cy="945.9" r="2.0"/><ellipse cx="127.7" cy="944.7" rx="1.7" ry="2.5"/><circle cx="133.9" cy="944.4" r="1.9"/><circle cx="142.2" cy="944.9" r="2.2"/><ellipse cx="144.9" cy="945.1" rx="1.6" ry="2.5"/><ellipse cx="152.7" cy="944.7" rx="1.5" ry="2.2"/><ellipse cx="156.9" cy="944.4" rx="1.6" ry="2.4"/><ellipse cx="158.9" cy="945.6" rx="2.3" ry="1.6"/><ellipse cx="163.2" cy="945.2" rx="2.2" ry="1.4"/><circle cx="166.1" cy="945.9" r="2.0"/><ellipse cx="171.7" cy="946.6" rx="2.3" ry="1.6"/><circle cx="175.3" cy="944.3" r="2.0"/><ellipse cx="178.2" cy="945.0" rx="2.4" ry="1.6"/><circle cx="79.3" cy="948.7" r="2.0"/><ellipse cx="84.6" cy="948.9" rx="1.5" ry="2.3"/><ellipse cx="87.3" cy="949.3" rx="1.7" ry="2.6"/><circle cx="91.2" cy="948.6" r="1.9"/><ellipse cx="95.9" cy="949.4" rx="2.5" ry="1.7"/><ellipse cx="99.2" cy="948.3" rx="1.6" ry="2.4"/><circle cx="102.5" cy="949.7" r="1.9"/><ellipse cx="106.0" cy="948.1" rx="1.5" ry="2.3"/><circle cx="110.6" cy="948.4" r="2.0"/><circle cx="113.9" cy="948.1" r="2.1"/><ellipse cx="116.6" cy="948.8" rx="1.7" ry="2.6"/><ellipse cx="124.9" cy="947.7" rx="1.4" ry="2.2"/><circle cx="129.1" cy="949.0" r="1.9"/><circle cx="132.6" cy="949.3" r="2.1"/><ellipse cx="134.9" cy="949.8" rx="1.6" ry="2.5"/><circle cx="140.2" cy="948.5" r="1.9"/><circle cx="143.9" cy="948.7" r="2.0"/><ellipse cx="146.3" cy="947.6" rx="2.4" ry="1.6"/><circle cx="151.8" cy="948.3" r="1.9"/><ellipse cx="153.6" cy="948.7" rx="1.6" ry="2.4"/><ellipse cx="157.6" cy="948.9" rx="2.6" ry="1.7"/><ellipse cx="162.8" cy="948.3" rx="1.5" ry="2.2"/><ellipse cx="168.0" cy="949.2" rx="1.5" ry="2.2"/><circle cx="173.7" cy="947.9" r="2.0"/><ellipse cx="177.7" cy="948.2" rx="2.1" ry="1.4"/><ellipse cx="82.3" cy="950.9" rx="1.6" ry="2.4"/><ellipse cx="86.9" cy="952.8" rx="2.3" ry="1.5"/><circle cx="89.3" cy="951.7" r="1.8"/><ellipse cx="96.3" cy="951.1" rx="1.4" ry="2.2"/><circle cx="100.2" cy="951.5" r="2.1"/><ellipse cx="105.5" cy="950.6" rx="2.3" ry="1.5"/><ellipse cx="108.1" cy="951.2" rx="2.4" ry="1.6"/><circle cx="112.7" cy="952.3" r="1.8"/><circle cx="114.7" cy="951.9" r="2.2"/><ellipse cx="118.9" cy="951.6" rx="2.5" ry="1.7"/><circle cx="131.4" cy="951.1" r="2.1"/><circle cx="141.0" cy="950.6" r="2.0"/><ellipse cx="146.1" cy="951.6" rx="1.5" ry="2.2"/><ellipse cx="151.9" cy="950.9" rx="1.6" ry="2.3"/><circle cx="156.0" cy="952.0" r="2.1"/><ellipse cx="158.8" cy="951.8" rx="2.5" ry="1.7"/><circle cx="163.2" cy="950.8" r="1.9"/><ellipse cx="166.5" cy="951.3" rx="2.2" ry="1.4"/><circle cx="171.3" cy="950.6" r="2.1"/><ellipse cx="177.2" cy="952.1" rx="2.5" ry="1.6"/><circle cx="80.2" cy="955.0" r="1.8"/><ellipse cx="84.0" cy="954.9" rx="1.5" ry="2.3"/><circle cx="87.0" cy="956.2" r="2.1"/><ellipse cx="90.8" cy="954.9" rx="2.2" ry="1.4"/><ellipse cx="95.9" cy="955.0" rx="1.8" ry="2.6"/><ellipse cx="98.2" cy="954.6" rx="1.7" ry="2.5"/><ellipse cx="103.4" cy="955.8" rx="1.7" ry="2.5"/><ellipse cx="107.0" cy="954.2" rx="1.5" ry="2.3"/><ellipse cx="109.4" cy="955.9" rx="1.7" ry="2.5"/><ellipse cx="114.9" cy="955.3" rx="1.5" ry="2.2"/><ellipse cx="116.5" cy="954.1" rx="2.4" ry="1.6"/><ellipse cx="120.2" cy="956.2" rx="2.6" ry="1.7"/><ellipse cx="124.7" cy="955.1" rx="2.1" ry="1.4"/><ellipse cx="128.0" cy="956.0" rx="2.5" ry="1.6"/><ellipse cx="131.4" cy="955.3" rx="2.2" ry="1.5"/><ellipse cx="134.7" cy="955.5" rx="1.5" ry="2.2"/><ellipse cx="140.3" cy="954.3" rx="1.6" ry="2.4"/><circle cx="142.1" cy="955.9" r="2.1"/><circle cx="151.9" cy="955.6" r="2.1"/><circle cx="155.6" cy="954.8" r="1.8"/><ellipse cx="159.1" cy="954.3" rx="1.7" ry="2.5"/><ellipse cx="161.5" cy="955.6" rx="2.2" ry="1.5"/><circle cx="165.6" cy="955.6" r="1.8"/><ellipse cx="168.7" cy="956.0" rx="2.2" ry="1.5"/><ellipse cx="172.3" cy="956.3" rx="2.6" ry="1.7"/><ellipse cx="175.5" cy="955.8" rx="1.7" ry="2.6"/><circle cx="83.1" cy="958.5" r="1.8"/><ellipse cx="84.9" cy="957.2" rx="2.1" ry="1.4"/><ellipse cx="88.7" cy="957.5" rx="2.6" ry="1.8"/><circle cx="93.5" cy="957.5" r="2.2"/><ellipse cx="96.6" cy="957.6" rx="1.5" ry="2.2"/><ellipse cx="100.2" cy="959.6" rx="2.5" ry="1.7"/><ellipse cx="107.4" cy="958.9" rx="2.1" ry="1.4"/><ellipse cx="110.8" cy="959.0" rx="2.1" ry="1.4"/><ellipse cx="115.7" cy="958.7" rx="1.4" ry="2.1"/><circle cx="119.9" cy="958.9" r="1.9"/><ellipse cx="123.8" cy="957.7" rx="1.5" ry="2.2"/><circle cx="125.6" cy="958.2" r="1.9"/><circle cx="130.3" cy="957.5" r="2.1"/><ellipse cx="132.8" cy="958.0" rx="1.7" ry="2.6"/><ellipse cx="137.9" cy="958.4" rx="2.3" ry="1.5"/><ellipse cx="141.6" cy="959.2" rx="2.2" ry="1.5"/><ellipse cx="143.9" cy="957.8" rx="2.6" ry="1.7"/><ellipse cx="153.4" cy="957.9" rx="1.7" ry="2.5"/><circle cx="155.9" cy="959.1" r="2.1"/><circle cx="160.7" cy="959.3" r="2.1"/><circle cx="164.5" cy="959.2" r="1.8"/><ellipse cx="167.4" cy="957.6" rx="1.7" ry="2.6"/><circle cx="170.1" cy="957.4" r="2.0"/><ellipse cx="175.8" cy="957.5" rx="1.7" ry="2.6"/><ellipse cx="81.6" cy="962.6" rx="2.6" ry="1.7"/><ellipse cx="84.5" cy="962.4" rx="1.6" ry="2.4"/><circle cx="88.4" cy="962.6" r="2.1"/><ellipse cx="91.0" cy="961.5" rx="1.5" ry="2.3"/><ellipse cx="96.3" cy="961.5" rx="2.2" ry="1.4"/><ellipse cx="99.9" cy="961.0" rx="2.5" ry="1.7"/><circle cx="102.3" cy="962.1" r="1.9"/><ellipse cx="105.1" cy="960.9" rx="2.5" ry="1.7"/><ellipse cx="108.9" cy="961.6" rx="1.6" ry="2.4"/><ellipse cx="113.2" cy="961.1" rx="1.7" ry="2.6"/><ellipse cx="116.9" cy="962.6" rx="1.8" ry="2.6"/><circle cx="119.9" cy="960.7" r="2.2"/><ellipse cx="125.0" cy="962.4" rx="1.7" ry="2.6"/><circle cx="135.5" cy="962.2" r="2.0"/><ellipse cx="139.8" cy="960.6" rx="1.4" ry="2.1"/><ellipse cx="143.5" cy="961.1" rx="2.5" ry="1.7"/><ellipse cx="147.1" cy="960.3" rx="1.6" ry="2.4"/><circle cx="149.8" cy="960.3" r="1.8"/><ellipse cx="153.3" cy="961.5" rx="1.5" ry="2.2"/><ellipse cx="156.8" cy="961.0" rx="1.5" ry="2.2"/><ellipse cx="165.5" cy="960.8" rx="1.8" ry="2.6"/><circle cx="168.6" cy="960.4" r="1.9"/><ellipse cx="172.6" cy="962.2" rx="1.7" ry="2.5"/><ellipse cx="176.9" cy="962.5" rx="1.4" ry="2.1"/><ellipse cx="81.5" cy="965.5" rx="1.6" ry="2.4"/><circle cx="84.7" cy="964.9" r="2.2"/><ellipse cx="88.8" cy="965.4" rx="1.6" ry="2.3"/><ellipse cx="92.1" cy="965.7" rx="2.2" ry="1.5"/><ellipse cx="95.8" cy="965.4" rx="2.5" ry="1.7"/><circle cx="100.0" cy="965.5" r="2.1"/><ellipse cx="104.2" cy="963.6" rx="2.3" ry="1.5"/><ellipse cx="109.0" cy="965.4" rx="2.1" ry="1.4"/><ellipse cx="111.5" cy="965.3" rx="1.4" ry="2.1"/><ellipse cx="115.0" cy="963.5" rx="1.6" ry="2.4"/><ellipse cx="119.9" cy="964.7" rx="2.6" ry="1.7"/><ellipse cx="122.4" cy="965.1" rx="2.5" ry="1.7"/><ellipse cx="125.7" cy="965.3" rx="2.5" ry="1.7"/><circle cx="129.0" cy="964.1" r="1.8"/><ellipse cx="133.7" cy="963.8" rx="1.6" ry="2.3"/><circle cx="138.2" cy="963.7" r="2.1"/><circle cx="141.9" cy="965.3" r="1.8"/><ellipse cx="144.6" cy="965.2" rx="1.5" ry="2.2"/><ellipse cx="147.6" cy="965.0" rx="2.3" ry="1.5"/><ellipse cx="156.3" cy="965.2" rx="2.2" ry="1.4"/><ellipse cx="158.6" cy="965.4" rx="2.2" ry="1.4"/><circle cx="163.9" cy="964.8" r="1.9"/><ellipse cx="167.5" cy="965.8" rx="2.4" ry="1.6"/><ellipse cx="170.7" cy="963.9" rx="1.4" ry="2.2"/><circle cx="174.1" cy="965.7" r="1.8"/><ellipse cx="178.9" cy="965.6" rx="2.4" ry="1.6"/><ellipse cx="79.9" cy="968.0" rx="2.6" ry="1.7"/><ellipse cx="83.9" cy="966.9" rx="1.5" ry="2.2"/><ellipse cx="86.6" cy="967.6" rx="2.2" ry="1.5"/><ellipse cx="90.3" cy="968.3" rx="2.5" ry="1.7"/><circle cx="95.5" cy="967.5" r="2.2"/><ellipse cx="99.3" cy="968.7" rx="2.1" ry="1.4"/><ellipse cx="102.5" cy="968.2" rx="1.5" ry="2.3"/><ellipse cx="106.8" cy="967.3" rx="1.6" ry="2.3"/><ellipse cx="110.9" cy="968.0" rx="1.6" ry="2.4"/><ellipse cx="112.4" cy="968.5" rx="1.6" ry="2.4"/><ellipse cx="116.3" cy="968.0" rx="2.2" ry="1.5"/><circle cx="120.4" cy="968.7" r="1.8"/><ellipse cx="124.3" cy="967.8" rx="2.6" ry="1.7"/><circle cx="131.0" cy="967.8" r="2.0"/><ellipse cx="134.6" cy="967.1" rx="1.6" ry="2.3"/><circle cx="142.0" cy="967.9" r="1.9"/><circle cx="149.8" cy="967.4" r="1.8"/><circle cx="153.9" cy="968.4" r="2.0"/><circle cx="158.2" cy="969.2" r="1.8"/><ellipse cx="165.9" cy="967.3" rx="2.2" ry="1.5"/><ellipse cx="169.8" cy="966.7" rx="2.2" ry="1.5"/><circle cx="173.6" cy="968.6" r="2.2"/><ellipse cx="176.0" cy="967.0" rx="2.4" ry="1.6"/></g></svg>
<rect x="183.00" y="890.40" width="99.00" height="78.60" fill="#b9b9cb" stroke="none" stroke-width="1"/>
<svg x="183" y="890.4" width="99.0" height="78.6" viewBox="183 890.4 99.0 78.6"><g fill="#4e36c2" fill-opacity="0.95"><ellipse cx="182.3" cy="889.9" rx="1.6" ry="2.5"/><circle cx="187.0" cy="891.2" r="2.1"/><circle cx="190.9" cy="891.6" r="1.9"/><ellipse cx="195.8" cy="890.9" rx="2.2" ry="1.5"/><ellipse cx="197.9" cy="890.1" rx="2.3" ry="1.5"/><ellipse cx="200.9" cy="892.2" rx="2.1" ry="1.4"/><circle cx="210.6" cy="889.8" r="2.2"/><circle cx="213.7" cy="891.7" r="2.0"/><ellipse cx="217.6" cy="889.8" rx="2.1" ry="1.4"/><ellipse cx="225.0" cy="891.4" rx="2.4" ry="1.6"/><ellipse cx="228.5" cy="892.1" rx="2.2" ry="1.5"/><ellipse cx="231.7" cy="891.9" rx="1.5" ry="2.3"/><circle cx="235.6" cy="890.9" r="1.9"/><ellipse cx="253.9" cy="892.0" rx="2.1" ry="1.4"/><circle cx="260.5" cy="891.3" r="2.1"/><ellipse cx="264.6" cy="892.1" rx="1.4" ry="2.1"/><ellipse cx="269.4" cy="891.1" rx="2.3" ry="1.6"/><circle cx="273.1" cy="890.0" r="2.0"/><ellipse cx="280.5" cy="890.4" rx="1.8" ry="2.6"/><ellipse cx="185.6" cy="893.0" rx="2.5" ry="1.7"/><circle cx="189.5" cy="893.2" r="2.0"/><ellipse cx="191.8" cy="893.5" rx="1.6" ry="2.4"/><circle cx="195.6" cy="893.3" r="1.9"/><circle cx="200.2" cy="893.9" r="2.0"/><ellipse cx="203.7" cy="893.1" rx="1.7" ry="2.6"/><ellipse cx="208.7" cy="894.7" rx="2.4" ry="1.6"/><ellipse cx="210.8" cy="895.1" rx="2.6" ry="1.7"/><circle cx="214.3" cy="894.5" r="2.0"/><ellipse cx="217.6" cy="894.5" rx="2.6" ry="1.7"/><circle cx="225.4" cy="895.4" r="2.1"/><ellipse cx="233.6" cy="894.8" rx="2.3" ry="1.5"/><circle cx="236.0" cy="893.6" r="1.8"/><ellipse cx="239.6" cy="894.3" rx="1.7" ry="2.5"/><circle cx="251.8" cy="894.0" r="2.1"/><circle cx="255.2" cy="894.0" r="2.1"/><circle cx="261.8" cy="893.4" r="1.8"/><circle cx="266.3" cy="895.4" r="2.1"/><circle cx="270.8" cy="892.8" r="2.2"/><circle cx="275.4" cy="895.1" r="2.0"/><circle cx="277.0" cy="893.0" r="1.9"/><ellipse cx="280.4" cy="893.3" rx="1.4" ry="2.2"/><circle cx="183.3" cy="896.3" r="1.8"/><ellipse cx="186.0" cy="898.2" rx="2.4" ry="1.6"/><ellipse cx="191.8" cy="898.4" rx="1.6" ry="2.4"/><circle cx="193.9" cy="898.3" r="1.8"/><ellipse cx="199.5" cy="896.8" rx="2.6" ry="1.8"/><ellipse cx="202.2" cy="897.0" rx="1.5" ry="2.3"/><ellipse cx="205.7" cy="897.9" rx="1.5" ry="2.2"/><circle cx="210.5" cy="896.4" r="2.1"/><ellipse cx="214.1" cy="897.3" rx="2.2" ry="1.5"/><ellipse cx="216.3" cy="896.1" rx="2.6" ry="1.7"/><ellipse cx="220.4" cy="898.2" rx="2.2" ry="1.5"/><ellipse cx="227.8" cy="897.7" rx="1.7" ry="2.6"/><ellipse cx="231.2" cy="896.6" rx="2.3" ry="1.5"/><circle cx="241.6" cy="896.5" r="1.8"/><ellipse cx="246.8" cy="898.0" rx="2.4" ry="1.6"/><ellipse cx="250.6" cy="897.2" rx="2.4" ry="1.6"/><ellipse cx="261.8" cy="897.7" rx="2.2" ry="1.5"/><ellipse cx="264.4" cy="897.3" rx="1.4" ry="2.1"/><ellipse cx="267.3" cy="896.8" rx="2.6" ry="1.8"/><ellipse cx="271.8" cy="897.3" rx="1.7" ry="2.6"/><ellipse cx="186.2" cy="901.7" rx="1.6" ry="2.4"/><ellipse cx="204.6" cy="901.0" rx="2.4" ry="1.6"/><circle cx="208.4" cy="900.1" r="2.1"/><circle cx="212.0" cy="900.7" r="2.1"/><circle cx="216.0" cy="900.9" r="1.8"/><circle cx="217.4" cy="900.0" r="1.8"/><circle cx="221.3" cy="899.8" r="1.9"/><circle cx="225.2" cy="900.8" r="2.1"/><circle cx="230.1" cy="900.0" r="1.9"/><circle cx="234.7" cy="899.9" r="2.0"/><circle cx="236.1" cy="899.8" r="1.9"/><ellipse cx="240.4" cy="901.3" rx="1.7" ry="2.6"/><ellipse cx="245.5" cy="900.4" rx="1.6" ry="2.4"/><ellipse cx="258.4" cy="900.6" rx="1.5" ry="2.3"/><ellipse cx="264.1" cy="900.8" rx="2.5" ry="1.6"/><circle cx="271.2" cy="901.6" r="2.0"/><ellipse cx="277.7" cy="900.7" rx="1.7" ry="2.5"/><ellipse cx="280.3" cy="899.5" rx="1.6" ry="2.4"/><ellipse cx="183.1" cy="902.8" rx="1.4" ry="2.2"/><circle cx="187.3" cy="903.1" r="1.9"/><ellipse cx="189.8" cy="904.5" rx="1.7" ry="2.5"/><ellipse cx="195.8" cy="902.5" rx="2.4" ry="1.6"/><ellipse cx="197.9" cy="903.0" rx="2.6" ry="1.8"/><ellipse cx="201.8" cy="904.4" rx="1.7" ry="2.5"/><circle cx="205.2" cy="903.1" r="2.1"/><circle cx="210.5" cy="902.8" r="1.9"/><ellipse cx="212.1" cy="903.3" rx="2.4" ry="1.6"/><ellipse cx="215.9" cy="904.4" rx="1.6" ry="2.4"/><ellipse cx="220.5" cy="902.8" rx="1.5" ry="2.2"/><ellipse cx="223.5" cy="902.7" rx="1.5" ry="2.3"/><ellipse cx="226.7" cy="903.1" rx="2.2" ry="1.4"/><ellipse cx="234.0" cy="904.1" rx="2.4" ry="1.6"/><ellipse cx="240.2" cy="904.0" rx="1.4" ry="2.1"/><ellipse cx="246.8" cy="904.0" rx="2.6" ry="1.7"/><ellipse cx="257.0" cy="904.8" rx="1.6" ry="2.3"/><circle cx="261.6" cy="903.8" r="1.9"/><ellipse cx="265.1" cy="905.0" rx="1.7" ry="2.6"/><circle cx="267.7" cy="904.8" r="1.8"/><ellipse cx="272.6" cy="904.7" rx="2.5" ry="1.7"/><ellipse cx="275.0" cy="904.3" rx="2.2" ry="1.5"/><ellipse cx="278.5" cy="904.7" rx="1.8" ry="2.6"/><ellipse cx="187.9" cy="906.7" rx="1.5" ry="2.2"/><ellipse cx="193.6" cy="906.9" rx="1.5" ry="2.3"/><ellipse cx="197.7" cy="906.7" rx="1.7" ry="2.6"/><ellipse cx="199.0" cy="907.0" rx="2.6" ry="1.8"/><circle cx="205.0" cy="906.8" r="2.0"/><ellipse cx="207.3" cy="906.5" rx="2.6" ry="1.7"/><circle cx="211.8" cy="907.3" r="1.9"/><circle cx="215.3" cy="906.5" r="2.1"/><circle cx="219.9" cy="906.5" r="2.2"/><ellipse cx="223.3" cy="906.6" rx="2.3" ry="1.6"/><ellipse cx="226.5" cy="907.7" rx="1.6" ry="2.5"/><ellipse cx="229.8" cy="906.9" rx="2.2" ry="1.5"/><circle cx="241.1" cy="907.9" r="1.9"/><ellipse cx="251.1" cy="906.9" rx="1.5" ry="2.2"/><circle cx="262.1" cy="906.9" r="1.8"/><circle cx="266.1" cy="907.1" r="2.0"/><ellipse cx="271.0" cy="908.0" rx="2.6" ry="1.7"/><ellipse cx="273.1" cy="908.0" rx="1.4" ry="2.1"/><ellipse cx="276.8" cy="907.0" rx="2.1" ry="1.4"/><ellipse cx="183.3" cy="910.4" rx="1.6" ry="2.4"/><circle cx="186.5" cy="910.5" r="2.2"/><circle cx="190.7" cy="909.9" r="1.9"/><ellipse cx="198.1" cy="909.5" rx="1.4" ry="2.2"/><circle cx="205.7" cy="910.5" r="2.1"/><circle cx="209.0" cy="910.3" r="2.1"/><ellipse cx="212.3" cy="910.7" rx="1.8" ry="2.6"/><circle cx="225.1" cy="909.4" r="2.2"/><circle cx="226.7" cy="909.8" r="1.9"/><ellipse cx="231.5" cy="911.1" rx="1.6" ry="2.4"/><circle cx="243.8" cy="911.5" r="1.8"/><circle cx="250.0" cy="911.5" r="2.0"/><ellipse cx="255.0" cy="911.2" rx="1.5" ry="2.3"/><ellipse cx="261.1" cy="911.1" rx="1.6" ry="2.4"/><ellipse cx="263.7" cy="909.7" rx="1.6" ry="2.4"/><ellipse cx="271.5" cy="911.0" rx="2.2" ry="1.4"/><circle cx="275.7" cy="911.1" r="1.8"/><ellipse cx="279.6" cy="909.4" rx="1.6" ry="2.3"/><ellipse cx="186.1" cy="913.2" rx="1.5" ry="2.2"/><ellipse cx="188.7" cy="914.0" rx="2.2" ry="1.5"/><circle cx="191.5" cy="914.5" r="1.9"/><circle cx="196.1" cy="913.0" r="1.9"/><ellipse cx="199.0" cy="912.3" rx="2.2" ry="1.5"/><circle cx="202.9" cy="912.5" r="2.0"/><ellipse cx="208.1" cy="913.5" rx="2.6" ry="1.7"/><ellipse cx="210.3" cy="913.4" rx="1.5" ry="2.3"/><ellipse cx="214.7" cy="913.4" rx="1.6" ry="2.3"/><circle cx="225.4" cy="913.7" r="1.8"/><ellipse cx="238.0" cy="914.3" rx="2.6" ry="1.7"/><circle cx="243.8" cy="913.5" r="2.1"/><ellipse cx="256.7" cy="912.2" rx="2.3" ry="1.5"/><circle cx="260.0" cy="912.7" r="1.8"/><circle cx="262.3" cy="914.6" r="1.9"/><ellipse cx="266.6" cy="912.8" rx="2.3" ry="1.6"/><ellipse cx="271.7" cy="913.2" rx="1.4" ry="2.1"/><ellipse cx="277.3" cy="912.6" rx="1.7" ry="2.6"/><circle cx="281.7" cy="914.1" r="2.0"/><circle cx="183.8" cy="917.4" r="2.1"/><circle cx="188.0" cy="917.2" r="2.0"/><ellipse cx="190.6" cy="917.2" rx="1.8" ry="2.6"/><ellipse cx="195.9" cy="916.4" rx="1.7" ry="2.5"/><ellipse cx="197.3" cy="917.6" rx="2.3" ry="1.5"/><circle cx="201.0" cy="917.1" r="1.9"/><circle cx="208.5" cy="916.5" r="1.8"/><ellipse cx="212.1" cy="915.4" rx="2.3" ry="1.5"/><circle cx="220.3" cy="917.5" r="1.9"/><ellipse cx="228.6" cy="916.4" rx="2.5" ry="1.7"/><circle cx="232.8" cy="917.7" r="2.2"/><circle cx="234.8" cy="916.1" r="1.9"/><circle cx="244.0" cy="915.5" r="1.8"/><ellipse cx="251.4" cy="915.5" rx="1.5" ry="2.2"/><ellipse cx="261.9" cy="916.8" rx="2.2" ry="1.5"/><ellipse cx="269.2" cy="915.4" rx="2.6" ry="1.8"/><ellipse cx="272.7" cy="916.9" rx="2.5" ry="1.6"/><ellipse cx="275.8" cy="917.8" rx="1.6" ry="2.4"/><circle cx="279.2" cy="915.7" r="1.8"/><ellipse cx="185.3" cy="918.6" rx="2.4" ry="1.6"/><ellipse cx="190.3" cy="919.3" rx="1.7" ry="2.6"/><circle cx="193.5" cy="919.3" r="1.8"/><ellipse cx="196.6" cy="918.7" rx="2.6" ry="1.8"/><ellipse cx="199.2" cy="920.8" rx="2.6" ry="1.7"/><circle cx="203.2" cy="920.7" r="2.2"/><ellipse cx="210.6" cy="919.2" rx="2.1" ry="1.4"/><circle cx="222.0" cy="921.0" r="1.8"/><ellipse cx="226.7" cy="921.2" rx="1.5" ry="2.2"/><ellipse cx="230.6" cy="919.0" rx="2.4" ry="1.6"/><circle cx="240.3" cy="919.4" r="2.1"/><ellipse cx="245.6" cy="920.6" rx="1.6" ry="2.3"/><circle cx="249.0" cy="920.1" r="2.0"/><ellipse cx="251.9" cy="920.9" rx="2.6" ry="1.7"/><circle cx="262.7" cy="921.1" r="1.8"/><ellipse cx="265.5" cy="918.9" rx="2.4" ry="1.6"/><circle cx="269.3" cy="918.9" r="2.0"/><ellipse cx="277.8" cy="919.1" rx="2.4" ry="1.6"/><circle cx="282.6" cy="918.8" r="1.9"/><ellipse cx="182.3" cy="922.7" rx="1.8" ry="2.6"/><ellipse cx="188.2" cy="922.3" rx="1.6" ry="2.4"/><ellipse cx="189.7" cy="923.0" rx="1.7" ry="2.5"/><ellipse cx="195.3" cy="923.9" rx="1.7" ry="2.5"/><circle cx="197.8" cy="921.9" r="2.2"/><ellipse cx="202.2" cy="922.6" rx="1.6" ry="2.4"/><circle cx="206.5" cy="922.3" r="1.8"/><circle cx="214.2" cy="923.9" r="1.8"/><ellipse cx="215.5" cy="923.1" rx="1.4" ry="2.1"/><ellipse cx="219.2" cy="924.3" rx="1.5" ry="2.2"/><ellipse cx="230.5" cy="923.3" rx="1.7" ry="2.5"/><circle cx="235.7" cy="923.9" r="1.9"/><ellipse cx="238.8" cy="923.7" rx="1.5" ry="2.3"/><ellipse cx="250.6" cy="922.5" rx="2.5" ry="1.7"/><ellipse cx="261.4" cy="923.1" rx="1.4" ry="2.1"/><ellipse cx="264.9" cy="922.8" rx="2.2" ry="1.5"/><ellipse cx="268.5" cy="923.5" rx="2.2" ry="1.5"/><ellipse cx="277.0" cy="923.4" rx="2.6" ry="1.7"/><circle cx="280.5" cy="922.2" r="1.8"/><ellipse cx="185.4" cy="926.3" rx="2.4" ry="1.6"/><ellipse cx="187.8" cy="927.4" rx="2.1" ry="1.4"/><circle cx="193.8" cy="925.2" r="2.0"/><circle cx="195.8" cy="925.3" r="2.0"/><circle cx="200.7" cy="927.2" r="1.9"/><circle cx="203.9" cy="926.0" r="1.9"/><ellipse cx="208.2" cy="925.7" rx="2.5" ry="1.7"/><circle cx="210.3" cy="926.1" r="2.0"/><ellipse cx="214.1" cy="927.1" rx="1.6" ry="2.3"/><ellipse cx="217.7" cy="925.7" rx="2.5" ry="1.7"/><ellipse cx="221.1" cy="925.9" rx="2.2" ry="1.4"/><ellipse cx="227.1" cy="925.9" rx="2.4" ry="1.6"/><ellipse cx="230.6" cy="925.5" rx="2.2" ry="1.5"/><ellipse cx="232.9" cy="925.6" rx="2.4" ry="1.6"/><ellipse cx="237.5" cy="925.5" rx="1.5" ry="2.2"/><circle cx="240.3" cy="925.8" r="2.0"/><ellipse cx="245.0" cy="926.0" rx="1.6" ry="2.4"/><ellipse cx="247.6" cy="927.2" rx="1.6" ry="2.4"/><ellipse cx="250.7" cy="925.8" rx="1.5" ry="2.2"/><ellipse cx="254.6" cy="926.1" rx="1.7" ry="2.5"/><ellipse cx="260.1" cy="926.4" rx="2.6" ry="1.7"/><circle cx="264.2" cy="925.8" r="2.1"/><ellipse cx="266.6" cy="926.9" rx="2.1" ry="1.4"/><ellipse cx="271.3" cy="926.1" rx="1.5" ry="2.2"/><ellipse cx="273.0" cy="927.0" rx="1.6" ry="2.4"/><ellipse cx="278.6" cy="927.0" rx="1.5" ry="2.2"/><ellipse cx="281.7" cy="925.8" rx="1.5" ry="2.3"/><circle cx="184.2" cy="929.4" r="2.1"/><ellipse cx="186.4" cy="929.6" rx="2.5" ry="1.7"/><ellipse cx="190.7" cy="930.5" rx="1.4" ry="2.2"/><ellipse cx="193.3" cy="930.6" rx="1.4" ry="2.1"/><ellipse cx="197.7" cy="929.1" rx="2.1" ry="1.4"/><ellipse cx="203.1" cy="929.5" rx="1.4" ry="2.1"/><circle cx="206.1" cy="930.5" r="1.8"/><ellipse cx="214.1" cy="929.2" rx="2.4" ry="1.6"/><circle cx="216.0" cy="929.3" r="2.2"/><ellipse cx="221.4" cy="929.6" rx="1.5" ry="2.3"/><circle cx="224.0" cy="928.6" r="1.8"/><circle cx="227.3" cy="930.7" r="2.1"/><ellipse cx="231.1" cy="930.3" rx="2.6" ry="1.7"/><ellipse cx="236.3" cy="928.7" rx="2.4" ry="1.6"/><circle cx="240.1" cy="930.7" r="2.2"/><circle cx="242.3" cy="930.8" r="2.2"/><ellipse cx="248.9" cy="928.7" rx="2.2" ry="1.5"/><ellipse cx="253.1" cy="928.5" rx="1.5" ry="2.2"/><circle cx="262.3" cy="930.5" r="1.8"/><ellipse cx="263.6" cy="929.2" rx="2.5" ry="1.7"/><circle cx="267.5" cy="929.3" r="2.0"/><ellipse cx="272.1" cy="930.1" rx="1.5" ry="2.3"/><ellipse cx="276.9" cy="929.0" rx="1.5" ry="2.2"/><ellipse cx="280.3" cy="928.6" rx="2.3" ry="1.6"/><ellipse cx="184.9" cy="931.6" rx="1.6" ry="2.4"/><ellipse cx="187.8" cy="933.5" rx="1.5" ry="2.2"/><ellipse cx="191.5" cy="932.0" rx="1.5" ry="2.3"/><circle cx="195.2" cy="932.8" r="1.8"/><ellipse cx="199.1" cy="931.8" rx="1.8" ry="2.6"/><ellipse cx="203.2" cy="932.1" rx="1.5" ry="2.2"/><circle cx="207.5" cy="933.1" r="1.8"/><ellipse cx="210.4" cy="932.5" rx="2.1" ry="1.4"/><ellipse cx="218.5" cy="931.6" rx="2.4" ry="1.6"/><ellipse cx="222.5" cy="933.6" rx="1.5" ry="2.3"/><ellipse cx="224.9" cy="933.2" rx="1.5" ry="2.3"/><ellipse cx="230.5" cy="932.5" rx="2.2" ry="1.5"/><circle cx="233.6" cy="933.9" r="2.0"/><ellipse cx="236.3" cy="933.9" rx="2.2" ry="1.5"/><ellipse cx="239.7" cy="933.9" rx="2.6" ry="1.7"/><ellipse cx="245.0" cy="931.5" rx="2.6" ry="1.7"/><ellipse cx="248.7" cy="932.0" rx="1.5" ry="2.3"/><circle cx="256.1" cy="931.8" r="1.9"/><ellipse cx="262.2" cy="932.1" rx="2.4" ry="1.6"/><ellipse cx="269.6" cy="932.1" rx="2.3" ry="1.6"/><circle cx="273.8" cy="932.9" r="2.0"/><ellipse cx="277.9" cy="932.8" rx="2.2" ry="1.5"/><circle cx="183.4" cy="935.6" r="1.8"/><ellipse cx="187.3" cy="936.3" rx="1.7" ry="2.5"/><circle cx="190.5" cy="936.9" r="1.9"/><ellipse cx="194.6" cy="936.4" rx="1.6" ry="2.5"/><circle cx="197.1" cy="935.6" r="2.1"/><ellipse cx="202.4" cy="935.5" rx="1.6" ry="2.4"/><circle cx="206.5" cy="936.1" r="1.9"/><circle cx="208.4" cy="937.2" r="2.0"/><ellipse cx="214.3" cy="936.0" rx="1.5" ry="2.2"/><ellipse cx="215.6" cy="935.7" rx="2.6" ry="1.7"/><ellipse cx="220.6" cy="935.8" rx="1.4" ry="2.1"/><ellipse cx="225.3" cy="935.9" rx="2.4" ry="1.6"/><ellipse cx="228.7" cy="936.7" rx="1.5" ry="2.2"/><circle cx="230.7" cy="936.6" r="1.9"/><ellipse cx="234.4" cy="936.2" rx="2.1" ry="1.4"/><ellipse cx="238.0" cy="937.1" rx="2.2" ry="1.5"/><ellipse cx="242.5" cy="935.0" rx="1.7" ry="2.6"/><circle cx="247.6" cy="936.3" r="1.8"/><ellipse cx="249.2" cy="936.6" rx="2.2" ry="1.5"/><ellipse cx="254.7" cy="936.4" rx="1.7" ry="2.6"/><ellipse cx="256.3" cy="936.2" rx="2.4" ry="1.6"/><ellipse cx="262.0" cy="936.7" rx="2.6" ry="1.7"/><ellipse cx="265.6" cy="935.2" rx="1.6" ry="2.3"/><circle cx="269.8" cy="936.5" r="1.9"/><circle cx="273.1" cy="936.3" r="1.9"/><ellipse cx="275.6" cy="935.4" rx="2.3" ry="1.5"/><circle cx="280.6" cy="934.8" r="2.0"/><circle cx="185.8" cy="939.8" r="2.1"/><ellipse cx="188.9" cy="940.0" rx="2.4" ry="1.6"/><ellipse cx="193.4" cy="938.5" rx="1.6" ry="2.4"/><ellipse cx="197.4" cy="940.0" rx="1.5" ry="2.3"/><circle cx="199.9" cy="938.7" r="2.2"/><ellipse cx="204.8" cy="939.6" rx="1.6" ry="2.4"/><ellipse cx="206.3" cy="939.2" rx="1.5" ry="2.3"/><ellipse cx="210.3" cy="939.0" rx="1.6" ry="2.5"/><ellipse cx="214.1" cy="940.2" rx="2.6" ry="1.7"/><ellipse cx="219.3" cy="938.7" rx="1.5" ry="2.3"/><ellipse cx="221.7" cy="939.8" rx="1.7" ry="2.6"/><ellipse cx="230.7" cy="939.6" rx="2.1" ry="1.4"/><ellipse cx="234.6" cy="938.4" rx="1.5" ry="2.3"/><ellipse cx="238.1" cy="940.3" rx="2.4" ry="1.6"/><ellipse cx="240.9" cy="939.1" rx="1.4" ry="2.2"/><circle cx="244.5" cy="939.9" r="1.8"/><ellipse cx="249.1" cy="937.9" rx="2.2" ry="1.5"/><ellipse cx="252.4" cy="940.1" rx="1.5" ry="2.3"/><ellipse cx="256.0" cy="940.0" rx="1.4" ry="2.1"/><ellipse cx="259.4" cy="939.3" rx="2.6" ry="1.7"/><ellipse cx="263.1" cy="939.3" rx="1.4" ry="2.2"/><ellipse cx="266.0" cy="938.2" rx="2.5" ry="1.7"/><circle cx="271.0" cy="939.4" r="2.1"/><ellipse cx="273.6" cy="938.6" rx="1.4" ry="2.1"/><ellipse cx="277.4" cy="939.5" rx="2.4" ry="1.6"/><circle cx="280.3" cy="938.1" r="2.1"/><circle cx="183.5" cy="941.1" r="2.2"/><ellipse cx="187.2" cy="942.2" rx="2.2" ry="1.4"/><circle cx="190.6" cy="942.6" r="1.9"/><circle cx="195.2" cy="943.5" r="1.9"/><ellipse cx="199.5" cy="943.6" rx="2.5" ry="1.7"/><circle cx="203.2" cy="942.9" r="1.9"/><ellipse cx="206.6" cy="943.1" rx="1.6" ry="2.3"/><circle cx="209.0" cy="942.5" r="2.0"/><circle cx="214.2" cy="943.4" r="2.2"/><ellipse cx="218.1" cy="942.8" rx="1.7" ry="2.6"/><ellipse cx="221.1" cy="941.8" rx="2.6" ry="1.7"/><ellipse cx="224.4" cy="942.1" rx="1.5" ry="2.2"/><circle cx="228.2" cy="943.2" r="2.0"/><ellipse cx="230.4" cy="941.8" rx="2.2" ry="1.5"/><ellipse cx="235.1" cy="941.2" rx="2.3" ry="1.6"/><circle cx="238.0" cy="941.6" r="2.0"/><ellipse cx="243.8" cy="941.7" rx="1.6" ry="2.5"/><ellipse cx="246.7" cy="942.3" rx="1.5" ry="2.2"/><ellipse cx="249.0" cy="942.5" rx="2.5" ry="1.7"/><ellipse cx="253.9" cy="942.9" rx="1.8" ry="2.6"/><ellipse cx="256.7" cy="942.8" rx="1.5" ry="2.2"/><ellipse cx="262.1" cy="941.7" rx="2.6" ry="1.7"/><ellipse cx="264.8" cy="942.7" rx="1.6" ry="2.4"/><ellipse cx="268.1" cy="941.9" rx="1.6" ry="2.5"/><circle cx="272.6" cy="942.4" r="2.1"/><ellipse cx="275.1" cy="941.6" rx="1.5" ry="2.3"/><ellipse cx="279.0" cy="941.7" rx="1.4" ry="2.1"/><ellipse cx="185.7" cy="944.9" rx="1.6" ry="2.4"/><ellipse cx="189.4" cy="945.8" rx="1.6" ry="2.4"/><ellipse cx="193.7" cy="945.1" rx="1.5" ry="2.2"/><ellipse cx="196.9" cy="946.8" rx="2.2" ry="1.5"/><ellipse cx="200.6" cy="945.7" rx="2.2" ry="1.5"/><circle cx="204.8" cy="945.3" r="2.1"/><circle cx="208.2" cy="945.9" r="2.1"/><ellipse cx="212.4" cy="945.6" rx="1.5" ry="2.3"/><ellipse cx="214.0" cy="944.4" rx="1.6" ry="2.5"/><ellipse cx="217.6" cy="946.1" rx="1.5" ry="2.3"/><ellipse cx="221.5" cy="945.2" rx="2.5" ry="1.7"/><ellipse cx="225.2" cy="946.6" rx="2.6" ry="1.7"/><circle cx="230.4" cy="945.6" r="2.2"/><circle cx="234.3" cy="945.9" r="1.9"/><ellipse cx="236.1" cy="944.9" rx="2.3" ry="1.5"/><circle cx="240.7" cy="946.1" r="2.2"/><ellipse cx="244.4" cy="946.9" rx="2.1" ry="1.4"/><ellipse cx="248.5" cy="945.7" rx="2.6" ry="1.7"/><ellipse cx="252.3" cy="944.7" rx="1.7" ry="2.5"/><circle cx="255.2" cy="944.6" r="2.1"/><ellipse cx="259.8" cy="945.1" rx="2.6" ry="1.7"/><ellipse cx="263.5" cy="944.8" rx="2.5" ry="1.7"/><ellipse cx="267.9" cy="945.1" rx="2.2" ry="1.5"/><ellipse cx="271.1" cy="946.1" rx="2.4" ry="1.6"/><circle cx="273.2" cy="946.3" r="1.9"/><ellipse cx="276.6" cy="945.8" rx="2.5" ry="1.7"/><circle cx="282.1" cy="945.6" r="1.9"/><ellipse cx="182.7" cy="948.8" rx="1.7" ry="2.6"/><circle cx="187.8" cy="949.3" r="2.0"/><circle cx="190.0" cy="948.6" r="2.0"/><ellipse cx="194.6" cy="949.3" rx="1.7" ry="2.6"/><ellipse cx="199.4" cy="947.8" rx="1.7" ry="2.6"/><circle cx="200.7" cy="949.5" r="2.2"/><circle cx="205.7" cy="949.0" r="2.2"/><ellipse cx="209.4" cy="949.8" rx="1.4" ry="2.1"/><ellipse cx="212.2" cy="949.8" rx="2.3" ry="1.5"/><ellipse cx="215.9" cy="949.7" rx="1.7" ry="2.5"/><ellipse cx="220.2" cy="947.8" rx="2.4" ry="1.6"/><circle cx="224.9" cy="948.9" r="2.1"/><ellipse cx="228.5" cy="947.7" rx="2.3" ry="1.5"/><ellipse cx="231.4" cy="949.3" rx="2.5" ry="1.7"/><circle cx="235.5" cy="948.4" r="2.2"/><ellipse cx="240.3" cy="948.4" rx="2.5" ry="1.7"/><ellipse cx="241.7" cy="948.6" rx="2.3" ry="1.5"/><ellipse cx="246.5" cy="947.6" rx="1.7" ry="2.6"/><ellipse cx="249.9" cy="948.4" rx="2.1" ry="1.4"/><circle cx="254.6" cy="950.0" r="2.0"/><ellipse cx="257.7" cy="948.6" rx="1.6" ry="2.5"/><ellipse cx="260.1" cy="949.7" rx="1.7" ry="2.5"/><circle cx="264.2" cy="950.0" r="2.0"/><ellipse cx="269.0" cy="948.3" rx="2.6" ry="1.7"/><ellipse cx="272.9" cy="949.9" rx="1.5" ry="2.2"/><ellipse cx="275.3" cy="949.7" rx="1.7" ry="2.6"/><ellipse cx="280.4" cy="949.9" rx="1.7" ry="2.6"/><ellipse cx="186.2" cy="952.8" rx="2.5" ry="1.7"/><circle cx="190.2" cy="951.7" r="2.1"/><ellipse cx="191.9" cy="953.1" rx="1.5" ry="2.3"/><ellipse cx="196.4" cy="952.6" rx="1.7" ry="2.6"/><circle cx="199.1" cy="952.8" r="1.8"/><circle cx="204.7" cy="951.9" r="2.0"/><ellipse cx="206.5" cy="951.4" rx="1.6" ry="2.3"/><circle cx="211.9" cy="952.6" r="2.2"/><ellipse cx="215.1" cy="952.5" rx="2.5" ry="1.6"/><ellipse cx="217.9" cy="951.6" rx="2.3" ry="1.5"/><circle cx="222.9" cy="951.5" r="2.2"/><ellipse cx="225.8" cy="953.1" rx="2.5" ry="1.7"/><ellipse cx="230.0" cy="951.1" rx="1.5" ry="2.2"/><circle cx="234.7" cy="951.0" r="1.8"/><ellipse cx="237.5" cy="952.9" rx="1.5" ry="2.2"/><circle cx="240.2" cy="951.9" r="1.9"/><circle cx="244.0" cy="951.3" r="1.9"/><circle cx="247.0" cy="952.7" r="2.0"/><ellipse cx="252.5" cy="953.1" rx="1.5" ry="2.2"/><ellipse cx="255.3" cy="952.1" rx="1.4" ry="2.2"/><circle cx="258.7" cy="950.8" r="1.9"/><ellipse cx="263.3" cy="951.4" rx="1.6" ry="2.4"/><ellipse cx="265.9" cy="951.6" rx="2.4" ry="1.6"/><ellipse cx="269.3" cy="952.6" rx="2.6" ry="1.7"/><ellipse cx="273.8" cy="951.8" rx="2.4" ry="1.6"/><ellipse cx="277.3" cy="952.2" rx="1.6" ry="2.4"/><ellipse cx="282.3" cy="951.8" rx="2.5" ry="1.7"/><circle cx="184.2" cy="956.2" r="1.8"/><ellipse cx="187.6" cy="956.3" rx="2.5" ry="1.6"/><ellipse cx="190.6" cy="956.0" rx="1.7" ry="2.6"/><ellipse cx="194.9" cy="955.5" rx="1.6" ry="2.5"/><ellipse cx="199.5" cy="955.1" rx="2.4" ry="1.6"/><ellipse cx="200.9" cy="955.8" rx="1.6" ry="2.4"/><circle cx="204.6" cy="956.4" r="2.2"/><ellipse cx="209.9" cy="955.9" rx="1.4" ry="2.2"/><ellipse cx="214.0" cy="956.4" rx="2.4" ry="1.6"/><circle cx="218.0" cy="954.9" r="2.1"/><circle cx="221.0" cy="954.8" r="2.1"/><ellipse cx="224.0" cy="955.4" rx="2.6" ry="1.7"/><ellipse cx="227.6" cy="954.9" rx="1.7" ry="2.6"/><ellipse cx="232.5" cy="954.3" rx="2.2" ry="1.4"/><ellipse cx="236.0" cy="955.7" rx="2.2" ry="1.4"/><ellipse cx="240.0" cy="955.4" rx="2.2" ry="1.5"/><ellipse cx="242.8" cy="955.5" rx="1.6" ry="2.4"/><ellipse cx="246.0" cy="955.0" rx="2.3" ry="1.6"/><circle cx="249.9" cy="955.3" r="2.2"/><ellipse cx="253.5" cy="956.0" rx="2.1" ry="1.4"/><ellipse cx="258.0" cy="954.0" rx="1.5" ry="2.2"/><ellipse cx="262.4" cy="955.3" rx="1.6" ry="2.4"/><ellipse cx="264.2" cy="956.2" rx="1.7" ry="2.6"/><circle cx="268.4" cy="956.2" r="1.9"/><circle cx="271.4" cy="954.2" r="2.1"/><ellipse cx="277.3" cy="955.5" rx="2.4" ry="1.6"/><ellipse cx="279.1" cy="956.4" rx="1.7" ry="2.5"/><ellipse cx="185.8" cy="957.5" rx="2.2" ry="1.4"/><circle cx="189.9" cy="959.1" r="1.9"/><circle cx="192.1" cy="958.8" r="1.8"/><circle cx="197.0" cy="957.3" r="1.9"/><ellipse cx="199.1" cy="958.9" rx="1.6" ry="2.3"/><ellipse cx="203.1" cy="958.0" rx="1.7" ry="2.6"/><ellipse cx="207.5" cy="957.5" rx="1.6" ry="2.4"/><circle cx="211.8" cy="958.5" r="1.9"/><ellipse cx="215.3" cy="959.2" rx="2.1" ry="1.4"/><circle cx="218.9" cy="959.2" r="1.8"/><ellipse cx="223.3" cy="958.3" rx="1.4" ry="2.1"/><circle cx="225.7" cy="959.0" r="2.1"/><circle cx="228.9" cy="958.2" r="2.0"/><ellipse cx="232.3" cy="959.3" rx="1.5" ry="2.3"/><ellipse cx="238.3" cy="959.7" rx="1.5" ry="2.3"/><ellipse cx="241.5" cy="957.8" rx="1.7" ry="2.6"/><ellipse cx="245.3" cy="957.3" rx="2.6" ry="1.7"/><ellipse cx="247.9" cy="959.1" rx="2.3" ry="1.5"/><ellipse cx="251.7" cy="959.7" rx="2.3" ry="1.6"/><circle cx="256.6" cy="958.9" r="2.0"/><circle cx="258.7" cy="959.7" r="2.1"/><ellipse cx="262.4" cy="957.8" rx="2.5" ry="1.7"/><ellipse cx="268.0" cy="957.5" rx="2.4" ry="1.6"/><ellipse cx="269.9" cy="958.2" rx="2.1" ry="1.4"/><ellipse cx="275.2" cy="957.6" rx="1.6" ry="2.4"/><circle cx="277.1" cy="958.2" r="2.2"/><ellipse cx="282.4" cy="959.2" rx="2.4" ry="1.6"/><ellipse cx="182.4" cy="961.3" rx="1.6" ry="2.5"/><ellipse cx="186.1" cy="961.5" rx="1.6" ry="2.4"/><ellipse cx="189.7" cy="962.0" rx="1.5" ry="2.2"/><ellipse cx="194.1" cy="962.4" rx="1.6" ry="2.4"/><ellipse cx="198.4" cy="962.7" rx="2.2" ry="1.5"/><circle cx="202.3" cy="961.4" r="1.8"/><circle cx="206.6" cy="961.6" r="2.0"/><circle cx="208.3" cy="961.6" r="1.9"/><ellipse cx="213.0" cy="961.2" rx="1.7" ry="2.6"/><ellipse cx="215.8" cy="961.7" rx="2.3" ry="1.5"/><ellipse cx="219.3" cy="960.7" rx="1.5" ry="2.3"/><circle cx="222.9" cy="961.1" r="2.1"/><ellipse cx="226.9" cy="962.8" rx="1.6" ry="2.3"/><ellipse cx="232.8" cy="962.3" rx="1.5" ry="2.2"/><ellipse cx="234.0" cy="962.7" rx="2.5" ry="1.6"/><ellipse cx="238.3" cy="962.7" rx="1.8" ry="2.6"/><circle cx="241.9" cy="961.5" r="2.1"/><circle cx="246.3" cy="960.6" r="1.8"/><ellipse cx="249.8" cy="960.8" rx="1.5" ry="2.2"/><ellipse cx="252.7" cy="960.8" rx="1.7" ry="2.6"/><ellipse cx="256.5" cy="961.8" rx="2.4" ry="1.6"/><ellipse cx="262.4" cy="960.5" rx="1.4" ry="2.1"/><ellipse cx="266.0" cy="962.6" rx="2.3" ry="1.5"/><circle cx="268.6" cy="961.5" r="2.1"/><ellipse cx="271.7" cy="961.1" rx="2.3" ry="1.6"/><ellipse cx="275.8" cy="962.9" rx="1.5" ry="2.2"/><ellipse cx="279.9" cy="962.7" rx="2.3" ry="1.5"/><ellipse cx="185.6" cy="964.4" rx="2.2" ry="1.5"/><ellipse cx="189.5" cy="966.1" rx="1.6" ry="2.3"/><ellipse cx="193.1" cy="964.3" rx="2.6" ry="1.7"/><circle cx="196.6" cy="964.3" r="2.1"/><ellipse cx="200.2" cy="963.9" rx="1.5" ry="2.3"/><ellipse cx="205.1" cy="964.3" rx="2.2" ry="1.5"/><ellipse cx="206.3" cy="964.7" rx="2.4" ry="1.6"/><circle cx="210.9" cy="964.6" r="2.0"/><ellipse cx="214.2" cy="964.9" rx="2.4" ry="1.6"/><ellipse cx="218.9" cy="964.2" rx="2.5" ry="1.7"/><circle cx="222.1" cy="965.5" r="1.9"/><circle cx="225.7" cy="965.4" r="2.1"/><circle cx="230.0" cy="965.1" r="2.0"/><circle cx="233.7" cy="965.7" r="1.8"/><ellipse cx="237.2" cy="966.0" rx="2.6" ry="1.7"/><ellipse cx="241.4" cy="966.1" rx="2.2" ry="1.5"/><ellipse cx="243.8" cy="965.8" rx="2.2" ry="1.5"/><ellipse cx="248.8" cy="965.6" rx="1.7" ry="2.6"/><circle cx="252.1" cy="965.4" r="1.8"/><ellipse cx="256.4" cy="964.5" rx="1.5" ry="2.3"/><ellipse cx="259.0" cy="963.7" rx="1.6" ry="2.5"/><ellipse cx="263.4" cy="963.8" rx="1.6" ry="2.4"/><ellipse cx="267.7" cy="965.1" rx="2.5" ry="1.7"/><ellipse cx="269.2" cy="963.7" rx="1.7" ry="2.6"/><ellipse cx="273.6" cy="964.0" rx="1.6" ry="2.3"/><ellipse cx="277.5" cy="965.3" rx="2.2" ry="1.4"/><circle cx="281.3" cy="964.4" r="1.8"/><ellipse cx="183.2" cy="968.7" rx="1.5" ry="2.2"/><ellipse cx="187.4" cy="967.8" rx="2.1" ry="1.4"/><ellipse cx="189.8" cy="968.9" rx="1.5" ry="2.3"/><ellipse cx="194.1" cy="968.1" rx="2.2" ry="1.5"/><ellipse cx="198.5" cy="968.8" rx="1.5" ry="2.3"/><ellipse cx="200.9" cy="968.0" rx="2.3" ry="1.5"/><ellipse cx="205.2" cy="967.3" rx="1.5" ry="2.3"/><circle cx="210.5" cy="969.1" r="1.9"/><ellipse cx="212.7" cy="967.5" rx="1.4" ry="2.1"/><ellipse cx="217.4" cy="967.5" rx="2.3" ry="1.6"/><ellipse cx="220.9" cy="969.0" rx="2.5" ry="1.7"/><ellipse cx="223.0" cy="968.0" rx="1.5" ry="2.3"/><circle cx="226.8" cy="968.7" r="1.8"/><circle cx="230.5" cy="969.1" r="2.1"/><ellipse cx="234.4" cy="969.2" rx="2.2" ry="1.5"/><ellipse cx="239.0" cy="968.3" rx="2.5" ry="1.7"/><circle cx="242.9" cy="967.2" r="2.1"/><ellipse cx="245.8" cy="967.1" rx="2.2" ry="1.4"/><ellipse cx="249.8" cy="967.1" rx="2.2" ry="1.5"/><ellipse cx="252.8" cy="967.8" rx="1.6" ry="2.4"/><ellipse cx="258.6" cy="968.5" rx="2.2" ry="1.4"/><ellipse cx="262.0" cy="966.9" rx="1.6" ry="2.5"/><ellipse cx="264.2" cy="967.3" rx="2.2" ry="1.5"/><circle cx="268.1" cy="967.3" r="2.1"/><ellipse cx="271.2" cy="967.9" rx="1.6" ry="2.4"/><ellipse cx="277.1" cy="968.6" rx="2.2" ry="1.5"/><ellipse cx="279.2" cy="968.3" rx="1.7" ry="2.6"/></g><ellipse cx="273" cy="960.4" rx="17" ry="14" fill="#3418b0" opacity="0.8" filter="url(#bl2)"/></svg>
<text x="337.50" y="917.05" font-size="8.20" font-weight="bold" text-anchor="end" fill="#000" stroke="#000" stroke-width="0.22">0</text>
<text x="337.50" y="894.83" font-size="8.20" font-weight="bold" text-anchor="end" fill="#000" stroke="#000" stroke-width="0.22">50</text>
<text x="337.50" y="872.61" font-size="8.20" font-weight="bold" text-anchor="end" fill="#000" stroke="#000" stroke-width="0.22">100</text>
<text x="337.50" y="850.39" font-size="8.20" font-weight="bold" text-anchor="end" fill="#000" stroke="#000" stroke-width="0.22">150</text>
<text x="337.50" y="828.17" font-size="8.20" font-weight="bold" text-anchor="end" fill="#000" stroke="#000" stroke-width="0.22">200</text>
<text x="337.50" y="805.95" font-size="8.20" font-weight="bold" text-anchor="end" fill="#000" stroke="#000" stroke-width="0.22">250</text>
<line x1="360.10" y1="847.44" x2="360.10" y2="840.77" stroke="#000" stroke-width="1.0"/>
<line x1="356.60" y1="840.77" x2="363.60" y2="840.77" stroke="#000" stroke-width="1.0"/>
<rect x="353.20" y="847.44" width="13.80" height="66.66" fill="#000096" stroke="#000" stroke-width="1.0"/>
<line x1="382.50" y1="902.99" x2="382.50" y2="899.88" stroke="#000" stroke-width="1.0"/>
<line x1="379.00" y1="899.88" x2="386.00" y2="899.88" stroke="#000" stroke-width="1.0"/>
<rect x="375.60" y="902.99" width="13.80" height="11.11" fill="#a80000" stroke="#000" stroke-width="1.0"/>
<text x="382.50" y="900.98" font-size="9.00" font-weight="bold" text-anchor="middle" fill="#000" stroke="#000" stroke-width="0.22">**</text>
<line x1="419.50" y1="828.78" x2="419.50" y2="823.89" stroke="#000" stroke-width="1.0"/>
<line x1="416.00" y1="823.89" x2="423.00" y2="823.89" stroke="#000" stroke-width="1.0"/>
<rect x="412.60" y="828.78" width="13.80" height="85.32" fill="#000096" stroke="#000" stroke-width="1.0"/>
<line x1="441.55" y1="826.11" x2="441.55" y2="822.55" stroke="#000" stroke-width="1.0"/>
<line x1="438.05" y1="822.55" x2="445.05" y2="822.55" stroke="#000" stroke-width="1.0"/>
<rect x="434.40" y="826.11" width="14.30" height="87.99" fill="#a80000" stroke="#000" stroke-width="1.0"/>
<rect x="351.00" y="799.80" width="12.10" height="3.10" fill="#000096" stroke="#000" stroke-width="0.8"/>
<rect x="351.00" y="808.00" width="12.10" height="3.10" fill="#a80000" stroke="#000" stroke-width="0.8"/>
<text x="369.30" y="804.20" font-size="7.80" font-weight="normal" text-anchor="start" fill="#222" stroke="#222" stroke-width="0.22">pLKO.1-Vector</text>
<text x="369.30" y="812.20" font-size="7.80" font-weight="normal" text-anchor="start" fill="#222" stroke="#222" stroke-width="0.22">pLKO.1-hsa_circ_0006215</text>
<text x="317.80" y="858.30" font-size="9.17" font-weight="bold" text-anchor="middle" fill="#000" stroke="#000" stroke-width="0.22" transform="rotate(-90 317.80 858.30)">Number of cells per field</text>
<text x="374.00" y="926.00" font-size="8.40" font-weight="bold" text-anchor="end" fill="#000" stroke="#000" stroke-width="0.22" transform="rotate(-45 374.00 926.00)">miRNA mimic NC</text>
<text x="432.50" y="926.00" font-size="8.40" font-weight="bold" text-anchor="end" fill="#000" stroke="#000" stroke-width="0.22" transform="rotate(-45 432.50 926.00)">miRNA-942-5p inhibitors</text>
<line x1="45.5" y1="35.20" x2="45.5" y2="150.00" stroke="#000" stroke-width="1.3"/>
<line x1="42.50" y1="149.40" x2="45.5" y2="149.40" stroke="#000" stroke-width="1.3"/>
<line x1="42.50" y1="121.00" x2="45.5" y2="121.00" stroke="#000" stroke-width="1.3"/>
<line x1="42.50" y1="92.60" x2="45.5" y2="92.60" stroke="#000" stroke-width="1.3"/>
<line x1="42.50" y1="64.20" x2="45.5" y2="64.20" stroke="#000" stroke-width="1.3"/>
<line x1="42.50" y1="35.80" x2="45.5" y2="35.80" stroke="#000" stroke-width="1.3"/>
<line x1="44.90" y1="149.5" x2="217.50" y2="149.5" stroke="#000" stroke-width="1.3"/>
<line x1="54.90" y1="149.5" x2="54.90" y2="152.50" stroke="#000" stroke-width="1.3"/>
<line x1="73.82" y1="149.5" x2="73.82" y2="152.50" stroke="#000" stroke-width="1.3"/>
<line x1="92.74" y1="149.5" x2="92.74" y2="152.50" stroke="#000" stroke-width="1.3"/>
<line x1="111.66" y1="149.5" x2="111.66" y2="152.50" stroke="#000" stroke-width="1.3"/>
<line x1="130.58" y1="149.5" x2="130.58" y2="152.50" stroke="#000" stroke-width="1.3"/>
<line x1="149.50" y1="149.5" x2="149.50" y2="152.50" stroke="#000" stroke-width="1.3"/>
<line x1="168.42" y1="149.5" x2="168.42" y2="152.50" stroke="#000" stroke-width="1.3"/>
<line x1="187.34" y1="149.5" x2="187.34" y2="152.50" stroke="#000" stroke-width="1.3"/>
<line x1="206.26" y1="149.5" x2="206.26" y2="152.50" stroke="#000" stroke-width="1.3"/>
<line x1="256.5" y1="39.00" x2="256.5" y2="151.30" stroke="#000" stroke-width="1.3"/>
<line x1="253.50" y1="150.70" x2="256.5" y2="150.70" stroke="#000" stroke-width="1.3"/>
<line x1="253.50" y1="113.67" x2="256.5" y2="113.67" stroke="#000" stroke-width="1.3"/>
<line x1="253.50" y1="76.63" x2="256.5" y2="76.63" stroke="#000" stroke-width="1.3"/>
<line x1="253.50" y1="39.60" x2="256.5" y2="39.60" stroke="#000" stroke-width="1.3"/>
<line x1="255.90" y1="150.5" x2="375.00" y2="150.5" stroke="#000" stroke-width="1.3"/>
<line x1="285.90" y1="150.5" x2="285.90" y2="153.50" stroke="#000" stroke-width="1.3"/>
<line x1="344.60" y1="150.5" x2="344.60" y2="153.50" stroke="#000" stroke-width="1.3"/>
<line x1="425.5" y1="42.30" x2="425.5" y2="95.20" stroke="#000" stroke-width="1.3"/>
<line x1="422.80" y1="42.90" x2="425.5" y2="42.90" stroke="#000" stroke-width="1.3"/>
<line x1="422.80" y1="55.83" x2="425.5" y2="55.83" stroke="#000" stroke-width="1.3"/>
<line x1="422.80" y1="68.75" x2="425.5" y2="68.75" stroke="#000" stroke-width="1.3"/>
<line x1="422.80" y1="81.67" x2="425.5" y2="81.67" stroke="#000" stroke-width="1.3"/>
<line x1="422.80" y1="94.60" x2="425.5" y2="94.60" stroke="#000" stroke-width="1.3"/>
<line x1="425.5" y1="102.10" x2="425.5" y2="154.60" stroke="#000" stroke-width="1.3"/>
<line x1="422.80" y1="154.00" x2="425.5" y2="154.00" stroke="#000" stroke-width="1.3"/>
<line x1="422.80" y1="141.18" x2="425.5" y2="141.18" stroke="#000" stroke-width="1.3"/>
<line x1="422.80" y1="128.35" x2="425.5" y2="128.35" stroke="#000" stroke-width="1.3"/>
<line x1="422.80" y1="115.53" x2="425.5" y2="115.53" stroke="#000" stroke-width="1.3"/>
<line x1="422.80" y1="102.70" x2="425.5" y2="102.70" stroke="#000" stroke-width="1.3"/>
<line x1="425.5" y1="94.60" x2="428.20" y2="94.60" stroke="#000" stroke-width="1.3"/>
<line x1="425.5" y1="102.70" x2="428.20" y2="102.70" stroke="#000" stroke-width="1.3"/>
<line x1="424.90" y1="154.5" x2="586.70" y2="154.5" stroke="#000" stroke-width="1.3"/>
<line x1="452.50" y1="154.5" x2="452.50" y2="157.50" stroke="#000" stroke-width="1.3"/>
<line x1="508.00" y1="154.5" x2="508.00" y2="157.50" stroke="#000" stroke-width="1.3"/>
<line x1="563.60" y1="154.5" x2="563.60" y2="157.50" stroke="#000" stroke-width="1.3"/>
<line x1="645.5" y1="42.30" x2="645.5" y2="95.20" stroke="#000" stroke-width="1.3"/>
<line x1="642.80" y1="42.90" x2="645.5" y2="42.90" stroke="#000" stroke-width="1.3"/>
<line x1="642.80" y1="55.83" x2="645.5" y2="55.83" stroke="#000" stroke-width="1.3"/>
<line x1="642.80" y1="68.75" x2="645.5" y2="68.75" stroke="#000" stroke-width="1.3"/>
<line x1="642.80" y1="81.67" x2="645.5" y2="81.67" stroke="#000" stroke-width="1.3"/>
<line x1="642.80" y1="94.60" x2="645.5" y2="94.60" stroke="#000" stroke-width="1.3"/>
<line x1="645.5" y1="102.10" x2="645.5" y2="154.60" stroke="#000" stroke-width="1.3"/>
<line x1="642.80" y1="154.00" x2="645.5" y2="154.00" stroke="#000" stroke-width="1.3"/>
<line x1="642.80" y1="141.18" x2="645.5" y2="141.18" stroke="#000" stroke-width="1.3"/>
<line x1="642.80" y1="128.35" x2="645.5" y2="128.35" stroke="#000" stroke-width="1.3"/>
<line x1="642.80" y1="115.53" x2="645.5" y2="115.53" stroke="#000" stroke-width="1.3"/>
<line x1="642.80" y1="102.70" x2="645.5" y2="102.70" stroke="#000" stroke-width="1.3"/>
<line x1="645.5" y1="94.60" x2="648.20" y2="94.60" stroke="#000" stroke-width="1.3"/>
<line x1="645.5" y1="102.70" x2="648.20" y2="102.70" stroke="#000" stroke-width="1.3"/>
<line x1="644.90" y1="154.5" x2="811.90" y2="154.5" stroke="#000" stroke-width="1.3"/>
<line x1="672.80" y1="154.5" x2="672.80" y2="157.50" stroke="#000" stroke-width="1.3"/>
<line x1="728.50" y1="154.5" x2="728.50" y2="157.50" stroke="#000" stroke-width="1.3"/>
<line x1="784.00" y1="154.5" x2="784.00" y2="157.50" stroke="#000" stroke-width="1.3"/>
<line x1="848.5" y1="39.00" x2="848.5" y2="151.20" stroke="#000" stroke-width="1.3"/>
<line x1="845.50" y1="150.60" x2="848.5" y2="150.60" stroke="#000" stroke-width="1.3"/>
<line x1="845.50" y1="128.40" x2="848.5" y2="128.40" stroke="#000" stroke-width="1.3"/>
<line x1="845.50" y1="106.20" x2="848.5" y2="106.20" stroke="#000" stroke-width="1.3"/>
<line x1="845.50" y1="84.00" x2="848.5" y2="84.00" stroke="#000" stroke-width="1.3"/>
<line x1="845.50" y1="61.80" x2="848.5" y2="61.80" stroke="#000" stroke-width="1.3"/>
<line x1="845.50" y1="39.60" x2="848.5" y2="39.60" stroke="#000" stroke-width="1.3"/>
<line x1="847.90" y1="150.5" x2="1015.50" y2="150.5" stroke="#000" stroke-width="1.3"/>
<line x1="876.40" y1="150.5" x2="876.40" y2="153.50" stroke="#000" stroke-width="1.3"/>
<line x1="931.60" y1="150.5" x2="931.60" y2="153.50" stroke="#000" stroke-width="1.3"/>
<line x1="986.80" y1="150.5" x2="986.80" y2="153.50" stroke="#000" stroke-width="1.3"/>
<line x1="244.5" y1="292.90" x2="244.5" y2="404.80" stroke="#000" stroke-width="1.3"/>
<line x1="242.00" y1="404.20" x2="244.5" y2="404.20" stroke="#000" stroke-width="1.3"/>
<line x1="242.00" y1="376.52" x2="244.5" y2="376.52" stroke="#000" stroke-width="1.3"/>
<line x1="242.00" y1="348.85" x2="244.5" y2="348.85" stroke="#000" stroke-width="1.3"/>
<line x1="242.00" y1="321.18" x2="244.5" y2="321.18" stroke="#000" stroke-width="1.3"/>
<line x1="242.00" y1="293.50" x2="244.5" y2="293.50" stroke="#000" stroke-width="1.3"/>
<line x1="243.90" y1="404.5" x2="485.70" y2="404.5" stroke="#000" stroke-width="1.3"/>
<line x1="304.30" y1="404.5" x2="304.30" y2="407.70" stroke="#000" stroke-width="1.3"/>
<line x1="425.00" y1="404.5" x2="425.00" y2="407.70" stroke="#000" stroke-width="1.3"/>
<line x1="768.5" y1="285.90" x2="768.5" y2="398.00" stroke="#000" stroke-width="1.3"/>
<line x1="766.00" y1="397.40" x2="768.5" y2="397.40" stroke="#000" stroke-width="1.3"/>
<line x1="766.00" y1="369.67" x2="768.5" y2="369.67" stroke="#000" stroke-width="1.3"/>
<line x1="766.00" y1="341.95" x2="768.5" y2="341.95" stroke="#000" stroke-width="1.3"/>
<line x1="766.00" y1="314.23" x2="768.5" y2="314.23" stroke="#000" stroke-width="1.3"/>
<line x1="766.00" y1="286.50" x2="768.5" y2="286.50" stroke="#000" stroke-width="1.3"/>
<line x1="767.90" y1="397.5" x2="1010.40" y2="397.5" stroke="#000" stroke-width="1.3"/>
<line x1="808.60" y1="397.5" x2="808.60" y2="400.70" stroke="#000" stroke-width="1.3"/>
<line x1="889.60" y1="397.5" x2="889.60" y2="400.70" stroke="#000" stroke-width="1.3"/>
<line x1="969.20" y1="397.5" x2="969.20" y2="400.70" stroke="#000" stroke-width="1.3"/>
<line x1="336.5" y1="546.20" x2="336.5" y2="657.60" stroke="#000" stroke-width="1.3"/>
<line x1="334.00" y1="657.00" x2="336.5" y2="657.00" stroke="#000" stroke-width="1.3"/>
<line x1="334.00" y1="629.45" x2="336.5" y2="629.45" stroke="#000" stroke-width="1.3"/>
<line x1="334.00" y1="601.90" x2="336.5" y2="601.90" stroke="#000" stroke-width="1.3"/>
<line x1="334.00" y1="574.35" x2="336.5" y2="574.35" stroke="#000" stroke-width="1.3"/>
<line x1="334.00" y1="546.80" x2="336.5" y2="546.80" stroke="#000" stroke-width="1.3"/>
<line x1="335.90" y1="657.5" x2="574.00" y2="657.5" stroke="#000" stroke-width="1.3"/>
<line x1="397.30" y1="657.5" x2="397.30" y2="660.70" stroke="#000" stroke-width="1.3"/>
<line x1="517.60" y1="657.5" x2="517.60" y2="660.70" stroke="#000" stroke-width="1.3"/>
<line x1="874.5" y1="523.00" x2="874.5" y2="635.00" stroke="#000" stroke-width="1.3"/>
<line x1="871.50" y1="634.40" x2="874.5" y2="634.40" stroke="#000" stroke-width="1.3"/>
<line x1="871.50" y1="606.70" x2="874.5" y2="606.70" stroke="#000" stroke-width="1.3"/>
<line x1="871.50" y1="579.00" x2="874.5" y2="579.00" stroke="#000" stroke-width="1.3"/>
<line x1="871.50" y1="551.30" x2="874.5" y2="551.30" stroke="#000" stroke-width="1.3"/>
<line x1="871.50" y1="523.60" x2="874.5" y2="523.60" stroke="#000" stroke-width="1.3"/>
<line x1="873.90" y1="634.5" x2="993.00" y2="634.5" stroke="#000" stroke-width="1.3"/>
<line x1="903.60" y1="634.5" x2="903.60" y2="637.50" stroke="#000" stroke-width="1.3"/>
<line x1="963.00" y1="634.5" x2="963.00" y2="637.50" stroke="#000" stroke-width="1.3"/>
<line x1="341.5" y1="802.40" x2="341.5" y2="914.70" stroke="#000" stroke-width="1.3"/>
<line x1="338.50" y1="914.10" x2="341.5" y2="914.10" stroke="#000" stroke-width="1.3"/>
<line x1="338.50" y1="891.88" x2="341.5" y2="891.88" stroke="#000" stroke-width="1.3"/>
<line x1="338.50" y1="869.66" x2="341.5" y2="869.66" stroke="#000" stroke-width="1.3"/>
<line x1="338.50" y1="847.44" x2="341.5" y2="847.44" stroke="#000" stroke-width="1.3"/>
<line x1="338.50" y1="825.22" x2="341.5" y2="825.22" stroke="#000" stroke-width="1.3"/>
<line x1="338.50" y1="803.00" x2="341.5" y2="803.00" stroke="#000" stroke-width="1.3"/>
<line x1="340.90" y1="914.5" x2="460.20" y2="914.5" stroke="#000" stroke-width="1.3"/>
<line x1="371.00" y1="914.5" x2="371.00" y2="917.50" stroke="#000" stroke-width="1.3"/>
<line x1="430.30" y1="914.5" x2="430.30" y2="917.50" stroke="#000" stroke-width="1.3"/>
</svg></body></html>
